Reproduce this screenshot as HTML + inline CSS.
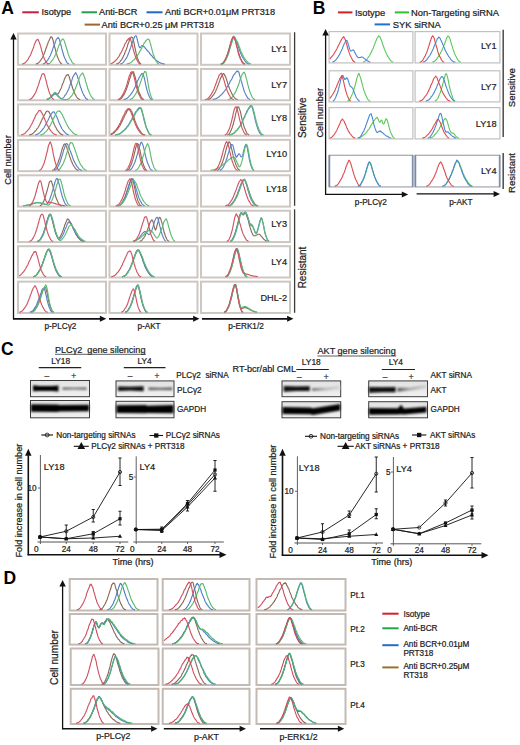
<!DOCTYPE html>
<html><head><meta charset="utf-8"><style>
html,body{margin:0;padding:0;background:#fff;}
body{width:520px;height:745px;overflow:hidden;position:relative;font-family:"Liberation Sans", sans-serif;}
</style></head><body>
<svg width="520" height="745" viewBox="0 0 520 745" style="position:absolute;left:0;top:0" font-family='"Liberation Sans", sans-serif'>
<defs><filter id="bl" x="-20%" y="-50%" width="140%" height="200%"><feGaussianBlur stdDeviation="0.9"/></filter><filter id="bl2" x="-20%" y="-50%" width="140%" height="200%"><feGaussianBlur stdDeviation="0.5"/></filter><linearGradient id="fg1" x1="0" y1="0" x2="1" y2="0"><stop offset="0" stop-color="#7a7a7a"/><stop offset="0.5" stop-color="#bdbdbd"/><stop offset="1" stop-color="#d6d6d6"/></linearGradient><linearGradient id="fg2" x1="0" y1="0" x2="1" y2="0"><stop offset="0" stop-color="#555"/><stop offset="0.4" stop-color="#a8a8a8"/><stop offset="1" stop-color="#cfcfcf"/></linearGradient><linearGradient id="bgg" x1="0" y1="0" x2="0" y2="1"><stop offset="0" stop-color="#e2e2e2"/><stop offset="1" stop-color="#f0f0f0"/></linearGradient></defs>
<rect width="520" height="745" fill="#fff"/>
<text x="1.2" y="13.9" font-size="17.5" text-anchor="start" font-weight="bold" fill="#000">A</text>
<line x1="22.3" y1="12.3" x2="38.8" y2="12.3" stroke="#c8203c" stroke-width="2"/>
<text x="41.5" y="15.4" font-size="9.2" text-anchor="start" font-weight="normal" fill="#222" stroke="#222" stroke-width="0.22">Isotype</text>
<line x1="81.5" y1="12.3" x2="97" y2="12.3" stroke="#20a050" stroke-width="2"/>
<text x="99" y="15.4" font-size="9.2" text-anchor="start" font-weight="normal" fill="#222" stroke="#222" stroke-width="0.22">Anti-BCR</text>
<line x1="146.5" y1="12.3" x2="162.5" y2="12.3" stroke="#2068c0" stroke-width="2"/>
<text x="165" y="15.4" font-size="9.2" text-anchor="start" font-weight="normal" fill="#222" stroke="#222" stroke-width="0.22">Anti BCR+0.01μM PRT318</text>
<line x1="84.6" y1="24.6" x2="100" y2="24.6" stroke="#9c6630" stroke-width="2"/>
<text x="101.5" y="27.7" font-size="9.2" text-anchor="start" font-weight="normal" fill="#222" stroke="#222" stroke-width="0.22">Anti BCR+0.25 μM PRT318</text>
<rect x="18" y="33.5" width="88" height="31.3" fill="#fff" stroke="#cdc7c2" stroke-width="2"/>
<rect x="109.5" y="33.5" width="88" height="31.3" fill="#fff" stroke="#cdc7c2" stroke-width="2"/>
<rect x="201" y="33.5" width="89" height="31.3" fill="#fff" stroke="#cdc7c2" stroke-width="2"/>
<rect x="18" y="68.95" width="88" height="31.3" fill="#fff" stroke="#cdc7c2" stroke-width="2"/>
<rect x="109.5" y="68.95" width="88" height="31.3" fill="#fff" stroke="#cdc7c2" stroke-width="2"/>
<rect x="201" y="68.95" width="89" height="31.3" fill="#fff" stroke="#cdc7c2" stroke-width="2"/>
<rect x="18" y="104.4" width="88" height="31.3" fill="#fff" stroke="#cdc7c2" stroke-width="2"/>
<rect x="109.5" y="104.4" width="88" height="31.3" fill="#fff" stroke="#cdc7c2" stroke-width="2"/>
<rect x="201" y="104.4" width="89" height="31.3" fill="#fff" stroke="#cdc7c2" stroke-width="2"/>
<rect x="18" y="139.85" width="88" height="31.3" fill="#fff" stroke="#cdc7c2" stroke-width="2"/>
<rect x="109.5" y="139.85" width="88" height="31.3" fill="#fff" stroke="#cdc7c2" stroke-width="2"/>
<rect x="201" y="139.85" width="89" height="31.3" fill="#fff" stroke="#cdc7c2" stroke-width="2"/>
<rect x="18" y="175.3" width="88" height="31.3" fill="#fff" stroke="#cdc7c2" stroke-width="2"/>
<rect x="109.5" y="175.3" width="88" height="31.3" fill="#fff" stroke="#cdc7c2" stroke-width="2"/>
<rect x="201" y="175.3" width="89" height="31.3" fill="#fff" stroke="#cdc7c2" stroke-width="2"/>
<rect x="18" y="210.75" width="88" height="31.3" fill="#fff" stroke="#cdc7c2" stroke-width="2"/>
<rect x="109.5" y="210.75" width="88" height="31.3" fill="#fff" stroke="#cdc7c2" stroke-width="2"/>
<rect x="201" y="210.75" width="89" height="31.3" fill="#fff" stroke="#cdc7c2" stroke-width="2"/>
<rect x="18" y="246.2" width="88" height="31.3" fill="#fff" stroke="#cdc7c2" stroke-width="2"/>
<rect x="109.5" y="246.2" width="88" height="31.3" fill="#fff" stroke="#cdc7c2" stroke-width="2"/>
<rect x="201" y="246.2" width="89" height="31.3" fill="#fff" stroke="#cdc7c2" stroke-width="2"/>
<rect x="18" y="281.65" width="88" height="31.3" fill="#fff" stroke="#cdc7c2" stroke-width="2"/>
<rect x="109.5" y="281.65" width="88" height="31.3" fill="#fff" stroke="#cdc7c2" stroke-width="2"/>
<rect x="201" y="281.65" width="89" height="31.3" fill="#fff" stroke="#cdc7c2" stroke-width="2"/>
<text x="287" y="51.7" font-size="9.2" text-anchor="end" font-weight="normal" fill="#222" stroke="#222" stroke-width="0.22">LY1</text>
<text x="287" y="88.2" font-size="9.2" text-anchor="end" font-weight="normal" fill="#222" stroke="#222" stroke-width="0.22">LY7</text>
<text x="287" y="120.6" font-size="9.2" text-anchor="end" font-weight="normal" fill="#222" stroke="#222" stroke-width="0.22">LY8</text>
<text x="287" y="156.8" font-size="9.2" text-anchor="end" font-weight="normal" fill="#222" stroke="#222" stroke-width="0.22">LY10</text>
<text x="287" y="192.2" font-size="9.2" text-anchor="end" font-weight="normal" fill="#222" stroke="#222" stroke-width="0.22">LY18</text>
<text x="287" y="226.6" font-size="9.2" text-anchor="end" font-weight="normal" fill="#222" stroke="#222" stroke-width="0.22">LY3</text>
<text x="287" y="264.7" font-size="9.2" text-anchor="end" font-weight="normal" fill="#222" stroke="#222" stroke-width="0.22">LY4</text>
<text x="287" y="300.7" font-size="9.2" text-anchor="end" font-weight="normal" fill="#222" stroke="#222" stroke-width="0.22">DHL-2</text>
<path d="M35.7 64.01 L36.2 63.91 L36.7 63.76 L37.2 63.61 L37.7 63.4 L38.2 62.99 L38.7 62.74 L39.2 62.13 L39.7 61.57 L40.2 60.95 L40.7 60.07 L41.2 59.6 L41.7 58.67 L42.2 58.01 L42.7 57.09 L43.2 55.89 L43.7 54.55 L44.2 53.81 L44.7 52.5 L45.2 50.88 L45.7 49.25 L46.2 48.1 L46.7 46.79 L47.2 44.83 L47.7 44.21 L48.2 42.07 L48.7 41.29 L49.2 40.22 L49.7 39.18 L50.2 38.1 L50.7 36.91 L51.2 37.18 L51.7 36.9 L52.2 37.67 L52.7 39.24 L53.2 40.72 L53.7 43.05 L54.2 45.05 L54.7 46.99 L55.2 48.68 L55.7 50.87 L56.2 52.84 L56.7 54.4 L57.2 56.06 L57.7 57.54 L58.2 58.52 L58.7 59.63 L59.2 60.78 L59.7 61.71 L60.2 62.51 L60.7 63 L61.2 63.45 L61.7 63.77 L62.2 63.96" fill="none" stroke="#8e6a58" stroke-width="1.15" stroke-linejoin="round" opacity="1"/>
<path d="M42.7 63.98 L43.2 63.86 L43.7 63.71 L44.2 63.54 L44.7 63.15 L45.2 63 L45.7 62.51 L46.2 61.89 L46.7 61.44 L47.2 60.54 L47.7 60.11 L48.2 59.16 L48.7 58.33 L49.2 57.57 L49.7 56.46 L50.2 55.75 L50.7 54.42 L51.2 53.29 L51.7 52.04 L52.2 50.81 L52.7 49.15 L53.2 47.65 L53.7 46.6 L54.2 45.02 L54.7 44.17 L55.2 42.25 L55.7 41.05 L56.2 39.57 L56.7 38.75 L57.2 38.51 L57.7 37.85 L58.2 37.33 L58.7 38.43 L59.2 38.99 L59.7 40.69 L60.2 42.43 L60.7 44.37 L61.2 45.74 L61.7 48.3 L62.2 50.19 L62.7 51.99 L63.2 53.46 L63.7 55.59 L64.2 56.83 L64.7 58.08 L65.2 59.06 L65.7 60.07 L66.2 61.09 L66.7 62.19 L67.2 62.82 L67.7 63.31 L68.2 63.57 L68.7 63.86 L69.2 64.02" fill="none" stroke="#5a80c8" stroke-width="1.15" stroke-linejoin="round" opacity="1"/>
<path d="M47.2 64.03 L47.7 63.93 L48.2 63.79 L48.7 63.55 L49.2 63.45 L49.7 63.17 L50.2 62.8 L50.7 62.35 L51.2 61.71 L51.7 60.98 L52.2 60.44 L52.7 59.92 L53.2 59.04 L53.7 58.28 L54.2 57.31 L54.7 56.15 L55.2 55.26 L55.7 54.25 L56.2 53.01 L56.7 51.72 L57.2 50.88 L57.7 48.91 L58.2 47.63 L58.7 46.18 L59.2 44.88 L59.7 43.94 L60.2 42.7 L60.7 41.85 L61.2 40.34 L61.7 40.07 L62.2 39.44 L62.7 38.94 L63.2 39.09 L63.7 39.58 L64.2 40.92 L64.7 42.31 L65.2 43.72 L65.7 45.45 L66.2 46.99 L66.7 49.05 L67.2 50.16 L67.7 52.06 L68.2 53.97 L68.7 55.37 L69.2 56.66 L69.7 57.86 L70.2 59.03 L70.7 59.65 L71.2 60.41 L71.7 61.56 L72.2 62.31 L72.7 62.98 L73.2 63.39 L73.7 63.65 L74.2 63.84 L74.7 63.99" fill="none" stroke="#5cbb72" stroke-width="1.15" stroke-linejoin="round" opacity="1"/>
<path d="M22.2 64.01 L22.7 63.91 L23.2 63.77 L23.7 63.63 L24.2 63.3 L24.7 63.14 L25.2 62.81 L25.7 62.1 L26.2 61.64 L26.7 61.07 L27.2 60.32 L27.7 59.9 L28.2 58.99 L28.7 57.98 L29.2 57.17 L29.7 56.31 L30.2 55.54 L30.7 54.4 L31.2 53.38 L31.7 51.74 L32.2 50.64 L32.7 49.15 L33.2 48.17 L33.7 46.94 L34.2 45.14 L34.7 43.71 L35.2 42.64 L35.7 41.59 L36.2 40.63 L36.7 39.93 L37.2 39.87 L37.7 39.3 L38.2 39.72 L38.7 40.89 L39.2 42.13 L39.7 43.43 L40.2 45.18 L40.7 46.66 L41.2 48.36 L41.7 50.63 L42.2 52.09 L42.7 53.78 L43.2 55.38 L43.7 57.12 L44.2 58.42 L44.7 59.49 L45.2 60.42 L45.7 61.32 L46.2 62.08 L46.7 62.69 L47.2 63.2 L47.7 63.61 L48.2 63.85 L48.7 64.01" fill="none" stroke="#cf5562" stroke-width="1.15" stroke-linejoin="round" opacity="1"/>
<path d="M116.2 64.01 L116.7 63.91 L117.2 63.76 L117.7 63.55 L118.2 63.28 L118.7 63.11 L119.2 62.58 L119.7 62.01 L120.2 61.43 L120.7 60.68 L121.2 60.07 L121.7 59.52 L122.2 58.48 L122.7 57.86 L123.2 56.68 L123.7 55.55 L124.2 54.78 L124.7 53.59 L125.2 51.95 L125.7 50.76 L126.2 49.79 L126.7 48.4 L127.2 46.93 L127.7 44.82 L128.2 43.45 L128.7 42.66 L129.2 40.69 L129.7 39.31 L130.2 38.55 L130.7 37.96 L131.2 37.09 L131.7 37.14 L132.2 37.45 L132.7 37.55 L133.2 39.56 L133.7 41.76 L134.2 43.72 L134.7 46.6 L135.2 48.68 L135.7 51.06 L136.2 53.63 L136.7 55.54 L137.2 57.21 L137.7 58.69 L138.2 59.76 L138.7 61.07 L139.2 62.12 L139.7 62.96 L140.2 63.33 L140.7 63.75 L141.2 63.97" fill="none" stroke="#8e6a58" stroke-width="1.15" stroke-linejoin="round" opacity="1"/>
<path d="M120.2 63.99 L120.7 63.87 L121.2 63.71 L121.7 63.53 L122.2 63.25 L122.7 62.89 L123.2 62.37 L123.7 61.97 L124.2 61.15 L124.7 60.49 L125.2 59.78 L125.7 59.06 L126.2 58.5 L126.7 57.41 L127.2 56.57 L127.7 55.62 L128.2 53.98 L128.7 53.14 L129.2 51.62 L129.7 50.04 L130.2 48.72 L130.7 47.42 L131.2 45.75 L131.7 44.2 L132.2 42.5 L132.7 41.71 L133.2 39.92 L133.7 39 L134.2 37.9 L134.7 36.5 L135.2 36.13 L135.7 35.74 L136.2 35.92 L136.7 37 L137.2 39.26 L137.7 41.18 L138.2 43.45 L138.7 45.43 L139.2 46.79 L139.7 47.75 L140.2 47.68 L140.7 47.2 L141.2 46.13 L141.7 45.82 L142.2 45.61 L142.7 45.74 L143.2 46.56 L143.7 46.61 L144.2 46.67 L144.7 47.18 L145.2 48.23 L145.7 48.76 L146.2 49.06 L146.7 49.93 L147.2 50.41 L147.7 51.15 L148.2 51.36 L148.7 51.93 L149.2 52.51 L149.7 53.65 L150.2 53.92 L150.7 54.58 L151.2 55.51 L151.7 55.67 L152.2 56.21 L152.7 57.18 L153.2 57.33 L153.7 58.12 L154.2 58.57 L154.7 58.8 L155.2 59.31 L155.7 60.01 L156.2 60.28 L156.7 60.6 L157.2 61 L157.7 61.36 L158.2 61.6 L158.7 61.79 L159.2 62.34 L159.7 62.5 L160.2 62.79 L160.7 63.12 L161.2 63.25 L161.7 63.36 L162.2 63.53 L162.7 63.72 L163.2 63.77 L163.7 63.86 L164.2 63.93 L164.7 63.99" fill="none" stroke="#5a80c8" stroke-width="1.15" stroke-linejoin="round" opacity="1"/>
<path d="M126.7 63.98 L127.2 63.9 L127.7 63.8 L128.2 63.61 L128.7 63.49 L129.2 63.28 L129.7 63.24 L130.2 62.97 L130.7 62.74 L131.2 62.22 L131.7 61.97 L132.2 61.57 L132.7 60.96 L133.2 60.3 L133.7 59.9 L134.2 59.66 L134.7 59.2 L135.2 58.29 L135.7 57.87 L136.2 57.17 L136.7 56.82 L137.2 56.14 L137.7 55.02 L138.2 54.38 L138.7 53.79 L139.2 52.34 L139.7 51.65 L140.2 50.61 L140.7 50.2 L141.2 48.65 L141.7 48.31 L142.2 46.69 L142.7 46.06 L143.2 45.21 L143.7 44.09 L144.2 42.85 L144.7 42.6 L145.2 41.94 L145.7 40.83 L146.2 40.46 L146.7 40.03 L147.2 39.53 L147.7 39.33 L148.2 39.01 L148.7 39.17 L149.2 40.05 L149.7 40.89 L150.2 42.92 L150.7 44.51 L151.2 46.68 L151.7 48.47 L152.2 50.62 L152.7 52.28 L153.2 54.15 L153.7 55.3 L154.2 56.84 L154.7 58.3 L155.2 59.26 L155.7 60.03 L156.2 61.29 L156.7 61.97 L157.2 62.77 L157.7 63.25 L158.2 63.55 L158.7 63.84 L159.2 64" fill="none" stroke="#5cbb72" stroke-width="1.15" stroke-linejoin="round" opacity="1"/>
<path d="M110.7 63.73 L111.2 63.6 L111.7 63.41 L112.2 63.15 L112.7 62.82 L113.2 62.66 L113.7 62.17 L114.2 61.76 L114.7 61.28 L115.2 60.77 L115.7 60.31 L116.2 59.94 L116.7 59.38 L117.2 58.83 L117.7 57.88 L118.2 57.44 L118.7 56.77 L119.2 56.05 L119.7 54.77 L120.2 53.87 L120.7 53.07 L121.2 52.38 L121.7 51.42 L122.2 50.36 L122.7 49.19 L123.2 48.37 L123.7 47.07 L124.2 46.15 L124.7 44.48 L125.2 43.42 L125.7 42.8 L126.2 42.13 L126.7 40.56 L127.2 40.38 L127.7 39.62 L128.2 39.38 L128.7 38.53 L129.2 38.13 L129.7 38.02 L130.2 38.89 L130.7 39.67 L131.2 41.6 L131.7 43.06 L132.2 45.1 L132.7 46.8 L133.2 49.07 L133.7 51 L134.2 52.64 L134.7 54.4 L135.2 55.76 L135.7 57.2 L136.2 58.33 L136.7 59.46 L137.2 60.36 L137.7 61.35 L138.2 62.34 L138.7 62.97 L139.2 63.29 L139.7 63.74 L140.2 63.91 L140.7 64.05" fill="none" stroke="#cf5562" stroke-width="1.15" stroke-linejoin="round" opacity="1"/>
<path d="M220.7 64.06 L221.2 63.95 L221.7 63.78 L222.2 63.5 L222.7 63.18 L223.2 62.87 L223.7 62.07 L224.2 61.26 L224.7 60.35 L225.2 59.49 L225.7 58.51 L226.2 57.78 L226.7 56.37 L227.2 55.04 L227.7 53.35 L228.2 51.76 L228.7 50.03 L229.2 48.43 L229.7 46.33 L230.2 44.66 L230.7 42.83 L231.2 41.55 L231.7 40.19 L232.2 38.74 L232.7 37.46 L233.2 37.06 L233.7 36.23 L234.2 37.18 L234.7 38.23 L235.2 39.71 L235.7 41.38 L236.2 43.44 L236.7 45.84 L237.2 47.16 L237.7 49.17 L238.2 51.24 L238.7 52.99 L239.2 54.55 L239.7 56.38 L240.2 57.34 L240.7 58.74 L241.2 59.82 L241.7 60.63 L242.2 61.5 L242.7 62.44 L243.2 62.89 L243.7 63.28 L244.2 63.68 L244.7 63.89 L245.2 64.03" fill="none" stroke="#8e6a58" stroke-width="1.15" stroke-linejoin="round" opacity="1"/>
<path d="M221.2 64 L221.7 63.86 L222.2 63.67 L222.7 63.37 L223.2 62.94 L223.7 62.39 L224.2 61.74 L224.7 60.84 L225.2 60.18 L225.7 59.3 L226.2 58.27 L226.7 56.89 L227.2 55.87 L227.7 54.32 L228.2 53.17 L228.7 51.52 L229.2 49.66 L229.7 47.56 L230.2 45.73 L230.7 43.94 L231.2 42.56 L231.7 40.74 L232.2 39.37 L232.7 38.21 L233.2 37.75 L233.7 36.59 L234.2 37.55 L234.7 37.31 L235.2 38.16 L235.7 40.08 L236.2 40.8 L236.7 41.73 L237.2 42.96 L237.7 44.85 L238.2 46.45 L238.7 47.94 L239.2 48.79 L239.7 50.74 L240.2 51.81 L240.7 53.39 L241.2 54.34 L241.7 55.22 L242.2 56.73 L242.7 57.32 L243.2 58.35 L243.7 58.97 L244.2 59.76 L244.7 60.57 L245.2 61.13 L245.7 61.93 L246.2 62.58 L246.7 63 L247.2 63.23 L247.7 63.5 L248.2 63.73 L248.7 63.86 L249.2 63.98" fill="none" stroke="#5a80c8" stroke-width="1.15" stroke-linejoin="round" opacity="1"/>
<path d="M221.7 64 L222.2 63.86 L222.7 63.72 L223.2 63.41 L223.7 63.04 L224.2 62.4 L224.7 61.97 L225.2 60.86 L225.7 59.95 L226.2 59.4 L226.7 58.05 L227.2 57.03 L227.7 55.68 L228.2 54.67 L228.7 53.13 L229.2 51.52 L229.7 49.38 L230.2 47.93 L230.7 46.35 L231.2 44.53 L231.7 42.97 L232.2 41.62 L232.7 40.19 L233.2 38.32 L233.7 38.07 L234.2 37.05 L234.7 37.96 L235.2 38.41 L235.7 38.83 L236.2 39.99 L236.7 40.78 L237.2 41.31 L237.7 42.56 L238.2 43.87 L238.7 45.31 L239.2 46.37 L239.7 47.65 L240.2 49.25 L240.7 50.37 L241.2 52.06 L241.7 52.75 L242.2 54.04 L242.7 54.9 L243.2 55.94 L243.7 57.05 L244.2 58 L244.7 58.33 L245.2 59.4 L245.7 59.88 L246.2 60.49 L246.7 61.19 L247.2 61.67 L247.7 62.13 L248.2 62.75 L248.7 63.01 L249.2 63.36 L249.7 63.54 L250.2 63.72 L250.7 63.86 L251.2 63.97" fill="none" stroke="#5cbb72" stroke-width="1.15" stroke-linejoin="round" opacity="1"/>
<path d="M220.7 64.06 L221.2 63.95 L221.7 63.78 L222.2 63.56 L222.7 63.28 L223.2 62.85 L223.7 62.27 L224.2 61.28 L224.7 60.43 L225.2 59.75 L225.7 58.51 L226.2 57.38 L226.7 56.47 L227.2 55.33 L227.7 53.85 L228.2 52.35 L228.7 50.5 L229.2 48.93 L229.7 47.01 L230.2 45.17 L230.7 43.1 L231.2 41.09 L231.7 39.65 L232.2 38.65 L232.7 37.6 L233.2 36.82 L233.7 36.92 L234.2 37.68 L234.7 39.18 L235.2 40.54 L235.7 41.73 L236.2 44.52 L236.7 46.26 L237.2 48.25 L237.7 50.11 L238.2 52.5 L238.7 54.23 L239.2 55.84 L239.7 57.2 L240.2 58.43 L240.7 59.3 L241.2 60.29 L241.7 61.42 L242.2 62.5 L242.7 63.08 L243.2 63.38 L243.7 63.72 L244.2 63.93 L244.7 64.06" fill="none" stroke="#cf5562" stroke-width="1.15" stroke-linejoin="round" opacity="1"/>
<path d="M46.7 99.47 L47.2 99.34 L47.7 99.16 L48.2 98.84 L48.7 98.64 L49.2 98.33 L49.7 98.14 L50.2 97.65 L50.7 97.03 L51.2 96.56 L51.7 96 L52.2 95.38 L52.7 95.12 L53.2 94.65 L53.7 94.15 L54.2 93.59 L54.7 93.24 L55.2 93.06 L55.7 93.32 L56.2 93.57 L56.7 93.7 L57.2 93.96 L57.7 93.81 L58.2 93.69 L58.7 92.7 L59.2 92.2 L59.7 90.86 L60.2 89.97 L60.7 89.05 L61.2 87.97 L61.7 86.63 L62.2 85.03 L62.7 83.64 L63.2 82.77 L63.7 81.49 L64.2 79.8 L64.7 78.51 L65.2 77.55 L65.7 76.69 L66.2 75.47 L66.7 75.39 L67.2 74.69 L67.7 74.51 L68.2 74.53 L68.7 75.75 L69.2 76.71 L69.7 78.49 L70.2 80.25 L70.7 81.86 L71.2 82.95 L71.7 84.85 L72.2 86.78 L72.7 88.53 L73.2 89.68 L73.7 90.94 L74.2 92.34 L74.7 93.54 L75.2 94.34 L75.7 95.11 L76.2 96.15 L76.7 97.08 L77.2 97.72 L77.7 98.26 L78.2 98.64 L78.7 99.04 L79.2 99.23 L79.7 99.39 L80.2 99.51" fill="none" stroke="#8e6a58" stroke-width="1.15" stroke-linejoin="round" opacity="1"/>
<path d="M46.7 99.49 L47.2 99.38 L47.7 99.22 L48.2 98.94 L48.7 98.7 L49.2 98.49 L49.7 98.26 L50.2 97.71 L50.7 97.5 L51.2 96.89 L51.7 96.62 L52.2 96.13 L52.7 95.42 L53.2 95.13 L53.7 94.41 L54.2 94.27 L54.7 94.2 L55.2 94.16 L55.7 94.26 L56.2 94.47 L56.7 94.76 L57.2 95.57 L57.7 95.96 L58.2 96.53 L58.7 96.75 L59.2 97.46 L59.7 97.89 L60.2 98.23 L60.7 98.45 L61.2 98.57 L61.7 98.66 L62.2 98.56 L62.7 98.17 L63.2 97.74 L63.7 97.36 L64.2 96.75 L64.7 95.72 L65.2 95.16 L65.7 94.77 L66.2 93.7 L66.7 92.98 L67.2 92.03 L67.7 91.03 L68.2 90.02 L68.7 88.95 L69.2 87.51 L69.7 86.15 L70.2 84.31 L70.7 83.57 L71.2 81.46 L71.7 80.7 L72.2 79.2 L72.7 77.45 L73.2 76.22 L73.7 75.5 L74.2 74.95 L74.7 73.78 L75.2 73.39 L75.7 72.69 L76.2 73.89 L76.7 74.59 L77.2 75.25 L77.7 77.51 L78.2 78.75 L78.7 80.1 L79.2 81.91 L79.7 84.26 L80.2 85.98 L80.7 87.6 L81.2 88.59 L81.7 90.47 L82.2 91.52 L82.7 92.66 L83.2 94.02 L83.7 94.99 L84.2 95.53 L84.7 96.57 L85.2 97.5 L85.7 98.01 L86.2 98.58 L86.7 98.94 L87.2 99.16 L87.7 99.35 L88.2 99.48" fill="none" stroke="#5a80c8" stroke-width="1.15" stroke-linejoin="round" opacity="1"/>
<path d="M46.7 99.44 L47.2 99.3 L47.7 99.18 L48.2 98.77 L48.7 98.42 L49.2 98.15 L49.7 97.68 L50.2 97.5 L50.7 96.94 L51.2 96.3 L51.7 95.51 L52.2 94.87 L52.7 94.48 L53.2 93.94 L53.7 93.32 L54.2 92.85 L54.7 92.34 L55.2 92.7 L55.7 92.62 L56.2 93.06 L56.7 93.55 L57.2 94.18 L57.7 94.89 L58.2 95.63 L58.7 96.24 L59.2 96.79 L59.7 97.18 L60.2 97.84 L60.7 98.19 L61.2 98.39 L61.7 98.79 L62.2 99.12 L62.7 99.27 L63.2 99.42 L63.7 99.52 L64.2 99.58 L64.7 99.62 L65.2 99.63 L65.7 99.59 L66.2 99.53 L66.7 99.45 L67.2 99.34 L67.7 99.2 L68.2 99.08 L68.7 98.75 L69.2 98.48 L69.7 97.92 L70.2 97.43 L70.7 96.77 L71.2 96.27 L71.7 95.7 L72.2 95.03 L72.7 94.1 L73.2 93.16 L73.7 92.38 L74.2 91.51 L74.7 90.32 L75.2 89.03 L75.7 87.75 L76.2 86.39 L76.7 84.96 L77.2 83.7 L77.7 82.73 L78.2 80.71 L78.7 79.8 L79.2 78.21 L79.7 77.13 L80.2 75.62 L80.7 75.15 L81.2 74.28 L81.7 73.68 L82.2 73.47 L82.7 72.94 L83.2 73.98 L83.7 75.3 L84.2 76.57 L84.7 77.55 L85.2 79.67 L85.7 81.65 L86.2 82.94 L86.7 84.83 L87.2 86.28 L87.7 88.52 L88.2 89.77 L88.7 90.96 L89.2 92.22 L89.7 93.32 L90.2 94.73 L90.7 95.48 L91.2 96.36 L91.7 97.22 L92.2 97.7 L92.7 98.35 L93.2 98.69 L93.7 99.09 L94.2 99.28 L94.7 99.43" fill="none" stroke="#5cbb72" stroke-width="1.15" stroke-linejoin="round" opacity="1"/>
<path d="M29.2 99.46 L29.7 99.34 L30.2 99.18 L30.7 98.9 L31.2 98.68 L31.7 98.34 L32.2 97.71 L32.7 97.02 L33.2 96.52 L33.7 95.57 L34.2 94.82 L34.7 94.17 L35.2 93.16 L35.7 92.25 L36.2 91.08 L36.7 89.81 L37.2 88.25 L37.7 86.79 L38.2 85.63 L38.7 84.25 L39.2 82.43 L39.7 80.57 L40.2 79.47 L40.7 77.9 L41.2 76.66 L41.7 74.89 L42.2 74.16 L42.7 73.93 L43.2 73.53 L43.7 73.5 L44.2 74.25 L44.7 75.5 L45.2 77.67 L45.7 79.45 L46.2 80.95 L46.7 83.22 L47.2 85.31 L47.7 87.2 L48.2 88.57 L48.7 90.64 L49.2 91.98 L49.7 93.42 L50.2 94.54 L50.7 95.34 L51.2 96.3 L51.7 97.47 L52.2 98.21 L52.7 98.61 L53.2 99.07 L53.7 99.28 L54.2 99.45" fill="none" stroke="#cf5562" stroke-width="1.15" stroke-linejoin="round" opacity="1"/>
<path d="M118.7 99.49 L119.2 99.39 L119.7 99.24 L120.2 99.11 L120.7 98.68 L121.2 98.41 L121.7 97.85 L122.2 97.37 L122.7 96.45 L123.2 95.74 L123.7 95.14 L124.2 94.39 L124.7 93.2 L125.2 92.11 L125.7 90.79 L126.2 90.03 L126.7 88.34 L127.2 87.06 L127.7 85.44 L128.2 84.13 L128.7 82.41 L129.2 80.57 L129.7 78.59 L130.2 77.78 L130.7 75.97 L131.2 74.34 L131.7 73.05 L132.2 72.98 L132.7 72.51 L133.2 71.63 L133.7 72.32 L134.2 74.06 L134.7 76.08 L135.2 77.1 L135.7 79.62 L136.2 81.27 L136.7 83.62 L137.2 85.51 L137.7 87.92 L138.2 89.29 L138.7 91.26 L139.2 92.6 L139.7 93.66 L140.2 94.78 L140.7 95.98 L141.2 97.06 L141.7 97.83 L142.2 98.42 L142.7 98.88 L143.2 99.17 L143.7 99.38 L144.2 99.51" fill="none" stroke="#8e6a58" stroke-width="1.15" stroke-linejoin="round" opacity="1"/>
<path d="M123.7 99.46 L124.2 99.38 L124.7 99.27 L125.2 99.19 L125.7 99.01 L126.2 98.71 L126.7 98.41 L127.2 98.29 L127.7 97.78 L128.2 97.27 L128.7 96.97 L129.2 96.05 L129.7 95.79 L130.2 95.06 L130.7 94.48 L131.2 93.79 L131.7 93.24 L132.2 92.42 L132.7 91.51 L133.2 90.72 L133.7 89.63 L134.2 88.78 L134.7 87.75 L135.2 86.97 L135.7 85.42 L136.2 84.37 L136.7 83.42 L137.2 81.81 L137.7 80.62 L138.2 79.75 L138.7 78.9 L139.2 77.57 L139.7 76.93 L140.2 76.01 L140.7 74.92 L141.2 74.6 L141.7 73.74 L142.2 73.36 L142.7 73.89 L143.2 74.17 L143.7 76.23 L144.2 77.53 L144.7 79.7 L145.2 82.25 L145.7 84.94 L146.2 86.84 L146.7 89.03 L147.2 90.58 L147.7 92.73 L148.2 93.82 L148.7 95 L149.2 96.23 L149.7 97.35 L150.2 98.32 L150.7 98.71 L151.2 99.17 L151.7 99.4 L152.2 99.54" fill="none" stroke="#5a80c8" stroke-width="1.15" stroke-linejoin="round" opacity="1"/>
<path d="M129.7 99.46 L130.2 99.35 L130.7 99.2 L131.2 99.01 L131.7 98.67 L132.2 98.34 L132.7 98.11 L133.2 97.43 L133.7 96.74 L134.2 96.28 L134.7 95.44 L135.2 94.57 L135.7 94.06 L136.2 92.82 L136.7 92.19 L137.2 90.83 L137.7 90.09 L138.2 88.65 L138.7 87.05 L139.2 86.18 L139.7 84.72 L140.2 83.05 L140.7 81.7 L141.2 80.45 L141.7 78.84 L142.2 77.42 L142.7 75.31 L143.2 74.3 L143.7 72.96 L144.2 72.79 L144.7 71.45 L145.2 71.76 L145.7 71.61 L146.2 73.03 L146.7 75.61 L147.2 77.91 L147.7 81.2 L148.2 84.18 L148.7 86.8 L149.2 89.88 L149.7 91.58 L150.2 93.66 L150.7 95.29 L151.2 96.64 L151.7 97.99 L152.2 98.6 L152.7 99.17 L153.2 99.44" fill="none" stroke="#5cbb72" stroke-width="1.15" stroke-linejoin="round" opacity="1"/>
<path d="M117.7 99.47 L118.2 99.35 L118.7 99.19 L119.2 98.95 L119.7 98.7 L120.2 98.22 L120.7 97.79 L121.2 97.24 L121.7 96.25 L122.2 95.67 L122.7 94.57 L123.2 93.96 L123.7 92.79 L124.2 91.5 L124.7 90.51 L125.2 89.15 L125.7 87.97 L126.2 86.7 L126.7 85.12 L127.2 83.41 L127.7 81.35 L128.2 79.83 L128.7 78.11 L129.2 76.16 L129.7 75.44 L130.2 74.04 L130.7 72.51 L131.2 72.34 L131.7 71.89 L132.2 71.65 L132.7 72.76 L133.2 73.84 L133.7 75.67 L134.2 77.27 L134.7 79.36 L135.2 81.84 L135.7 83.64 L136.2 85.83 L136.7 88.01 L137.2 89.29 L137.7 91.35 L138.2 92.83 L138.7 94.11 L139.2 94.95 L139.7 95.88 L140.2 97.01 L140.7 97.93 L141.2 98.54 L141.7 99 L142.2 99.2 L142.7 99.4" fill="none" stroke="#cf5562" stroke-width="1.15" stroke-linejoin="round" opacity="1"/>
<path d="M207.7 99.49 L208.2 99.4 L208.7 99.27 L209.2 99.08 L209.7 98.87 L210.2 98.63 L210.7 98.21 L211.2 97.82 L211.7 97.12 L212.2 96.5 L212.7 95.97 L213.2 95.08 L213.7 94.76 L214.2 93.76 L214.7 92.96 L215.2 92.12 L215.7 91.21 L216.2 89.67 L216.7 88.99 L217.2 87.39 L217.7 85.81 L218.2 85.07 L218.7 83.66 L219.2 81.95 L219.7 80.67 L220.2 79.22 L220.7 77.79 L221.2 77.23 L221.7 76.06 L222.2 75.19 L222.7 74.77 L223.2 73.5 L223.7 73.57 L224.2 74.08 L224.7 75.54 L225.2 75.71 L225.7 77.01 L226.2 78.61 L226.7 79.81 L227.2 81.56 L227.7 83.28 L228.2 84.89 L228.7 86.27 L229.2 87.84 L229.7 88.99 L230.2 90.02 L230.7 91.25 L231.2 92.28 L231.7 93.35 L232.2 94.46 L232.7 95.12 L233.2 95.88 L233.7 96.53 L234.2 97.35 L234.7 98 L235.2 98.37 L235.7 98.67 L236.2 99.07 L236.7 99.23 L237.2 99.38 L237.7 99.49" fill="none" stroke="#8e6a58" stroke-width="1.15" stroke-linejoin="round" opacity="1"/>
<path d="M212.7 99.44 L213.2 99.37 L213.7 99.29 L214.2 99.2 L214.7 99.02 L215.2 99.02 L215.7 98.83 L216.2 98.65 L216.7 98.32 L217.2 98.01 L217.7 97.77 L218.2 97.55 L218.7 97 L219.2 96.75 L219.7 96.3 L220.2 95.52 L220.7 95.23 L221.2 94.76 L221.7 94.3 L222.2 93.64 L222.7 93.35 L223.2 92.59 L223.7 92.05 L224.2 91.32 L224.7 90.88 L225.2 90 L225.7 89.35 L226.2 88.74 L226.7 88.01 L227.2 86.88 L227.7 86.42 L228.2 84.91 L228.7 84.59 L229.2 83.77 L229.7 82.78 L230.2 81.15 L230.7 80.7 L231.2 79.95 L231.7 79.13 L232.2 78.21 L232.7 76.71 L233.2 75.9 L233.7 75.02 L234.2 74.21 L234.7 74.18 L235.2 73 L235.7 72.67 L236.2 71.71 L236.7 71.33 L237.2 70.99 L237.7 71.76 L238.2 71.28 L238.7 72.09 L239.2 73.28 L239.7 75.6 L240.2 77.17 L240.7 79.05 L241.2 80.97 L241.7 82.17 L242.2 84.07 L242.7 86.01 L243.2 87.58 L243.7 89.31 L244.2 90.97 L244.7 92.38 L245.2 93.54 L245.7 94.26 L246.2 95.4 L246.7 96.27 L247.2 97.14 L247.7 97.96 L248.2 98.43 L248.7 98.82 L249.2 99.05 L249.7 99.29 L250.2 99.44" fill="none" stroke="#5a80c8" stroke-width="1.15" stroke-linejoin="round" opacity="1"/>
<path d="M228.2 99.48 L228.7 99.38 L229.2 99.25 L229.7 99.09 L230.2 98.87 L230.7 98.45 L231.2 98.17 L231.7 97.6 L232.2 97.08 L232.7 96.57 L233.2 95.69 L233.7 95.02 L234.2 94.13 L234.7 93.51 L235.2 92.41 L235.7 91.5 L236.2 90.62 L236.7 89.04 L237.2 88.31 L237.7 86.49 L238.2 85.6 L238.7 84.32 L239.2 82.73 L239.7 80.79 L240.2 79.15 L240.7 78.63 L241.2 76.84 L241.7 75.61 L242.2 74.2 L242.7 73.89 L243.2 72.85 L243.7 72.56 L244.2 72.04 L244.7 73.35 L245.2 73.88 L245.7 76.11 L246.2 78.01 L246.7 79.56 L247.2 81.81 L247.7 84.2 L248.2 85.8 L248.7 88.1 L249.2 89.4 L249.7 91.08 L250.2 92.48 L250.7 93.83 L251.2 95.04 L251.7 95.94 L252.2 97.04 L252.7 97.72 L253.2 98.53 L253.7 98.8 L254.2 99.17 L254.7 99.38 L255.2 99.51" fill="none" stroke="#5cbb72" stroke-width="1.15" stroke-linejoin="round" opacity="1"/>
<path d="M205.2 99.49 L205.7 99.39 L206.2 99.26 L206.7 99.16 L207.2 98.92 L207.7 98.63 L208.2 98.13 L208.7 97.77 L209.2 97.24 L209.7 96.38 L210.2 95.91 L210.7 95.18 L211.2 94.44 L211.7 93.53 L212.2 92.65 L212.7 91.74 L213.2 90.87 L213.7 89.77 L214.2 88.69 L214.7 86.95 L215.2 85.75 L215.7 84.31 L216.2 83.38 L216.7 81.75 L217.2 80.07 L217.7 78.88 L218.2 78.02 L218.7 76.51 L219.2 75.04 L219.7 74.78 L220.2 74.14 L220.7 73.6 L221.2 73.16 L221.7 73.57 L222.2 75.2 L222.7 76.42 L223.2 77.78 L223.7 79.31 L224.2 80.84 L224.7 82.9 L225.2 84.5 L225.7 86.3 L226.2 87.38 L226.7 89.1 L227.2 90.91 L227.7 91.72 L228.2 93.35 L228.7 94.24 L229.2 94.89 L229.7 95.78 L230.2 96.73 L230.7 97.6 L231.2 98.25 L231.7 98.6 L232.2 99.03 L232.7 99.21 L233.2 99.38 L233.7 99.5" fill="none" stroke="#cf5562" stroke-width="1.15" stroke-linejoin="round" opacity="1"/>
<path d="M29.2 134.89 L29.7 134.8 L30.2 134.68 L30.7 134.58 L31.2 134.38 L31.7 134.24 L32.2 133.9 L32.7 133.48 L33.2 133.12 L33.7 132.71 L34.2 132.12 L34.7 131.63 L35.2 131.28 L35.7 130.57 L36.2 130.08 L36.7 129.3 L37.2 128.53 L37.7 128.04 L38.2 127.17 L38.7 126.23 L39.2 125.54 L39.7 124.74 L40.2 123.44 L40.7 122.31 L41.2 121.34 L41.7 120.33 L42.2 119.13 L42.7 118.2 L43.2 117.17 L43.7 116.29 L44.2 115.43 L44.7 114.21 L45.2 113.84 L45.7 112.78 L46.2 111.77 L46.7 111.31 L47.2 111.03 L47.7 111.25 L48.2 111.29 L48.7 111.75 L49.2 112.31 L49.7 113.39 L50.2 114.17 L50.7 115.08 L51.2 116.94 L51.7 117.79 L52.2 118.98 L52.7 120.57 L53.2 121.76 L53.7 122.66 L54.2 124.48 L54.7 125.28 L55.2 126.58 L55.7 127.22 L56.2 128.07 L56.7 129.14 L57.2 130.1 L57.7 130.58 L58.2 131.22 L58.7 131.72 L59.2 132.5 L59.7 133.04 L60.2 133.47 L60.7 133.93 L61.2 134.25 L61.7 134.4 L62.2 134.66 L62.7 134.8 L63.2 134.9" fill="none" stroke="#8e6a58" stroke-width="1.15" stroke-linejoin="round" opacity="1"/>
<path d="M35.2 134.86 L35.7 134.77 L36.2 134.65 L36.7 134.54 L37.2 134.28 L37.7 134.11 L38.2 133.75 L38.7 133.58 L39.2 132.94 L39.7 132.66 L40.2 132.21 L40.7 131.67 L41.2 131.15 L41.7 130.79 L42.2 130.05 L42.7 129.43 L43.2 128.62 L43.7 128.08 L44.2 127.36 L44.7 126.57 L45.2 125.39 L45.7 124.35 L46.2 123.66 L46.7 122.9 L47.2 121.48 L47.7 120.76 L48.2 119.88 L48.7 118.93 L49.2 117.39 L49.7 116.38 L50.2 115.6 L50.7 114.88 L51.2 114 L51.7 113.62 L52.2 112.34 L52.7 112.48 L53.2 111.93 L53.7 111.74 L54.2 112.07 L54.7 112.96 L55.2 113.87 L55.7 114.54 L56.2 115.94 L56.7 116.44 L57.2 118.03 L57.7 118.84 L58.2 120.53 L58.7 121.67 L59.2 122.96 L59.7 124 L60.2 125.27 L60.7 126.43 L61.2 127.01 L61.7 128.18 L62.2 129.04 L62.7 129.79 L63.2 130.42 L63.7 131.08 L64.2 131.57 L64.7 132.17 L65.2 132.89 L65.7 133.25 L66.2 133.69 L66.7 134.2 L67.2 134.31 L67.7 134.52 L68.2 134.73 L68.7 134.85" fill="none" stroke="#5a80c8" stroke-width="1.15" stroke-linejoin="round" opacity="1"/>
<path d="M40.2 134.9 L40.7 134.81 L41.2 134.7 L41.7 134.52 L42.2 134.45 L42.7 134.11 L43.2 133.89 L43.7 133.72 L44.2 133.36 L44.7 132.63 L45.2 132.18 L45.7 131.74 L46.2 131.33 L46.7 130.8 L47.2 130.2 L47.7 129.32 L48.2 128.85 L48.7 128.22 L49.2 127.02 L49.7 126.24 L50.2 125.72 L50.7 124.33 L51.2 123.52 L51.7 122.38 L52.2 121.41 L52.7 120.15 L53.2 119.14 L53.7 118 L54.2 117.46 L54.7 115.98 L55.2 115.1 L55.7 113.95 L56.2 113.33 L56.7 112.11 L57.2 111.73 L57.7 111.45 L58.2 111.08 L58.7 110.97 L59.2 110.71 L59.7 111.47 L60.2 111.57 L60.7 112.52 L61.2 112.95 L61.7 113.8 L62.2 114.7 L62.7 115.42 L63.2 117.2 L63.7 117.57 L64.2 118.96 L64.7 119.97 L65.2 120.98 L65.7 121.92 L66.2 123.28 L66.7 124.25 L67.2 124.86 L67.7 126.31 L68.2 126.84 L68.7 127.65 L69.2 128.73 L69.7 129.13 L70.2 129.75 L70.7 130.24 L71.2 131.04 L71.7 131.28 L72.2 131.99 L72.7 132.57 L73.2 132.94 L73.7 133.58 L74.2 133.75 L74.7 134.05 L75.2 134.34 L75.7 134.44 L76.2 134.65 L76.7 134.77 L77.2 134.87" fill="none" stroke="#5cbb72" stroke-width="1.15" stroke-linejoin="round" opacity="1"/>
<path d="M21.2 134.87 L21.7 134.77 L22.2 134.65 L22.7 134.52 L23.2 134.31 L23.7 134.07 L24.2 133.73 L24.7 133.53 L25.2 133.07 L25.7 132.59 L26.2 131.98 L26.7 131.34 L27.2 131.06 L27.7 130.29 L28.2 129.88 L28.7 129.18 L29.2 128.6 L29.7 127.73 L30.2 126.65 L30.7 125.97 L31.2 124.96 L31.7 124.3 L32.2 123.32 L32.7 122.31 L33.2 121.04 L33.7 119.92 L34.2 118.71 L34.7 118.23 L35.2 116.59 L35.7 115.4 L36.2 114.7 L36.7 114.22 L37.2 113.13 L37.7 112.66 L38.2 111.84 L38.7 110.63 L39.2 110.6 L39.7 110.45 L40.2 110.57 L40.7 110.92 L41.2 111.86 L41.7 112.66 L42.2 113.57 L42.7 114.53 L43.2 115.71 L43.7 116.78 L44.2 118.34 L44.7 119.16 L45.2 120.51 L45.7 121.45 L46.2 123.07 L46.7 124.1 L47.2 125.24 L47.7 125.78 L48.2 126.65 L48.7 127.69 L49.2 128.66 L49.7 129.19 L50.2 129.91 L50.7 130.64 L51.2 131.33 L51.7 131.81 L52.2 132.43 L52.7 133 L53.2 133.43 L53.7 133.75 L54.2 134 L54.7 134.42 L55.2 134.53 L55.7 134.69 L56.2 134.81 L56.7 134.91" fill="none" stroke="#cf5562" stroke-width="1.15" stroke-linejoin="round" opacity="1"/>
<path d="M110.7 134.61 L111.2 134.53 L111.7 134.34 L112.2 133.98 L112.7 133.76 L113.2 133.36 L113.7 133.1 L114.2 132.79 L114.7 132.16 L115.2 131.49 L115.7 130.89 L116.2 130.36 L116.7 130.03 L117.2 129.47 L117.7 128.99 L118.2 128.02 L118.7 127.52 L119.2 126.78 L119.7 126.04 L120.2 125.18 L120.7 123.82 L121.2 123.24 L121.7 121.64 L122.2 121.27 L122.7 119.62 L123.2 119.14 L123.7 118.17 L124.2 116.52 L124.7 115.88 L125.2 114.41 L125.7 113.92 L126.2 113.12 L126.7 111.56 L127.2 110.83 L127.7 109.99 L128.2 109.54 L128.7 109.75 L129.2 108.93 L129.7 108.83 L130.2 109.45 L130.7 109.62 L131.2 111.14 L131.7 111.48 L132.2 112.88 L132.7 114.79 L133.2 116.1 L133.7 116.92 L134.2 118.18 L134.7 120.15 L135.2 121.32 L135.7 122.34 L136.2 123.99 L136.7 124.74 L137.2 126.11 L137.7 127.4 L138.2 128.18 L138.7 128.96 L139.2 129.83 L139.7 130.45 L140.2 131.31 L140.7 131.74 L141.2 132.6 L141.7 133.09 L142.2 133.57 L142.7 134 L143.2 134.3 L143.7 134.46 L144.2 134.69 L144.7 134.82 L145.2 134.92" fill="none" stroke="#8e6a58" stroke-width="1.15" stroke-linejoin="round" opacity="1"/>
<path d="M115.2 134.9 L115.7 134.83 L116.2 134.76 L116.7 134.66 L117.2 134.48 L117.7 134.37 L118.2 134.25 L118.7 134.12 L119.2 133.97 L119.7 133.51 L120.2 133.29 L120.7 132.93 L121.2 132.71 L121.7 132.2 L122.2 131.59 L122.7 131.14 L123.2 130.84 L123.7 130.54 L124.2 130.03 L124.7 129.33 L125.2 129.06 L125.7 128.35 L126.2 127.81 L126.7 127.02 L127.2 126.41 L127.7 126.04 L128.2 125.5 L128.7 124.59 L129.2 123.71 L129.7 122.79 L130.2 121.78 L130.7 120.87 L131.2 120.63 L131.7 119.12 L132.2 118.23 L132.7 117.26 L133.2 116.59 L133.7 115.95 L134.2 114.53 L134.7 113.68 L135.2 112.93 L135.7 111.88 L136.2 111.63 L136.7 111.15 L137.2 110 L137.7 109.13 L138.2 109.19 L138.7 108.16 L139.2 107.61 L139.7 108.08 L140.2 107.59 L140.7 107.97 L141.2 109.22 L141.7 110.93 L142.2 112.62 L142.7 114.11 L143.2 116.14 L143.7 118.51 L144.2 120.85 L144.7 122.27 L145.2 124.15 L145.7 126.17 L146.2 127.47 L146.7 128.65 L147.2 129.83 L147.7 130.98 L148.2 132.05 L148.7 132.95 L149.2 133.74 L149.7 134.22 L150.2 134.56 L150.7 134.76 L151.2 134.92" fill="none" stroke="#5a80c8" stroke-width="1.15" stroke-linejoin="round" opacity="1"/>
<path d="M115.7 134.89 L116.2 134.82 L116.7 134.74 L117.2 134.64 L117.7 134.5 L118.2 134.42 L118.7 134.22 L119.2 134.07 L119.7 133.83 L120.2 133.67 L120.7 133.43 L121.2 132.83 L121.7 132.64 L122.2 132.31 L122.7 131.65 L123.2 131.12 L123.7 130.98 L124.2 130.38 L124.7 130.04 L125.2 129.47 L125.7 129.2 L126.2 128.65 L126.7 127.56 L127.2 127 L127.7 126.56 L128.2 125.82 L128.7 125.3 L129.2 124.22 L129.7 123.67 L130.2 122.5 L130.7 121.79 L131.2 120.9 L131.7 119.91 L132.2 119.57 L132.7 118.86 L133.2 117.83 L133.7 116.95 L134.2 116.15 L134.7 115.3 L135.2 113.97 L135.7 112.83 L136.2 112.4 L136.7 111.16 L137.2 110.46 L137.7 110.64 L138.2 109.5 L138.7 109.18 L139.2 109.03 L139.7 107.82 L140.2 108.32 L140.7 107.96 L141.2 108.47 L141.7 109.27 L142.2 111.07 L142.7 113.11 L143.2 115.01 L143.7 117.3 L144.2 118.7 L144.7 120.72 L145.2 123.2 L145.7 125.08 L146.2 126.56 L146.7 127.95 L147.2 128.96 L147.7 130.09 L148.2 131.08 L148.7 132.43 L149.2 133.07 L149.7 133.74 L150.2 134.22 L150.7 134.5 L151.2 134.8 L151.7 134.94" fill="none" stroke="#5cbb72" stroke-width="1.15" stroke-linejoin="round" opacity="1"/>
<path d="M110.7 134.34 L111.2 134.11 L111.7 133.71 L112.2 133.33 L112.7 133.01 L113.2 132.68 L113.7 132.06 L114.2 131.38 L114.7 131.18 L115.2 130.59 L115.7 130.07 L116.2 129.54 L116.7 128.73 L117.2 128.2 L117.7 127.42 L118.2 126.69 L118.7 125.53 L119.2 125.06 L119.7 123.67 L120.2 123.05 L120.7 122.17 L121.2 120.47 L121.7 119.95 L122.2 118.3 L122.7 117.27 L123.2 116.16 L123.7 115.75 L124.2 114.44 L124.7 113.76 L125.2 112.03 L125.7 111.22 L126.2 110.63 L126.7 110.11 L127.2 109.64 L127.7 108.71 L128.2 108.78 L128.7 108.62 L129.2 109.48 L129.7 110.04 L130.2 111.06 L130.7 111.45 L131.2 112.78 L131.7 114.43 L132.2 115.12 L132.7 117.04 L133.2 118.32 L133.7 119.92 L134.2 121.2 L134.7 122.12 L135.2 123.75 L135.7 125.07 L136.2 126 L136.7 127.16 L137.2 127.82 L137.7 129.12 L138.2 129.52 L138.7 130.66 L139.2 130.97 L139.7 131.75 L140.2 132.62 L140.7 133.12 L141.2 133.64 L141.7 134.02 L142.2 134.32 L142.7 134.52 L143.2 134.68 L143.7 134.82 L144.2 134.92" fill="none" stroke="#cf5562" stroke-width="1.15" stroke-linejoin="round" opacity="1"/>
<path d="M227.2 134.93 L227.7 134.78 L228.2 134.48 L228.7 134.12 L229.2 133.63 L229.7 133.17 L230.2 132.22 L230.7 130.87 L231.2 130.23 L231.7 128.76 L232.2 127.64 L232.7 125.71 L233.2 124.61 L233.7 122.2 L234.2 120.54 L234.7 118.6 L235.2 116.58 L235.7 113.7 L236.2 111.93 L236.7 110.4 L237.2 108.58 L237.7 106.91 L238.2 107.03 L238.7 106.94 L239.2 108.37 L239.7 109.74 L240.2 110.92 L240.7 112.97 L241.2 115.55 L241.7 117.8 L242.2 119.9 L242.7 121.55 L243.2 123.57 L243.7 125.48 L244.2 127.11 L244.7 128.3 L245.2 129.49 L245.7 130.52 L246.2 131.67 L246.7 132.82 L247.2 133.59 L247.7 133.99 L248.2 134.44 L248.7 134.7 L249.2 134.88" fill="none" stroke="#8e6a58" stroke-width="1.15" stroke-linejoin="round" opacity="1"/>
<path d="M229.2 134.9 L229.7 134.83 L230.2 134.73 L230.7 134.61 L231.2 134.44 L231.7 134.38 L232.2 134.03 L232.7 133.89 L233.2 133.48 L233.7 133.12 L234.2 132.83 L234.7 132.52 L235.2 131.68 L235.7 131.23 L236.2 130.55 L236.7 130.3 L237.2 129.8 L237.7 128.89 L238.2 128.48 L238.7 127.91 L239.2 127.06 L239.7 126.15 L240.2 125.68 L240.7 124.49 L241.2 123.62 L241.7 122.61 L242.2 121.9 L242.7 120.42 L243.2 119.27 L243.7 118.13 L244.2 117.48 L244.7 116.03 L245.2 115.2 L245.7 113.76 L246.2 113.31 L246.7 111.48 L247.2 110.37 L247.7 109.85 L248.2 108.93 L248.7 108.09 L249.2 107.35 L249.7 107.28 L250.2 105.78 L250.7 106.24 L251.2 106.14 L251.7 106.71 L252.2 107.65 L252.7 108.62 L253.2 111.28 L253.7 113.28 L254.2 114.92 L254.7 117.59 L255.2 119.9 L255.7 121.54 L256.2 123.53 L256.7 125.36 L257.2 126.87 L257.7 128.62 L258.2 129.48 L258.7 130.62 L259.2 131.99 L259.7 132.94 L260.2 133.56 L260.7 134.1 L261.2 134.51 L261.7 134.73 L262.2 134.9" fill="none" stroke="#5a80c8" stroke-width="1.15" stroke-linejoin="round" opacity="1"/>
<path d="M229.7 134.88 L230.2 134.79 L230.7 134.69 L231.2 134.62 L231.7 134.43 L232.2 134.3 L232.7 133.99 L233.2 133.67 L233.7 133.53 L234.2 133.06 L234.7 132.59 L235.2 132.29 L235.7 131.5 L236.2 130.84 L236.7 130.59 L237.2 130.06 L237.7 129.29 L238.2 128.83 L238.7 128.24 L239.2 127.24 L239.7 126.58 L240.2 126.04 L240.7 125.26 L241.2 124.32 L241.7 123.32 L242.2 121.97 L242.7 121.08 L243.2 119.95 L243.7 118.95 L244.2 117.82 L244.7 117.39 L245.2 115.88 L245.7 114.38 L246.2 113.3 L246.7 112.86 L247.2 111.66 L247.7 110.46 L248.2 109.79 L248.7 108.75 L249.2 108.45 L249.7 107.39 L250.2 106.75 L250.7 106.84 L251.2 106.45 L251.7 105.58 L252.2 106.45 L252.7 107.42 L253.2 109.22 L253.7 110.78 L254.2 112.63 L254.7 114.66 L255.2 117.44 L255.7 118.95 L256.2 121.19 L256.7 122.73 L257.2 124.72 L257.7 126.11 L258.2 127.31 L258.7 128.74 L259.2 130.01 L259.7 130.83 L260.2 131.91 L260.7 132.66 L261.2 133.54 L261.7 134.05 L262.2 134.36 L262.7 134.65 L263.2 134.84 L263.7 134.96" fill="none" stroke="#5cbb72" stroke-width="1.15" stroke-linejoin="round" opacity="1"/>
<path d="M224.7 134.93 L225.2 134.78 L225.7 134.61 L226.2 134.19 L226.7 133.62 L227.2 133.05 L227.7 132.23 L228.2 131.04 L228.7 130.02 L229.2 129.05 L229.7 127.73 L230.2 126.22 L230.7 124.43 L231.2 122.49 L231.7 120.58 L232.2 118.51 L232.7 116.5 L233.2 113.96 L233.7 111.63 L234.2 109.98 L234.7 108.44 L235.2 107.18 L235.7 107.05 L236.2 106.79 L236.7 108.03 L237.2 109.37 L237.7 111.07 L238.2 113.2 L238.7 115.45 L239.2 117.66 L239.7 119.8 L240.2 121.63 L240.7 123.64 L241.2 125.28 L241.7 127.22 L242.2 128.43 L242.7 129.42 L243.2 130.76 L243.7 131.68 L244.2 132.73 L244.7 133.54 L245.2 133.94 L245.7 134.46 L246.2 134.7 L246.7 134.88" fill="none" stroke="#cf5562" stroke-width="1.15" stroke-linejoin="round" opacity="1"/>
<path d="M52.2 170.33 L52.7 170.18 L53.2 169.93 L53.7 169.74 L54.2 169.37 L54.7 168.64 L55.2 168.06 L55.7 167.31 L56.2 166.38 L56.7 165.49 L57.2 164.36 L57.7 163.57 L58.2 162.27 L58.7 160.44 L59.2 159.07 L59.7 157.88 L60.2 156.08 L60.7 154.34 L61.2 152.31 L61.7 150.63 L62.2 148.75 L62.7 147.24 L63.2 146.2 L63.7 144.91 L64.2 144.18 L64.7 143.95 L65.2 144.61 L65.7 145.01 L66.2 146.07 L66.7 147.05 L67.2 149.14 L67.7 149.91 L68.2 152.19 L68.7 153.1 L69.2 154.81 L69.7 156.41 L70.2 157.56 L70.7 159.26 L71.2 160.69 L71.7 161.7 L72.2 162.8 L72.7 163.99 L73.2 165.03 L73.7 165.83 L74.2 166.56 L74.7 167.22 L75.2 168.14 L75.7 168.73 L76.2 169.18 L76.7 169.6 L77.2 169.89 L77.7 170.08 L78.2 170.25 L78.7 170.36" fill="none" stroke="#8e6a58" stroke-width="1.15" stroke-linejoin="round" opacity="1"/>
<path d="M54.2 170.3 L54.7 170.14 L55.2 169.86 L55.7 169.52 L56.2 169.16 L56.7 168.6 L57.2 167.94 L57.7 166.96 L58.2 166.25 L58.7 165.16 L59.2 164.13 L59.7 163.23 L60.2 161.46 L60.7 160.4 L61.2 158.51 L61.7 156.86 L62.2 155.03 L62.7 153.86 L63.2 151.9 L63.7 149.71 L64.2 148.89 L64.7 147.35 L65.2 145.54 L65.7 144.59 L66.2 143.51 L66.7 143.57 L67.2 144.19 L67.7 144.37 L68.2 145.73 L68.7 146.78 L69.2 147.81 L69.7 149.38 L70.2 150.76 L70.7 151.96 L71.2 153.59 L71.7 154.54 L72.2 156.15 L72.7 157.62 L73.2 159.21 L73.7 160.25 L74.2 161.38 L74.7 162.36 L75.2 163.35 L75.7 164.11 L76.2 164.9 L76.7 165.87 L77.2 166.55 L77.7 167.17 L78.2 167.78 L78.7 168.58 L79.2 169.01 L79.7 169.33 L80.2 169.77 L80.7 169.97 L81.2 170.13 L81.7 170.26 L82.2 170.37" fill="none" stroke="#5a80c8" stroke-width="1.15" stroke-linejoin="round" opacity="1"/>
<path d="M57.2 170.33 L57.7 170.19 L58.2 169.94 L58.7 169.7 L59.2 169.43 L59.7 169.1 L60.2 168.33 L60.7 167.68 L61.2 166.75 L61.7 165.9 L62.2 165.12 L62.7 164.42 L63.2 163.55 L63.7 162.35 L64.2 160.98 L64.7 159.64 L65.2 158.42 L65.7 156.9 L66.2 154.96 L66.7 153.33 L67.2 151.87 L67.7 149.63 L68.2 148.33 L68.7 147.37 L69.2 145.61 L69.7 144 L70.2 143.5 L70.7 142.4 L71.2 142.83 L71.7 142.76 L72.2 142.77 L72.7 143.88 L73.2 144.83 L73.7 146.5 L74.2 147.53 L74.7 148.89 L75.2 150.62 L75.7 151.78 L76.2 153.39 L76.7 154.51 L77.2 156.29 L77.7 157.81 L78.2 159.33 L78.7 160.55 L79.2 161.34 L79.7 162.8 L80.2 163.79 L80.7 164.64 L81.2 165.28 L81.7 165.89 L82.2 166.63 L82.7 167.4 L83.2 168.32 L83.7 168.87 L84.2 169.12 L84.7 169.57 L85.2 169.78 L85.7 170.05 L86.2 170.19 L86.7 170.32" fill="none" stroke="#5cbb72" stroke-width="1.15" stroke-linejoin="round" opacity="1"/>
<path d="M39.2 170.36 L39.7 170.19 L40.2 170 L40.7 169.63 L41.2 169.16 L41.7 168.24 L42.2 167.37 L42.7 166.38 L43.2 165.32 L43.7 164.16 L44.2 162.98 L44.7 160.93 L45.2 159.39 L45.7 157.22 L46.2 155.58 L46.7 153.32 L47.2 151.49 L47.7 149.57 L48.2 146.72 L48.7 144.97 L49.2 144.03 L49.7 142.34 L50.2 141.96 L50.7 143.11 L51.2 144.19 L51.7 145.75 L52.2 148.46 L52.7 150.51 L53.2 153.63 L53.7 155.96 L54.2 158.04 L54.7 160.51 L55.2 162.34 L55.7 163.69 L56.2 165.3 L56.7 166.35 L57.2 167.83 L57.7 168.83 L58.2 169.46 L58.7 169.94 L59.2 170.19 L59.7 170.38" fill="none" stroke="#cf5562" stroke-width="1.15" stroke-linejoin="round" opacity="1"/>
<path d="M126.7 170.37 L127.2 170.21 L127.7 169.89 L128.2 169.66 L128.7 169.11 L129.2 168.55 L129.7 167.5 L130.2 166.51 L130.7 165.52 L131.2 164.55 L131.7 163.21 L132.2 161.31 L132.7 159.93 L133.2 158.19 L133.7 156.3 L134.2 154.2 L134.7 152.17 L135.2 150.33 L135.7 147.81 L136.2 146.38 L136.7 145.13 L137.2 143.54 L137.7 143.73 L138.2 144.12 L138.7 144.88 L139.2 147.42 L139.7 149.29 L140.2 151.31 L140.7 153.77 L141.2 156.65 L141.7 158.74 L142.2 160.55 L142.7 162.59 L143.2 163.89 L143.7 165.61 L144.2 166.43 L144.7 167.85 L145.2 168.88 L145.7 169.48 L146.2 169.98 L146.7 170.21 L147.2 170.39" fill="none" stroke="#8e6a58" stroke-width="1.15" stroke-linejoin="round" opacity="1"/>
<path d="M128.7 170.41 L129.2 170.29 L129.7 170.12 L130.2 169.84 L130.7 169.59 L131.2 168.99 L131.7 168.45 L132.2 167.73 L132.7 166.78 L133.2 165.8 L133.7 165.03 L134.2 163.61 L134.7 162.79 L135.2 161.21 L135.7 159.68 L136.2 158.25 L136.7 156.15 L137.2 154.63 L137.7 152.53 L138.2 150.72 L138.7 149.11 L139.2 147.29 L139.7 146 L140.2 144.54 L140.7 142.76 L141.2 142.64 L141.7 142.22 L142.2 143.54 L142.7 144.33 L143.2 146.16 L143.7 147.92 L144.2 150.17 L144.7 152.5 L145.2 154.42 L145.7 156.56 L146.2 158.59 L146.7 160.01 L147.2 161.94 L147.7 163.35 L148.2 164.4 L148.7 165.6 L149.2 166.53 L149.7 167.69 L150.2 168.77 L150.7 169.34 L151.2 169.83 L151.7 170.06 L152.2 170.27 L152.7 170.41" fill="none" stroke="#5a80c8" stroke-width="1.15" stroke-linejoin="round" opacity="1"/>
<path d="M135.2 170.35 L135.7 170.21 L136.2 169.99 L136.7 169.7 L137.2 169.38 L137.7 168.86 L138.2 168.11 L138.7 167.22 L139.2 166.53 L139.7 165.42 L140.2 164.67 L140.7 163.42 L141.2 162.43 L141.7 161.11 L142.2 159.1 L142.7 157.61 L143.2 155.92 L143.7 154.7 L144.2 152.93 L144.7 151.08 L145.2 149.36 L145.7 147.68 L146.2 146.22 L146.7 145.42 L147.2 144.34 L147.7 143.66 L148.2 144.78 L148.7 145.58 L149.2 147.86 L149.7 150.09 L150.2 153 L150.7 155.38 L151.2 157.64 L151.7 160.13 L152.2 162.35 L152.7 163.64 L153.2 165.18 L153.7 166.63 L154.2 167.97 L154.7 168.74 L155.2 169.5 L155.7 170.05 L156.2 170.26 L156.7 170.43" fill="none" stroke="#5cbb72" stroke-width="1.15" stroke-linejoin="round" opacity="1"/>
<path d="M125.2 170.37 L125.7 170.21 L126.2 170.01 L126.7 169.69 L127.2 169.05 L127.7 168.52 L128.2 167.36 L128.7 166.36 L129.2 165.67 L129.7 164.23 L130.2 163.06 L130.7 161.36 L131.2 159.62 L131.7 158.17 L132.2 156.37 L132.7 153.66 L133.2 152.01 L133.7 149.51 L134.2 147.78 L134.7 145.99 L135.2 144.44 L135.7 143.62 L136.2 143.35 L136.7 144.35 L137.2 145.02 L137.7 147.13 L138.2 149.23 L138.7 151.23 L139.2 154.32 L139.7 156.2 L140.2 158.95 L140.7 160.56 L141.2 162.35 L141.7 164.24 L142.2 165.46 L142.7 166.43 L143.2 167.8 L143.7 168.79 L144.2 169.52 L144.7 169.99 L145.2 170.21 L145.7 170.39" fill="none" stroke="#cf5562" stroke-width="1.15" stroke-linejoin="round" opacity="1"/>
<path d="M216.7 170.34 L217.2 170.19 L217.7 170 L218.2 169.69 L218.7 169.33 L219.2 168.77 L219.7 168.11 L220.2 166.99 L220.7 166.06 L221.2 165.34 L221.7 164.3 L222.2 162.97 L222.7 161.69 L223.2 159.9 L223.7 158.69 L224.2 157.01 L224.7 154.75 L225.2 153.47 L225.7 151.21 L226.2 149.53 L226.7 147.25 L227.2 145.81 L227.7 144.1 L228.2 143.48 L228.7 142.1 L229.2 141.79 L229.7 142.41 L230.2 143.18 L230.7 144.64 L231.2 147.18 L231.7 149.04 L232.2 151.12 L232.7 153.42 L233.2 155.66 L233.7 157.53 L234.2 159.49 L234.7 160.92 L235.2 162.65 L235.7 164.21 L236.2 165.3 L236.7 166.27 L237.2 167.4 L237.7 168.42 L238.2 169.15 L238.7 169.67 L239.2 169.86 L239.7 170.19 L240.2 170.36" fill="none" stroke="#8e6a58" stroke-width="1.15" stroke-linejoin="round" opacity="1"/>
<path d="M219.7 170.31 L220.2 170.15 L220.7 169.88 L221.2 169.69 L221.7 169.13 L222.2 168.48 L222.7 167.86 L223.2 167.09 L223.7 166.17 L224.2 165.31 L224.7 164.42 L225.2 163.09 L225.7 162.13 L226.2 160.17 L226.7 158.82 L227.2 157.21 L227.7 155.27 L228.2 153.74 L228.7 152.33 L229.2 150.62 L229.7 149.09 L230.2 147.72 L230.7 145.71 L231.2 144.63 L231.7 144.55 L232.2 144.63 L232.7 145.06 L233.2 146.36 L233.7 148.2 L234.2 151.01 L234.7 152.62 L235.2 154.55 L235.7 156.11 L236.2 157.16 L236.7 157.19 L237.2 156.04 L237.7 155.5 L238.2 154.6 L238.7 153.85 L239.2 153.93 L239.7 154.08 L240.2 155.38 L240.7 156.46 L241.2 156.81 L241.7 156.99 L242.2 156.27 L242.7 154.99 L243.2 152.94 L243.7 150.75 L244.2 149.01 L244.7 147.05 L245.2 145.8 L245.7 144.63 L246.2 144.27 L246.7 146 L247.2 147.43 L247.7 150.43 L248.2 152.93 L248.7 155.32 L249.2 158.64 L249.7 161.08 L250.2 162.95 L250.7 164.87 L251.2 166.11 L251.7 167.74 L252.2 168.68 L252.7 169.47 L253.2 169.99 L253.7 170.31" fill="none" stroke="#5a80c8" stroke-width="1.15" stroke-linejoin="round" opacity="1"/>
<path d="M210.7 170.31 L211.2 170.25 L211.7 170.18 L212.2 170.1 L212.7 170.02 L213.2 169.93 L213.7 169.74 L214.2 169.62 L214.7 169.47 L215.2 169.3 L215.7 169.06 L216.2 168.75 L216.7 168.49 L217.2 168.26 L217.7 168.27 L218.2 168 L218.7 167.71 L219.2 167.4 L219.7 167.2 L220.2 166.97 L220.7 166.7 L221.2 166.28 L221.7 165.88 L222.2 165.29 L222.7 164.93 L223.2 164.56 L223.7 164.09 L224.2 163.67 L224.7 163.42 L225.2 162.87 L225.7 162.85 L226.2 162.05 L226.7 161.64 L227.2 161.37 L227.7 160.76 L228.2 160.07 L228.7 159.94 L229.2 159.41 L229.7 159.24 L230.2 158.83 L230.7 158.1 L231.2 158.37 L231.7 157.97 L232.2 157.36 L232.7 157.32 L233.2 157.42 L233.7 156.9 L234.2 157.15 L234.7 157.46 L235.2 158.36 L235.7 159.27 L236.2 160.38 L236.7 161.67 L237.2 163.02 L237.7 164.13 L238.2 164.86 L238.7 165.97 L239.2 166.84 L239.7 166.61 L240.2 166.19 L240.7 165.24 L241.2 163.67 L241.7 162.19 L242.2 160.17 L242.7 158.05 L243.2 156.05 L243.7 153.44 L244.2 151.5 L244.7 148.9 L245.2 146.82 L245.7 145.7 L246.2 144.33 L246.7 144.6 L247.2 145.45 L247.7 147.08 L248.2 149.92 L248.7 152.57 L249.2 155.37 L249.7 158.53 L250.2 160.41 L250.7 162.74 L251.2 164.87 L251.7 166.03 L252.2 167.58 L252.7 168.84 L253.2 169.45 L253.7 170.02 L254.2 170.31" fill="none" stroke="#5cbb72" stroke-width="1.15" stroke-linejoin="round" opacity="1"/>
<path d="M214.2 170.34 L214.7 170.19 L215.2 169.93 L215.7 169.74 L216.2 169.2 L216.7 168.83 L217.2 168.08 L217.7 167.11 L218.2 166.34 L218.7 165.18 L219.2 164.32 L219.7 163.09 L220.2 161.53 L220.7 160.23 L221.2 158.31 L221.7 156.78 L222.2 154.76 L222.7 153.12 L223.2 150.9 L223.7 149.03 L224.2 147.87 L224.7 145.61 L225.2 144.52 L225.7 142.86 L226.2 142.08 L226.7 141.55 L227.2 142.77 L227.7 143.59 L228.2 144.73 L228.7 146.37 L229.2 148.64 L229.7 151.4 L230.2 153.09 L230.7 155.63 L231.2 157.33 L231.7 159.08 L232.2 161.28 L232.7 162.38 L233.2 163.92 L233.7 165.33 L234.2 166.38 L234.7 167.37 L235.2 168.22 L235.7 169.03 L236.2 169.64 L236.7 170.01 L237.2 170.19 L237.7 170.36" fill="none" stroke="#cf5562" stroke-width="1.15" stroke-linejoin="round" opacity="1"/>
<path d="M39.7 205.8 L40.2 205.64 L40.7 205.46 L41.2 204.99 L41.7 204.63 L42.2 203.86 L42.7 203.03 L43.2 201.95 L43.7 201.13 L44.2 200.14 L44.7 198.5 L45.2 197.25 L45.7 195.56 L46.2 193.74 L46.7 191.78 L47.2 190.59 L47.7 188.41 L48.2 186.69 L48.7 184.6 L49.2 182.67 L49.7 181.46 L50.2 181.35 L50.7 180.95 L51.2 180.86 L51.7 182.05 L52.2 183.73 L52.7 185.32 L53.2 187.43 L53.7 188.76 L54.2 191.06 L54.7 192.6 L55.2 194.59 L55.7 196.6 L56.2 197.96 L56.7 199.37 L57.2 200.24 L57.7 201.43 L58.2 202.53 L58.7 203.47 L59.2 204.21 L59.7 204.78 L60.2 205.19 L60.7 205.51 L61.2 205.72 L61.7 205.85" fill="none" stroke="#8e6a58" stroke-width="1.15" stroke-linejoin="round" opacity="1"/>
<path d="M23.2 205.77 L23.7 205.71 L24.2 205.64 L24.7 205.57 L25.2 205.51 L25.7 205.45 L26.2 205.43 L26.7 205.26 L27.2 205.22 L27.7 205.18 L28.2 204.99 L28.7 204.77 L29.2 204.86 L29.7 204.72 L30.2 204.46 L30.7 204.43 L31.2 204.29 L31.7 204.09 L32.2 204.01 L32.7 203.77 L33.2 203.64 L33.7 203.36 L34.2 203.2 L34.7 203.39 L35.2 203.09 L35.7 202.9 L36.2 202.76 L36.7 202.71 L37.2 202.7 L37.7 202.66 L38.2 202.75 L38.7 202.82 L39.2 202.69 L39.7 202.74 L40.2 202.82 L40.7 203.02 L41.2 203.27 L41.7 203.25 L42.2 203.4 L42.7 203.62 L43.2 203.72 L43.7 203.95 L44.2 204.04 L44.7 204.22 L45.2 204.44 L45.7 204.47 L46.2 204.47 L46.7 204.1 L47.2 203.76 L47.7 203.06 L48.2 202.19 L48.7 201.39 L49.2 200.4 L49.7 199.45 L50.2 198.32 L50.7 196.47 L51.2 195.25 L51.7 193.67 L52.2 191.88 L52.7 190.32 L53.2 188.63 L53.7 186.92 L54.2 184.95 L54.7 183.28 L55.2 181.37 L55.7 180.26 L56.2 178.89 L56.7 178.94 L57.2 178.45 L57.7 179.63 L58.2 181.43 L58.7 182.96 L59.2 184.45 L59.7 186.11 L60.2 188.73 L60.7 190.46 L61.2 192.72 L61.7 194.3 L62.2 196.56 L62.7 197.87 L63.2 199.05 L63.7 200.59 L64.2 201.63 L64.7 202.68 L65.2 203.65 L65.7 204.38 L66.2 204.84 L66.7 205.34 L67.2 205.57 L67.7 205.76" fill="none" stroke="#5a80c8" stroke-width="1.15" stroke-linejoin="round" opacity="1"/>
<path d="M23.2 205.75 L23.7 205.69 L24.2 205.62 L24.7 205.54 L25.2 205.48 L25.7 205.44 L26.2 205.3 L26.7 205.17 L27.2 205.11 L27.7 205.09 L28.2 204.88 L28.7 204.71 L29.2 204.66 L29.7 204.65 L30.2 204.34 L30.7 204.17 L31.2 204.17 L31.7 204.07 L32.2 203.91 L32.7 203.65 L33.2 203.39 L33.7 203.31 L34.2 203.06 L34.7 203.16 L35.2 202.99 L35.7 202.72 L36.2 202.65 L36.7 202.65 L37.2 202.48 L37.7 202.57 L38.2 202.67 L38.7 202.57 L39.2 202.77 L39.7 202.64 L40.2 202.85 L40.7 202.91 L41.2 203 L41.7 203.26 L42.2 203.33 L42.7 203.63 L43.2 203.5 L43.7 203.76 L44.2 203.8 L44.7 204.21 L45.2 204.21 L45.7 204.33 L46.2 204.57 L46.7 204.75 L47.2 204.86 L47.7 204.96 L48.2 204.89 L48.7 204.96 L49.2 204.52 L49.7 204.12 L50.2 203.38 L50.7 202.43 L51.2 201.6 L51.7 200.66 L52.2 199.65 L52.7 198.64 L53.2 197.11 L53.7 195.98 L54.2 194.13 L54.7 192.43 L55.2 190.66 L55.7 189.24 L56.2 187.02 L56.7 185.03 L57.2 183.79 L57.7 182.39 L58.2 180.77 L58.7 179.23 L59.2 179.32 L59.7 179.24 L60.2 179.34 L60.7 180.29 L61.2 181.69 L61.7 183.88 L62.2 185.28 L62.7 188.01 L63.2 189.65 L63.7 192.19 L64.2 194.14 L64.7 195.85 L65.2 197.51 L65.7 198.72 L66.2 199.99 L66.7 201.27 L67.2 201.91 L67.7 203.21 L68.2 204.13 L68.7 204.75 L69.2 205.1 L69.7 205.41 L70.2 205.69 L70.7 205.84" fill="none" stroke="#5cbb72" stroke-width="1.15" stroke-linejoin="round" opacity="1"/>
<path d="M29.2 205.78 L29.7 205.6 L30.2 205.39 L30.7 205.06 L31.2 204.37 L31.7 203.79 L32.2 202.57 L32.7 201.84 L33.2 200.8 L33.7 199.81 L34.2 198.26 L34.7 196.99 L35.2 195.46 L35.7 193.31 L36.2 192.04 L36.7 189.63 L37.2 188.26 L37.7 185.89 L38.2 184.36 L38.7 182.4 L39.2 181.98 L39.7 180.71 L40.2 180.8 L40.7 181.16 L41.2 182.6 L41.7 184.77 L42.2 187.24 L42.7 189.44 L43.2 191.66 L43.7 193.69 L44.2 195.82 L44.7 197.63 L45.2 198.9 L45.7 200.27 L46.2 201.44 L46.7 201.92 L47.2 202.73 L47.7 202.71 L48.2 202.81 L48.7 202.48 L49.2 202.41 L49.7 202.6 L50.2 202.41 L50.7 202.42 L51.2 202.68 L51.7 202.75 L52.2 202.79 L52.7 202.77 L53.2 203.15 L53.7 203.11 L54.2 203.29 L54.7 203.49 L55.2 203.6 L55.7 203.67 L56.2 204.02 L56.7 203.99 L57.2 204.28 L57.7 204.31 L58.2 204.44 L58.7 204.73 L59.2 204.7 L59.7 204.8 L60.2 205.05 L60.7 205.21 L61.2 205.28 L61.7 205.22 L62.2 205.46 L62.7 205.39 L63.2 205.52 L63.7 205.61 L64.2 205.68 L64.7 205.74 L65.2 205.8" fill="none" stroke="#cf5562" stroke-width="1.15" stroke-linejoin="round" opacity="1"/>
<path d="M117.7 205.85 L118.2 205.74 L118.7 205.59 L119.2 205.44 L119.7 205.07 L120.2 204.85 L120.7 204.39 L121.2 203.66 L121.7 203.12 L122.2 202.19 L122.7 201.22 L123.2 200.48 L123.7 199.47 L124.2 198.37 L124.7 197.76 L125.2 196.42 L125.7 194.72 L126.2 193.35 L126.7 192.32 L127.2 190.4 L127.7 189.02 L128.2 187.24 L128.7 185.94 L129.2 184.5 L129.7 182.13 L130.2 181.49 L130.7 179.83 L131.2 179.75 L131.7 178.83 L132.2 179.2 L132.7 179.82 L133.2 181.63 L133.7 183.14 L134.2 185.9 L134.7 187.79 L135.2 190.4 L135.7 193.02 L136.2 195.01 L136.7 196.89 L137.2 198.4 L137.7 200.21 L138.2 201.52 L138.7 202.37 L139.2 203.6 L139.7 204.49 L140.2 205.16 L140.7 205.54 L141.2 205.74 L141.7 205.89" fill="none" stroke="#8e6a58" stroke-width="1.15" stroke-linejoin="round" opacity="1"/>
<path d="M118.2 205.81 L118.7 205.69 L119.2 205.52 L119.7 205.33 L120.2 205.07 L120.7 204.7 L121.2 204.08 L121.7 203.47 L122.2 202.61 L122.7 201.9 L123.2 201.3 L123.7 200.13 L124.2 199.18 L124.7 198.16 L125.2 196.98 L125.7 195.6 L126.2 194.02 L126.7 192.61 L127.2 191.18 L127.7 189.84 L128.2 188.3 L128.7 186.61 L129.2 184.53 L129.7 183.56 L130.2 182.18 L130.7 180.94 L131.2 180.2 L131.7 178.58 L132.2 179.23 L132.7 178.83 L133.2 179.25 L133.7 181.04 L134.2 182.06 L134.7 183.87 L135.2 185.7 L135.7 187.52 L136.2 189.39 L136.7 190.61 L137.2 192.41 L137.7 194 L138.2 196.11 L138.7 197.14 L139.2 198.64 L139.7 199.63 L140.2 200.71 L140.7 201.71 L141.2 202.29 L141.7 203.56 L142.2 204.06 L142.7 204.6 L143.2 205.09 L143.7 205.39 L144.2 205.62 L144.7 205.78" fill="none" stroke="#5a80c8" stroke-width="1.15" stroke-linejoin="round" opacity="1"/>
<path d="M118.2 205.81 L118.7 205.71 L119.2 205.57 L119.7 205.3 L120.2 205.19 L120.7 204.81 L121.2 204.4 L121.7 204.02 L122.2 203.33 L122.7 202.72 L123.2 202.04 L123.7 201.36 L124.2 200.61 L124.7 199.98 L125.2 198.95 L125.7 198.04 L126.2 197.19 L126.7 195.84 L127.2 194.89 L127.7 193.2 L128.2 192.21 L128.7 190.69 L129.2 189.49 L129.7 188.18 L130.2 187.07 L130.7 185.87 L131.2 183.94 L131.7 183.21 L132.2 182.25 L132.7 181.45 L133.2 180.59 L133.7 180.88 L134.2 181.08 L134.7 180.9 L135.2 181.97 L135.7 182.7 L136.2 183.57 L136.7 184.69 L137.2 185.98 L137.7 188.02 L138.2 189.07 L138.7 190.06 L139.2 191.42 L139.7 193.25 L140.2 194.48 L140.7 195.61 L141.2 196.83 L141.7 197.74 L142.2 198.48 L142.7 199.54 L143.2 200.41 L143.7 201.32 L144.2 201.85 L144.7 202.22 L145.2 203.06 L145.7 203.78 L146.2 204.29 L146.7 204.63 L147.2 204.98 L147.7 205.35 L148.2 205.47 L148.7 205.65 L149.2 205.77" fill="none" stroke="#5cbb72" stroke-width="1.15" stroke-linejoin="round" opacity="1"/>
<path d="M115.7 205.85 L116.2 205.74 L116.7 205.59 L117.2 205.41 L117.7 205.11 L118.2 204.82 L118.7 204.34 L119.2 203.76 L119.7 203.02 L120.2 202.31 L120.7 201.53 L121.2 200.55 L121.7 199.88 L122.2 198.8 L122.7 197.36 L123.2 196.39 L123.7 195.03 L124.2 193.66 L124.7 191.72 L125.2 190.73 L125.7 188.68 L126.2 186.87 L126.7 185.85 L127.2 184.12 L127.7 182.32 L128.2 181.2 L128.7 180.34 L129.2 179.83 L129.7 178.88 L130.2 178.96 L130.7 179.53 L131.2 181.52 L131.7 183.4 L132.2 185.45 L132.7 187.72 L133.2 190.52 L133.7 192.82 L134.2 194.86 L134.7 196.63 L135.2 198.8 L135.7 199.9 L136.2 201.31 L136.7 202.59 L137.2 203.67 L137.7 204.59 L138.2 205.2 L138.7 205.46 L139.2 205.74 L139.7 205.89" fill="none" stroke="#cf5562" stroke-width="1.15" stroke-linejoin="round" opacity="1"/>
<path d="M228.2 205.84 L228.7 205.74 L229.2 205.61 L229.7 205.46 L230.2 205.21 L230.7 204.93 L231.2 204.47 L231.7 204.04 L232.2 203.7 L232.7 202.83 L233.2 202.16 L233.7 201.52 L234.2 200.64 L234.7 200.04 L235.2 199.13 L235.7 197.94 L236.2 197.15 L236.7 195.99 L237.2 194.78 L237.7 193.29 L238.2 192.07 L238.7 190.64 L239.2 189.51 L239.7 188.41 L240.2 186.47 L240.7 185.22 L241.2 183.72 L241.7 182.52 L242.2 182.1 L242.7 181.1 L243.2 180.56 L243.7 179.37 L244.2 180.07 L244.7 180.52 L245.2 180.62 L245.7 181.83 L246.2 183.54 L246.7 184.32 L247.2 185.77 L247.7 187.5 L248.2 189.42 L248.7 190.46 L249.2 192.2 L249.7 193.55 L250.2 194.68 L250.7 196.12 L251.2 197.32 L251.7 198.85 L252.2 199.76 L252.7 200.58 L253.2 201.61 L253.7 201.93 L254.2 202.99 L254.7 203.73 L255.2 204.31 L255.7 204.78 L256.2 205.02 L256.7 205.35 L257.2 205.57 L257.7 205.72 L258.2 205.83" fill="none" stroke="#8e6a58" stroke-width="1.15" stroke-linejoin="round" opacity="1"/>
<path d="M228.2 205.84 L228.7 205.74 L229.2 205.61 L229.7 205.44 L230.2 205.23 L230.7 205.02 L231.2 204.62 L231.7 204.01 L232.2 203.46 L232.7 202.74 L233.2 202.24 L233.7 201.63 L234.2 201 L234.7 199.98 L235.2 199.19 L235.7 198.18 L236.2 197.12 L236.7 195.94 L237.2 194.88 L237.7 193.31 L238.2 192.42 L238.7 190.5 L239.2 189.38 L239.7 188.4 L240.2 186.79 L240.7 185.24 L241.2 184.06 L241.7 182.72 L242.2 181.89 L242.7 181.05 L243.2 179.83 L243.7 179.91 L244.2 179.45 L244.7 179.91 L245.2 181.07 L245.7 182.44 L246.2 183.44 L246.7 185.52 L247.2 186.85 L247.7 189.3 L248.2 190.74 L248.7 192.29 L249.2 194.35 L249.7 195.34 L250.2 197.26 L250.7 198.25 L251.2 199.64 L251.7 200.33 L252.2 201.41 L252.7 202.12 L253.2 203.16 L253.7 203.88 L254.2 204.49 L254.7 205.02 L255.2 205.36 L255.7 205.56 L256.2 205.73 L256.7 205.85" fill="none" stroke="#5a80c8" stroke-width="1.15" stroke-linejoin="round" opacity="1"/>
<path d="M228.7 205.84 L229.2 205.74 L229.7 205.61 L230.2 205.39 L230.7 205.28 L231.2 204.84 L231.7 204.64 L232.2 204.22 L232.7 203.68 L233.2 202.76 L233.7 201.97 L234.2 201.54 L234.7 200.72 L235.2 200.12 L235.7 198.91 L236.2 198.05 L236.7 197.32 L237.2 196.27 L237.7 194.66 L238.2 193.84 L238.7 191.94 L239.2 190.99 L239.7 189.64 L240.2 187.95 L240.7 186.78 L241.2 185.21 L241.7 184.3 L242.2 182.39 L242.7 181.89 L243.2 180.48 L243.7 180.48 L244.2 179.39 L244.7 179.18 L245.2 180.33 L245.7 181.62 L246.2 182.51 L246.7 183.72 L247.2 185.72 L247.7 187.14 L248.2 189.27 L248.7 190.71 L249.2 192.23 L249.7 194.08 L250.2 195.46 L250.7 197.24 L251.2 198.13 L251.7 199.67 L252.2 200.33 L252.7 201.23 L253.2 202.06 L253.7 203.15 L254.2 203.99 L254.7 204.56 L255.2 204.93 L255.7 205.31 L256.2 205.56 L256.7 205.73 L257.2 205.85" fill="none" stroke="#5cbb72" stroke-width="1.15" stroke-linejoin="round" opacity="1"/>
<path d="M225.2 205.84 L225.7 205.74 L226.2 205.61 L226.7 205.38 L227.2 205.29 L227.7 204.93 L228.2 204.48 L228.7 204.09 L229.2 203.54 L229.7 203.01 L230.2 202.29 L230.7 201.61 L231.2 200.61 L231.7 199.83 L232.2 199.26 L232.7 197.92 L233.2 197.39 L233.7 195.93 L234.2 194.47 L234.7 193.63 L235.2 191.86 L235.7 190.7 L236.2 189.79 L236.7 188.16 L237.2 186.67 L237.7 185.5 L238.2 183.75 L238.7 183.09 L239.2 181.44 L239.7 181.02 L240.2 180.57 L240.7 179.64 L241.2 180.08 L241.7 180.17 L242.2 180.87 L242.7 182.3 L243.2 183.89 L243.7 185.89 L244.2 187.17 L244.7 189.27 L245.2 190.57 L245.7 192.67 L246.2 193.98 L246.7 195.67 L247.2 197.08 L247.7 198.22 L248.2 199.65 L248.7 200.68 L249.2 201.25 L249.7 202.3 L250.2 203.04 L250.7 203.82 L251.2 204.53 L251.7 205.05 L252.2 205.38 L252.7 205.56 L253.2 205.73 L253.7 205.85" fill="none" stroke="#cf5562" stroke-width="1.15" stroke-linejoin="round" opacity="1"/>
<path d="M37.2 241.31 L37.7 241.2 L38.2 241.03 L38.7 240.74 L39.2 240.55 L39.7 240.04 L40.2 239.44 L40.7 238.82 L41.2 237.73 L41.7 237.06 L42.2 235.98 L42.7 234.94 L43.2 233.84 L43.7 232.63 L44.2 231.06 L44.7 229.63 L45.2 228.03 L45.7 226.2 L46.2 223.89 L46.7 222.38 L47.2 220.25 L47.7 219.37 L48.2 216.93 L48.7 216.05 L49.2 214.7 L49.7 214.27 L50.2 214.09 L50.7 215.28 L51.2 215.96 L51.7 218.13 L52.2 219.84 L52.7 222.03 L53.2 223.77 L53.7 225.73 L54.2 227.91 L54.7 229.39 L55.2 231.69 L55.7 232.98 L56.2 234.6 L56.7 235.66 L57.2 236.66 L57.7 237.59 L58.2 238.72 L58.7 238.81 L59.2 238.16 L59.7 237.37 L60.2 236.99 L60.7 235.85 L61.2 234.81 L61.7 233.63 L62.2 232.68 L62.7 231.08 L63.2 229.91 L63.7 228.12 L64.2 227.31 L64.7 225.09 L65.2 224.06 L65.7 222.7 L66.2 221.74 L66.7 220.56 L67.2 219.31 L67.7 218.89 L68.2 219.41 L68.7 219.6 L69.2 220.37 L69.7 221.08 L70.2 221.96 L70.7 222.87 L71.2 223.42 L71.7 224.57 L72.2 225.93 L72.7 227.37 L73.2 228.55 L73.7 229.52 L74.2 230.57 L74.7 231.76 L75.2 232.86 L75.7 234.06 L76.2 234.72 L76.7 235.43 L77.2 236.22 L77.7 237.19 L78.2 237.55 L78.7 238.23 L79.2 238.89 L79.7 239.23 L80.2 239.8 L80.7 240.18 L81.2 240.61 L81.7 240.73 L82.2 240.97 L82.7 241.12 L83.2 241.23" fill="none" stroke="#8e6a58" stroke-width="1.15" stroke-linejoin="round" opacity="1"/>
<path d="M37.2 241.31 L37.7 241.2 L38.2 241.03 L38.7 240.73 L39.2 240.39 L39.7 239.98 L40.2 239.36 L40.7 238.59 L41.2 237.68 L41.7 236.94 L42.2 235.85 L42.7 234.8 L43.2 233.56 L43.7 232.56 L44.2 230.7 L44.7 229.4 L45.2 227.42 L45.7 226.3 L46.2 223.81 L46.7 222.13 L47.2 220.83 L47.7 218.59 L48.2 217.63 L48.7 216.35 L49.2 215.05 L49.7 214.62 L50.2 214.3 L50.7 214.58 L51.2 216.03 L51.7 217.59 L52.2 219.72 L52.7 221.36 L53.2 223.43 L53.7 225.6 L54.2 227.43 L54.7 229.43 L55.2 231.48 L55.7 233.27 L56.2 234.38 L56.7 235.55 L57.2 236.86 L57.7 237.67 L58.2 238.69 L58.7 239.45 L59.2 239.91 L59.7 239.44 L60.2 238.94 L60.7 238.35 L61.2 237.43 L61.7 236.84 L62.2 235.91 L62.7 235.04 L63.2 234.08 L63.7 233.04 L64.2 231.77 L64.7 230.19 L65.2 229.05 L65.7 227.99 L66.2 226.89 L66.7 225.55 L67.2 224.09 L67.7 223.36 L68.2 222.43 L68.7 221.83 L69.2 222.37 L69.7 222.15 L70.2 223.18 L70.7 223.14 L71.2 224.44 L71.7 225.23 L72.2 225.62 L72.7 227.08 L73.2 228.2 L73.7 228.76 L74.2 229.99 L74.7 230.83 L75.2 232.13 L75.7 233.01 L76.2 233.65 L76.7 234.74 L77.2 235.29 L77.7 236.39 L78.2 236.76 L78.7 237.64 L79.2 238.03 L79.7 238.69 L80.2 239.13 L80.7 239.43 L81.2 240 L81.7 240.27 L82.2 240.66 L82.7 240.86 L83.2 241.01 L83.7 241.14 L84.2 241.24" fill="none" stroke="#5a80c8" stroke-width="1.15" stroke-linejoin="round" opacity="1"/>
<path d="M38.2 241.2 L38.7 241.04 L39.2 240.87 L39.7 240.47 L40.2 239.96 L40.7 239.47 L41.2 238.76 L41.7 237.59 L42.2 236.8 L42.7 235.98 L43.2 235.23 L43.7 233.78 L44.2 232.58 L44.7 230.82 L45.2 229.65 L45.7 227.79 L46.2 226.07 L46.7 224.49 L47.2 222.57 L47.7 220.67 L48.2 218.78 L48.7 217.64 L49.2 216.46 L49.7 214.81 L50.2 215.1 L50.7 214.24 L51.2 215.11 L51.7 216.44 L52.2 218.1 L52.7 219.63 L53.2 221.48 L53.7 223.68 L54.2 225.72 L54.7 228.25 L55.2 229.91 L55.7 231.76 L56.2 232.86 L56.7 234.33 L57.2 235.94 L57.7 236.81 L58.2 237.73 L58.7 238.99 L59.2 239.68 L59.7 240.17 L60.2 240.5 L60.7 240.46 L61.2 239.99 L61.7 239.6 L62.2 238.97 L62.7 238.49 L63.2 237.69 L63.7 237.14 L64.2 236.3 L64.7 235.52 L65.2 234.75 L65.7 233.44 L66.2 232.53 L66.7 231.45 L67.2 230.61 L67.7 229.6 L68.2 228.24 L68.7 227.04 L69.2 226.17 L69.7 225.77 L70.2 225.39 L70.7 224.8 L71.2 224.59 L71.7 225.48 L72.2 225.48 L72.7 226.52 L73.2 227.1 L73.7 228.05 L74.2 228.69 L74.7 229.49 L75.2 229.97 L75.7 230.88 L76.2 232.25 L76.7 233.02 L77.2 233.5 L77.7 234.69 L78.2 235.37 L78.7 236.01 L79.2 236.8 L79.7 237.32 L80.2 237.81 L80.7 238.3 L81.2 238.55 L81.7 239.17 L82.2 239.65 L82.7 239.88 L83.2 240.33 L83.7 240.54 L84.2 240.79 L84.7 240.99 L85.2 241.12 L85.7 241.22" fill="none" stroke="#5cbb72" stroke-width="1.15" stroke-linejoin="round" opacity="1"/>
<path d="M29.2 241.31 L29.7 241.2 L30.2 241.03 L30.7 240.74 L31.2 240.5 L31.7 240.1 L32.2 239.35 L32.7 238.66 L33.2 237.64 L33.7 236.78 L34.2 235.8 L34.7 234.97 L35.2 233.73 L35.7 232.06 L36.2 230.82 L36.7 229.4 L37.2 227.46 L37.7 225.96 L38.2 223.72 L38.7 222.51 L39.2 220 L39.7 218.52 L40.2 217.16 L40.7 215.22 L41.2 214.86 L41.7 214.22 L42.2 214.34 L42.7 214.56 L43.2 215.59 L43.7 217.27 L44.2 219.38 L44.7 221.05 L45.2 223.75 L45.7 225.67 L46.2 227.44 L46.7 229.16 L47.2 231.19 L47.7 232.79 L48.2 234.21 L48.7 235.68 L49.2 236.53 L49.7 237.56 L50.2 238.82 L50.7 239.64 L51.2 240.15 L51.7 240.69 L52.2 240.97 L52.7 241.18 L53.2 241.31" fill="none" stroke="#cf5562" stroke-width="1.15" stroke-linejoin="round" opacity="1"/>
<path d="M139.7 241.25 L140.2 241.12 L140.7 240.98 L141.2 240.62 L141.7 240.33 L142.2 239.87 L142.7 239.23 L143.2 238.37 L143.7 238.02 L144.2 237.22 L144.7 236.53 L145.2 235.44 L145.7 234.36 L146.2 233.02 L146.7 231.88 L147.2 230.62 L147.7 229.36 L148.2 227.81 L148.7 226.62 L149.2 224.76 L149.7 223.47 L150.2 222.2 L150.7 221.76 L151.2 220.48 L151.7 219.88 L152.2 220.13 L152.7 220.76 L153.2 222.39 L153.7 224.53 L154.2 226.56 L154.7 228.54 L155.2 229.53 L155.7 230.05 L156.2 228.55 L156.7 226.78 L157.2 224.81 L157.7 223 L158.2 221.22 L158.7 219.02 L159.2 217.5 L159.7 217.36 L160.2 217.74 L160.7 218.8 L161.2 220.48 L161.7 221.85 L162.2 223.69 L162.7 226.01 L163.2 228.48 L163.7 230.28 L164.2 232.55 L164.7 233.78 L165.2 235.52 L165.7 236.91 L166.2 237.7 L166.7 238.94 L167.2 239.8 L167.7 240.47 L168.2 240.83 L168.7 241.1 L169.2 241.28" fill="none" stroke="#8e6a58" stroke-width="1.15" stroke-linejoin="round" opacity="1"/>
<path d="M133.7 241.21 L134.2 241.09 L134.7 240.93 L135.2 240.67 L135.7 240.53 L136.2 240.01 L136.7 239.9 L137.2 239.54 L137.7 239.04 L138.2 238.7 L138.7 238.22 L139.2 237.61 L139.7 237.18 L140.2 236.32 L140.7 235.95 L141.2 234.98 L141.7 234.32 L142.2 233.82 L142.7 233.49 L143.2 232.49 L143.7 232.46 L144.2 231.79 L144.7 231.6 L145.2 231.8 L145.7 231.65 L146.2 231.95 L146.7 232.49 L147.2 233.13 L147.7 233.62 L148.2 234.07 L148.7 234.66 L149.2 234.5 L149.7 234.25 L150.2 233.8 L150.7 232.8 L151.2 232.03 L151.7 230.27 L152.2 229.43 L152.7 227.59 L153.2 226.25 L153.7 224.38 L154.2 222.59 L154.7 221.04 L155.2 219.89 L155.7 218.8 L156.2 218.02 L156.7 217.23 L157.2 217.32 L157.7 218.24 L158.2 219.12 L158.7 221.12 L159.2 223.22 L159.7 225.56 L160.2 227.33 L160.7 229.78 L161.2 231.67 L161.7 233.25 L162.2 234.74 L162.7 235.98 L163.2 237.23 L163.7 238.19 L164.2 239.28 L164.7 240.1 L165.2 240.62 L165.7 241 L166.2 241.22" fill="none" stroke="#5a80c8" stroke-width="1.15" stroke-linejoin="round" opacity="1"/>
<path d="M132.7 241.23 L133.2 241.15 L133.7 241.06 L134.2 241.01 L134.7 240.86 L135.2 240.73 L135.7 240.38 L136.2 240.17 L136.7 239.91 L137.2 239.77 L137.7 239.51 L138.2 239.31 L138.7 238.89 L139.2 238.46 L139.7 238.36 L140.2 238.1 L140.7 237.68 L141.2 237.2 L141.7 236.54 L142.2 236.12 L142.7 235.81 L143.2 235.5 L143.7 235.01 L144.2 234.49 L144.7 233.64 L145.2 233.3 L145.7 232.5 L146.2 232.06 L146.7 231.66 L147.2 231.43 L147.7 230.81 L148.2 230.92 L148.7 230.65 L149.2 230.12 L149.7 230.02 L150.2 230.23 L150.7 230.43 L151.2 230.99 L151.7 230.95 L152.2 231.71 L152.7 232.28 L153.2 233.01 L153.7 234.08 L154.2 234.69 L154.7 235.6 L155.2 236.11 L155.7 236.76 L156.2 237.6 L156.7 237.98 L157.2 237.83 L157.7 237.39 L158.2 236.89 L158.7 236.27 L159.2 234.93 L159.7 233.87 L160.2 232.86 L160.7 231.83 L161.2 229.9 L161.7 228.7 L162.2 227.56 L162.7 225.88 L163.2 224.17 L163.7 222.55 L164.2 221.62 L164.7 220.39 L165.2 219.94 L165.7 219.36 L166.2 218.71 L166.7 219.97 L167.2 221.51 L167.7 222.71 L168.2 224.97 L168.7 226.87 L169.2 228.65 L169.7 230.48 L170.2 232.25 L170.7 233.84 L171.2 235.42 L171.7 236.81 L172.2 237.58 L172.7 238.76 L173.2 239.58 L173.7 240.28 L174.2 240.7 L174.7 241.04 L175.2 241.24" fill="none" stroke="#5cbb72" stroke-width="1.15" stroke-linejoin="round" opacity="1"/>
<path d="M133.2 241.29 L133.7 241.16 L134.2 240.99 L134.7 240.7 L135.2 240.45 L135.7 239.9 L136.2 239.28 L136.7 238.57 L137.2 237.84 L137.7 236.75 L138.2 235.98 L138.7 235.22 L139.2 234 L139.7 232.29 L140.2 231.37 L140.7 229.77 L141.2 227.91 L141.7 226.22 L142.2 224.68 L142.7 222.91 L143.2 221.91 L143.7 220.35 L144.2 218.16 L144.7 217.19 L145.2 217.11 L145.7 216.67 L146.2 216.83 L146.7 217.27 L147.2 219.58 L147.7 221.13 L148.2 223.08 L148.7 225.58 L149.2 227.59 L149.7 230.17 L150.2 232.16 L150.7 233.96 L151.2 235.09 L151.7 236.69 L152.2 237.42 L152.7 238.66 L153.2 239.76 L153.7 240.28 L154.2 240.85 L154.7 241.09 L155.2 241.27" fill="none" stroke="#cf5562" stroke-width="1.15" stroke-linejoin="round" opacity="1"/>
<path d="M230.2 241.21 L230.7 241.02 L231.2 240.73 L231.7 240.41 L232.2 239.68 L232.7 238.86 L233.2 237.78 L233.7 237.17 L234.2 235.73 L234.7 234.64 L235.2 233.08 L235.7 231.68 L236.2 229.86 L236.7 227.98 L237.2 225.8 L237.7 224.32 L238.2 222.26 L238.7 219.78 L239.2 218.11 L239.7 216.32 L240.2 215.33 L240.7 213.59 L241.2 213.99 L241.7 213.39 L242.2 213.85 L242.7 214.59 L243.2 215.03 L243.7 214.22 L244.2 214.15 L244.7 213.36 L245.2 213.41 L245.7 212.91 L246.2 214.28 L246.7 215.7 L247.2 217.4 L247.7 218.4 L248.2 220.05 L248.7 221.88 L249.2 224.37 L249.7 225.96 L250.2 227.76 L250.7 229.1 L251.2 231.05 L251.7 232.14 L252.2 233.14 L252.7 234.26 L253.2 235.39 L253.7 235.81 L254.2 235.98 L254.7 235.79 L255.2 235.69 L255.7 235.5 L256.2 235.28 L256.7 235.07 L257.2 234.76 L257.7 234.56 L258.2 234.28 L258.7 234.3 L259.2 234.27 L259.7 234.46 L260.2 234.9 L260.7 235.49 L261.2 236.39 L261.7 236.72 L262.2 237.28 L262.7 238.05 L263.2 238.46 L263.7 239.19 L264.2 239.42 L264.7 239.95 L265.2 240.22 L265.7 240.6 L266.2 240.89 L266.7 241.07 L267.2 241.22" fill="none" stroke="#8e6a58" stroke-width="1.15" stroke-linejoin="round" opacity="1"/>
<path d="M230.2 241.2 L230.7 241.01 L231.2 240.74 L231.7 240.34 L232.2 239.82 L232.7 238.93 L233.2 237.66 L233.7 236.78 L234.2 235.55 L234.7 234.36 L235.2 232.86 L235.7 231.12 L236.2 229.47 L236.7 227.87 L237.2 225.85 L237.7 223.59 L238.2 221.8 L238.7 219.52 L239.2 216.93 L239.7 215.14 L240.2 214.32 L240.7 212.84 L241.2 212.46 L241.7 212.58 L242.2 213.11 L242.7 213.73 L243.2 214.23 L243.7 213.16 L244.2 213.12 L244.7 212.17 L245.2 212.14 L245.7 212.37 L246.2 212.85 L246.7 214.94 L247.2 216.02 L247.7 217.53 L248.2 219.33 L248.7 220.63 L249.2 222.63 L249.7 223.44 L250.2 224.5 L250.7 224.76 L251.2 225.67 L251.7 225.69 L252.2 225.99 L252.7 226.27 L253.2 227.96 L253.7 228.97 L254.2 229.94 L254.7 231.08 L255.2 232.75 L255.7 233.37 L256.2 233.33 L256.7 232.6 L257.2 231.19 L257.7 229.41 L258.2 227.8 L258.7 225.75 L259.2 223.91 L259.7 221.42 L260.2 220.21 L260.7 218.92 L261.2 217.58 L261.7 218.33 L262.2 219.8 L262.7 221.75 L263.2 224.16 L263.7 226.58 L264.2 229.32 L264.7 231.77 L265.2 233.8 L265.7 235.58 L266.2 236.88 L266.7 238.16 L267.2 239.39 L267.7 240.18 L268.2 240.68 L268.7 241.1 L269.2 241.31" fill="none" stroke="#5a80c8" stroke-width="1.15" stroke-linejoin="round" opacity="1"/>
<path d="M230.7 241.2 L231.2 241.01 L231.7 240.69 L232.2 240.36 L232.7 239.66 L233.2 239.04 L233.7 238.02 L234.2 236.96 L234.7 235.84 L235.2 234.45 L235.7 233.15 L236.2 231.36 L236.7 230.01 L237.2 227.48 L237.7 225.88 L238.2 223.36 L238.7 221.93 L239.2 219.11 L239.7 217.74 L240.2 215.37 L240.7 213.99 L241.2 213.11 L241.7 213.13 L242.2 213.62 L242.7 213.8 L243.2 213.33 L243.7 214.13 L244.2 213.28 L244.7 212.81 L245.2 212.2 L245.7 212.55 L246.2 213.18 L246.7 214.23 L247.2 214.59 L247.7 216.67 L248.2 217.99 L248.7 219.68 L249.2 221.49 L249.7 222.91 L250.2 223.9 L250.7 223.79 L251.2 224.72 L251.7 224.27 L252.2 225.21 L252.7 225.76 L253.2 227.3 L253.7 228.08 L254.2 229.83 L254.7 231.13 L255.2 232.32 L255.7 233.56 L256.2 233.88 L256.7 233.16 L257.2 232.31 L257.7 230.65 L258.2 228.51 L258.7 226.92 L259.2 224.93 L259.7 222.99 L260.2 221.11 L260.7 219.73 L261.2 218.57 L261.7 218.66 L262.2 219.36 L262.7 221.87 L263.2 223.52 L263.7 225.8 L264.2 228.69 L264.7 231.13 L265.2 232.98 L265.7 235 L266.2 236.39 L266.7 237.58 L267.2 238.98 L267.7 239.99 L268.2 240.58 L268.7 241 L269.2 241.24" fill="none" stroke="#5cbb72" stroke-width="1.15" stroke-linejoin="round" opacity="1"/>
<path d="M226.7 241.31 L227.2 241.15 L227.7 240.93 L228.2 240.53 L228.7 239.87 L229.2 239.09 L229.7 237.88 L230.2 236.69 L230.7 235.33 L231.2 233.52 L231.7 231.94 L232.2 230.25 L232.7 227.96 L233.2 225.21 L233.7 222.93 L234.2 220.27 L234.7 217.93 L235.2 216.1 L235.7 215.4 L236.2 213.77 L236.7 214.42 L237.2 215.45 L237.7 216.62 L238.2 217.31 L238.7 219.51 L239.2 221.33 L239.7 222.95 L240.2 224.21 L240.7 226.39 L241.2 227.93 L241.7 230.04 L242.2 231.32 L242.7 232.83 L243.2 234.17 L243.7 235.09 L244.2 236.25 L244.7 237.25 L245.2 237.75 L245.7 238.86 L246.2 239.67 L246.7 240.25 L247.2 240.52 L247.7 240.85 L248.2 241.07 L248.7 241.23" fill="none" stroke="#cf5562" stroke-width="1.15" stroke-linejoin="round" opacity="1"/>
<path d="M33.2 276.67 L33.7 276.56 L34.2 276.46 L34.7 276.19 L35.2 275.87 L35.7 275.57 L36.2 275.21 L36.7 274.61 L37.2 273.91 L37.7 273.08 L38.2 272.66 L38.7 271.67 L39.2 270.79 L39.7 270.01 L40.2 268.97 L40.7 268.2 L41.2 266.73 L41.7 265.98 L42.2 264.67 L42.7 263.06 L43.2 261.41 L43.7 260.62 L44.2 259.06 L44.7 257.78 L45.2 255.99 L45.7 254.91 L46.2 253.58 L46.7 251.87 L47.2 251.03 L47.7 249.85 L48.2 249.84 L48.7 249.31 L49.2 250.36 L49.7 250.23 L50.2 252.12 L50.7 253.31 L51.2 254.89 L51.7 256.24 L52.2 258.46 L52.7 259.88 L53.2 261.98 L53.7 264.02 L54.2 265.23 L54.7 267.17 L55.2 268.1 L55.7 269.69 L56.2 270.93 L56.7 271.59 L57.2 272.75 L57.7 273.6 L58.2 274.5 L58.7 275.1 L59.2 275.77 L59.7 276.08 L60.2 276.4 L60.7 276.56 L61.2 276.7" fill="none" stroke="#8e6a58" stroke-width="1.15" stroke-linejoin="round" opacity="1"/>
<path d="M33.2 276.67 L33.7 276.55 L34.2 276.34 L34.7 276.26 L35.2 275.89 L35.7 275.62 L36.2 275.14 L36.7 274.56 L37.2 273.84 L37.7 273.24 L38.2 272.57 L38.7 271.92 L39.2 270.72 L39.7 270.24 L40.2 269.29 L40.7 268.01 L41.2 266.83 L41.7 265.39 L42.2 264.66 L42.7 263.18 L43.2 261.82 L43.7 260.03 L44.2 258.66 L44.7 257.23 L45.2 255.35 L45.7 254.17 L46.2 252.67 L46.7 251.39 L47.2 251.07 L47.7 249.56 L48.2 249.54 L48.7 249.67 L49.2 249.13 L49.7 250.81 L50.2 252.07 L50.7 253.23 L51.2 254.86 L51.7 256 L52.2 257.93 L52.7 260.16 L53.2 261.89 L53.7 263.42 L54.2 265.12 L54.7 266.78 L55.2 268.29 L55.7 269.79 L56.2 270.86 L56.7 271.67 L57.2 272.6 L57.7 273.42 L58.2 274.3 L58.7 275 L59.2 275.72 L59.7 276.13 L60.2 276.28 L60.7 276.55 L61.2 276.7" fill="none" stroke="#5a80c8" stroke-width="1.15" stroke-linejoin="round" opacity="1"/>
<path d="M33.2 276.73 L33.7 276.63 L34.2 276.49 L34.7 276.3 L35.2 276.14 L35.7 275.74 L36.2 275.46 L36.7 275 L37.2 274.37 L37.7 273.6 L38.2 272.78 L38.7 272.37 L39.2 271.32 L39.7 270.54 L40.2 269.7 L40.7 268.57 L41.2 267.39 L41.7 266.71 L42.2 265.15 L42.7 263.68 L43.2 262.26 L43.7 260.86 L44.2 259.78 L44.7 257.63 L45.2 256.31 L45.7 255.4 L46.2 253.86 L46.7 252.09 L47.2 251.72 L47.7 250.57 L48.2 249.27 L48.7 248.88 L49.2 249.55 L49.7 249.55 L50.2 250.85 L50.7 251.74 L51.2 253.07 L51.7 255.26 L52.2 256.85 L52.7 258.59 L53.2 260.29 L53.7 262.19 L54.2 263.77 L54.7 265.16 L55.2 266.64 L55.7 268.22 L56.2 269.18 L56.7 270.14 L57.2 271.34 L57.7 272.33 L58.2 272.96 L58.7 274.01 L59.2 274.84 L59.7 275.35 L60.2 275.9 L60.7 276.11 L61.2 276.45 L61.7 276.58 L62.2 276.71" fill="none" stroke="#5cbb72" stroke-width="1.15" stroke-linejoin="round" opacity="1"/>
<path d="M19.2 275.92 L19.7 275.51 L20.2 275.2 L20.7 274.77 L21.2 274.34 L21.7 273.76 L22.2 273.15 L22.7 272.54 L23.2 272.31 L23.7 271.45 L24.2 271.01 L24.7 270.32 L25.2 269.24 L25.7 268.53 L26.2 267.5 L26.7 266.54 L27.2 265.73 L27.7 264.98 L28.2 264.06 L28.7 262.58 L29.2 261.32 L29.7 260.55 L30.2 259.6 L30.7 258.55 L31.2 257.33 L31.7 255.81 L32.2 255.47 L32.7 254.36 L33.2 253.52 L33.7 252.39 L34.2 251.56 L34.7 252.15 L35.2 251.89 L35.7 251.48 L36.2 252.42 L36.7 254.56 L37.2 256 L37.7 257.64 L38.2 259.71 L38.7 261.56 L39.2 263.41 L39.7 265.38 L40.2 267.19 L40.7 268.71 L41.2 270.05 L41.7 271.3 L42.2 272.12 L42.7 273.02 L43.2 274.14 L43.7 274.85 L44.2 275.51 L44.7 276.06 L45.2 276.36 L45.7 276.58 L46.2 276.73" fill="none" stroke="#cf5562" stroke-width="1.15" stroke-linejoin="round" opacity="1"/>
<path d="M122.2 276.73 L122.7 276.64 L123.2 276.51 L123.7 276.38 L124.2 276.03 L124.7 275.81 L125.2 275.56 L125.7 275.09 L126.2 274.36 L126.7 273.77 L127.2 272.92 L127.7 272.47 L128.2 271.5 L128.7 270.68 L129.2 270.16 L129.7 268.92 L130.2 268.1 L130.7 266.64 L131.2 265.36 L131.7 264.07 L132.2 263.14 L132.7 261.87 L133.2 260 L133.7 258.66 L134.2 257.62 L134.7 256.21 L135.2 254.55 L135.7 253.8 L136.2 252.21 L136.7 251.7 L137.2 250.98 L137.7 250.38 L138.2 250.21 L138.7 250.39 L139.2 251.75 L139.7 251.92 L140.2 253.46 L140.7 254.57 L141.2 255.54 L141.7 256.85 L142.2 258.33 L142.7 259.52 L143.2 261.5 L143.7 262.81 L144.2 263.9 L144.7 265.47 L145.2 266.76 L145.7 267.86 L146.2 268.61 L146.7 269.58 L147.2 270.55 L147.7 271.27 L148.2 272.09 L148.7 272.96 L149.2 273.64 L149.7 274.22 L150.2 275.01 L150.7 275.34 L151.2 275.84 L151.7 276.14 L152.2 276.29 L152.7 276.48 L153.2 276.61 L153.7 276.72" fill="none" stroke="#8e6a58" stroke-width="1.15" stroke-linejoin="round" opacity="1"/>
<path d="M122.2 276.73 L122.7 276.64 L123.2 276.5 L123.7 276.38 L124.2 276.03 L124.7 275.73 L125.2 275.45 L125.7 275.06 L126.2 274.53 L126.7 273.7 L127.2 272.96 L127.7 272.38 L128.2 271.49 L128.7 270.77 L129.2 269.74 L129.7 269.13 L130.2 268.1 L130.7 266.77 L131.2 265.49 L131.7 264.36 L132.2 262.71 L132.7 261.66 L133.2 260.16 L133.7 258.6 L134.2 256.97 L134.7 255.53 L135.2 254.58 L135.7 253.29 L136.2 251.73 L136.7 250.8 L137.2 250.42 L137.7 250.51 L138.2 250.09 L138.7 250.29 L139.2 251.31 L139.7 252.42 L140.2 252.54 L140.7 253.82 L141.2 255.85 L141.7 256.91 L142.2 258.19 L142.7 259.89 L143.2 261.5 L143.7 262.37 L144.2 263.72 L144.7 265.27 L145.2 266.73 L145.7 267.69 L146.2 268.94 L146.7 269.45 L147.2 270.84 L147.7 271.54 L148.2 272.07 L148.7 273 L149.2 273.69 L149.7 274.42 L150.2 274.97 L150.7 275.35 L151.2 275.67 L151.7 276.11 L152.2 276.34 L152.7 276.47 L153.2 276.61 L153.7 276.72" fill="none" stroke="#5a80c8" stroke-width="1.15" stroke-linejoin="round" opacity="1"/>
<path d="M122.7 276.7 L123.2 276.59 L123.7 276.44 L124.2 276.2 L124.7 276.01 L125.2 275.71 L125.7 275.36 L126.2 274.84 L126.7 273.98 L127.2 273.53 L127.7 272.82 L128.2 271.94 L128.7 271.09 L129.2 270.23 L129.7 269.52 L130.2 268.23 L130.7 267.33 L131.2 266.36 L131.7 264.99 L132.2 263.49 L132.7 262.1 L133.2 261.17 L133.7 259.69 L134.2 257.61 L134.7 256.95 L135.2 254.95 L135.7 254.11 L136.2 253.04 L136.7 252.02 L137.2 250.97 L137.7 249.82 L138.2 250.38 L138.7 249.78 L139.2 250.78 L139.7 251.61 L140.2 251.9 L140.7 253.31 L141.2 254.59 L141.7 255.6 L142.2 256.53 L142.7 257.84 L143.2 259.44 L143.7 261.25 L144.2 261.98 L144.7 263.4 L145.2 264.45 L145.7 265.63 L146.2 267.17 L146.7 267.91 L147.2 268.93 L147.7 270.14 L148.2 270.92 L148.7 271.67 L149.2 272.36 L149.7 272.97 L150.2 273.73 L150.7 274.36 L151.2 274.72 L151.7 275.33 L152.2 275.65 L152.7 275.91 L153.2 276.18 L153.7 276.42 L154.2 276.56 L154.7 276.67" fill="none" stroke="#5cbb72" stroke-width="1.15" stroke-linejoin="round" opacity="1"/>
<path d="M111.2 276.71 L111.7 276.63 L112.2 276.52 L112.7 276.42 L113.2 276.15 L113.7 275.95 L114.2 275.64 L114.7 275.38 L115.2 274.99 L115.7 274.51 L116.2 274.15 L116.7 273.38 L117.2 272.95 L117.7 272.21 L118.2 271.93 L118.7 271.09 L119.2 270.49 L119.7 269.47 L120.2 268.91 L120.7 267.73 L121.2 266.78 L121.7 265.77 L122.2 265.23 L122.7 263.59 L123.2 262.6 L123.7 261.51 L124.2 260.36 L124.7 259.69 L125.2 257.83 L125.7 256.96 L126.2 255.94 L126.7 254.99 L127.2 253.57 L127.7 252.67 L128.2 251.78 L128.7 251.78 L129.2 251.15 L129.7 250.93 L130.2 251.1 L130.7 251.55 L131.2 253.01 L131.7 253.78 L132.2 256.08 L132.7 258.13 L133.2 260.11 L133.7 261.55 L134.2 263.9 L134.7 265.54 L135.2 267.28 L135.7 268.6 L136.2 269.91 L136.7 271.45 L137.2 272.35 L137.7 273.14 L138.2 274.36 L138.7 275.04 L139.2 275.68 L139.7 276.18 L140.2 276.44 L140.7 276.64 L141.2 276.77" fill="none" stroke="#cf5562" stroke-width="1.15" stroke-linejoin="round" opacity="1"/>
<path d="M225.7 276.68 L226.2 276.5 L226.7 276.17 L227.2 275.83 L227.7 275.4 L228.2 274.51 L228.7 273.4 L229.2 272.47 L229.7 271.44 L230.2 270.25 L230.7 268.58 L231.2 267.1 L231.7 265.64 L232.2 263.63 L232.7 261.6 L233.2 258.98 L233.7 257.05 L234.2 255.47 L234.7 252.74 L235.2 251.87 L235.7 249.89 L236.2 249.09 L236.7 248.5 L237.2 249.48 L237.7 251.11 L238.2 252.38 L238.7 254.12 L239.2 256.35 L239.7 259.01 L240.2 261.37 L240.7 263.14 L241.2 265.16 L241.7 267.41 L242.2 268.7 L242.7 270.13 L243.2 271.68 L243.7 272.78 L244.2 273.81 L244.7 274.73 L245.2 275.63 L245.7 276.09 L246.2 276.42 L246.7 276.62 L247.2 276.77" fill="none" stroke="#8e6a58" stroke-width="1.15" stroke-linejoin="round" opacity="1"/>
<path d="M226.2 276.66 L226.7 276.46 L227.2 276.13 L227.7 275.83 L228.2 275.17 L228.7 274.39 L229.2 273.26 L229.7 272.49 L230.2 271.04 L230.7 269.75 L231.2 268.55 L231.7 266.79 L232.2 265.42 L232.7 262.97 L233.2 261.2 L233.7 258.91 L234.2 256.68 L234.7 255.08 L235.2 252.62 L235.7 251.66 L236.2 250.53 L236.7 249.19 L237.2 248.68 L237.7 249.49 L238.2 250.82 L238.7 253.03 L239.2 254.68 L239.7 257.22 L240.2 259.83 L240.7 261.65 L241.2 263.67 L241.7 265.93 L242.2 267.63 L242.7 269.44 L243.2 270.83 L243.7 271.97 L244.2 272.96 L244.7 274.14 L245.2 275.15 L245.7 275.8 L246.2 276.17 L246.7 276.46 L247.2 276.66" fill="none" stroke="#5a80c8" stroke-width="1.15" stroke-linejoin="round" opacity="1"/>
<path d="M226.2 276.66 L226.7 276.46 L227.2 276.14 L227.7 275.71 L228.2 275.25 L228.7 274.46 L229.2 273.32 L229.7 272.47 L230.2 271.21 L230.7 269.8 L231.2 268.75 L231.7 266.92 L232.2 265.05 L232.7 263.09 L233.2 261.07 L233.7 258.95 L234.2 257.21 L234.7 254.63 L235.2 252.62 L235.7 251.81 L236.2 249.57 L236.7 249.25 L237.2 249.54 L237.7 250.36 L238.2 250.98 L238.7 252.87 L239.2 255.42 L239.7 257.31 L240.2 259.41 L240.7 261.37 L241.2 264 L241.7 265.7 L242.2 267.84 L242.7 269.47 L243.2 270.89 L243.7 271.98 L244.2 272.92 L244.7 274.2 L245.2 275.13 L245.7 275.75 L246.2 276.22 L246.7 276.46 L247.2 276.66" fill="none" stroke="#5cbb72" stroke-width="1.15" stroke-linejoin="round" opacity="1"/>
<path d="M225.2 276.74 L225.7 276.58 L226.2 276.4 L226.7 276.05 L227.2 275.54 L227.7 274.96 L228.2 273.97 L228.7 272.88 L229.2 271.66 L229.7 270.72 L230.2 269.14 L230.7 267.88 L231.2 266.37 L231.7 264.25 L232.2 262.59 L232.7 260.49 L233.2 258.45 L233.7 255.77 L234.2 253.47 L234.7 252.16 L235.2 250.65 L235.7 249.41 L236.2 248.88 L236.7 248.91 L237.2 250.47 L237.7 252.52 L238.2 254.03 L238.7 256.72 L239.2 259.69 L239.7 261.47 L240.2 263.91 L240.7 266.3 L241.2 268.02 L241.7 269.48 L242.2 271.06 L242.7 272.03 L243.2 272.92 L243.7 273.3 L244.2 273.48 L244.7 273.58 L245.2 273.62 L245.7 274.02 L246.2 274.07 L246.7 274.04 L247.2 274.21 L247.7 274.42 L248.2 274.54 L248.7 274.79 L249.2 274.77 L249.7 275.03 L250.2 275.22 L250.7 275.41 L251.2 275.56 L251.7 275.5 L252.2 275.65 L252.7 275.93 L253.2 275.98 L253.7 276.05 L254.2 276.13 L254.7 276.24 L255.2 276.24 L255.7 276.39 L256.2 276.43 L256.7 276.52 L257.2 276.59 L257.7 276.65" fill="none" stroke="#cf5562" stroke-width="1.15" stroke-linejoin="round" opacity="1"/>
<path d="M31.2 312.11 L31.7 311.97 L32.2 311.78 L32.7 311.45 L33.2 311.17 L33.7 310.78 L34.2 310.28 L34.7 309.58 L35.2 308.71 L35.7 307.96 L36.2 307.43 L36.7 306.52 L37.2 305.56 L37.7 304.53 L38.2 303.05 L38.7 302.03 L39.2 300.88 L39.7 299.44 L40.2 297.62 L40.7 296.65 L41.2 294.71 L41.7 293.81 L42.2 292.24 L42.7 291.04 L43.2 289.13 L43.7 288.75 L44.2 287.88 L44.7 287.56 L45.2 287.36 L45.7 287.87 L46.2 289.51 L46.7 291.4 L47.2 293.7 L47.7 296.45 L48.2 298.56 L48.7 301.4 L49.2 302.92 L49.7 305.03 L50.2 306.71 L50.7 307.77 L51.2 308.86 L51.7 310.22 L52.2 311.11 L52.7 311.51 L53.2 311.93 L53.7 312.15" fill="none" stroke="#8e6a58" stroke-width="1.15" stroke-linejoin="round" opacity="1"/>
<path d="M29.7 312.18 L30.2 312.07 L30.7 311.92 L31.2 311.68 L31.7 311.43 L32.2 310.99 L32.7 310.76 L33.2 310.2 L33.7 309.48 L34.2 308.83 L34.7 307.88 L35.2 307.14 L35.7 306.53 L36.2 305.56 L36.7 304.51 L37.2 303.12 L37.7 301.85 L38.2 300.33 L38.7 299.38 L39.2 297.5 L39.7 296.48 L40.2 295.08 L40.7 293.8 L41.2 292.48 L41.7 290.57 L42.2 289.44 L42.7 288.81 L43.2 288.67 L43.7 288.33 L44.2 288.74 L44.7 289.76 L45.2 291.15 L45.7 293.84 L46.2 295.7 L46.7 297.9 L47.2 300.61 L47.7 302.42 L48.2 304.1 L48.7 305.88 L49.2 307.35 L49.7 308.34 L50.2 309.6 L50.7 310.67 L51.2 311.33 L51.7 311.69 L52.2 312.04 L52.7 312.21" fill="none" stroke="#5a80c8" stroke-width="1.15" stroke-linejoin="round" opacity="1"/>
<path d="M31.7 312.16 L32.2 312.04 L32.7 311.87 L33.2 311.58 L33.7 311.26 L34.2 310.94 L34.7 310.54 L35.2 309.91 L35.7 309.04 L36.2 308.14 L36.7 307.68 L37.2 306.46 L37.7 305.5 L38.2 304.57 L38.7 303.7 L39.2 301.94 L39.7 300.82 L40.2 299.18 L40.7 297.73 L41.2 296.02 L41.7 294.67 L42.2 292.59 L42.7 291.01 L43.2 289.52 L43.7 288.44 L44.2 287.52 L44.7 286.46 L45.2 285.84 L45.7 284.8 L46.2 285.44 L46.7 287.09 L47.2 289.4 L47.7 291.99 L48.2 295.15 L48.7 298.29 L49.2 300.64 L49.7 303.35 L50.2 305.22 L50.7 307.15 L51.2 308.24 L51.7 309.84 L52.2 310.93 L52.7 311.47 L53.2 311.95 L53.7 312.18" fill="none" stroke="#5cbb72" stroke-width="1.15" stroke-linejoin="round" opacity="1"/>
<path d="M19.2 312.19 L19.7 312.09 L20.2 311.97 L20.7 311.86 L21.2 311.5 L21.7 311.24 L22.2 311.02 L22.7 310.41 L23.2 309.9 L23.7 309.1 L24.2 308.5 L24.7 307.93 L25.2 307 L25.7 306.61 L26.2 305.39 L26.7 304.8 L27.2 303.68 L27.7 302.68 L28.2 301 L28.7 300.03 L29.2 298.51 L29.7 297.51 L30.2 295.75 L30.7 294.41 L31.2 293.51 L31.7 291.82 L32.2 290.33 L32.7 289.63 L33.2 288.15 L33.7 287.63 L34.2 286.86 L34.7 285.87 L35.2 285.82 L35.7 286.31 L36.2 287.82 L36.7 288.9 L37.2 290.12 L37.7 291.78 L38.2 293.74 L38.7 295.15 L39.2 297.26 L39.7 298.54 L40.2 300.52 L40.7 302.27 L41.2 303.29 L41.7 304.93 L42.2 305.8 L42.7 307.13 L43.2 307.63 L43.7 308.61 L44.2 309.45 L44.7 310.41 L45.2 310.86 L45.7 311.36 L46.2 311.71 L46.7 311.91 L47.2 312.08 L47.7 312.2" fill="none" stroke="#cf5562" stroke-width="1.15" stroke-linejoin="round" opacity="1"/>
<path d="M125.2 312.15 L125.7 312.01 L126.2 311.76 L126.7 311.61 L127.2 311.15 L127.7 310.74 L128.2 309.85 L128.7 308.94 L129.2 308.4 L129.7 307.37 L130.2 306.39 L130.7 305.14 L131.2 303.88 L131.7 302.73 L132.2 300.84 L132.7 299.75 L133.2 298.1 L133.7 295.81 L134.2 294.6 L134.7 292.78 L135.2 290.8 L135.7 289.37 L136.2 288.14 L136.7 286.22 L137.2 285.88 L137.7 285.2 L138.2 286.33 L138.7 286.98 L139.2 289.48 L139.7 290.98 L140.2 293.58 L140.7 295.68 L141.2 298.2 L141.7 300.52 L142.2 302.61 L142.7 304.24 L143.2 306.04 L143.7 307.53 L144.2 308.31 L144.7 309.59 L145.2 310.58 L145.7 311.23 L146.2 311.77 L146.7 312.01 L147.2 312.19" fill="none" stroke="#8e6a58" stroke-width="1.15" stroke-linejoin="round" opacity="1"/>
<path d="M125.2 312.15 L125.7 312.01 L126.2 311.81 L126.7 311.46 L127.2 311.03 L127.7 310.5 L128.2 310.03 L128.7 308.98 L129.2 308.14 L129.7 307.34 L130.2 306.47 L130.7 305.37 L131.2 303.94 L131.7 302.53 L132.2 301.17 L132.7 299.48 L133.2 297.62 L133.7 295.67 L134.2 294 L134.7 292.58 L135.2 290.19 L135.7 289.08 L136.2 287.07 L136.7 285.88 L137.2 285.93 L137.7 285.11 L138.2 285.3 L138.7 287.23 L139.2 288.9 L139.7 291.29 L140.2 293.88 L140.7 296.12 L141.2 298.53 L141.7 300.63 L142.2 302.44 L142.7 304.32 L143.2 305.72 L143.7 307.22 L144.2 308.48 L144.7 309.51 L145.2 310.57 L145.7 311.26 L146.2 311.66 L146.7 312.01 L147.2 312.19" fill="none" stroke="#5a80c8" stroke-width="1.15" stroke-linejoin="round" opacity="1"/>
<path d="M125.7 312.1 L126.2 311.93 L126.7 311.67 L127.2 311.4 L127.7 310.91 L128.2 310.41 L128.7 309.44 L129.2 308.73 L129.7 307.63 L130.2 307.12 L130.7 306.12 L131.2 304.66 L131.7 303.55 L132.2 301.93 L132.7 300.63 L133.2 298.45 L133.7 296.82 L134.2 295.01 L134.7 292.98 L135.2 291.13 L135.7 289.73 L136.2 288.15 L136.7 287.54 L137.2 286.46 L137.7 285.42 L138.2 284.83 L138.7 286.43 L139.2 287.73 L139.7 290.25 L140.2 292.12 L140.7 294.1 L141.2 296.77 L141.7 298.92 L142.2 301.65 L142.7 303.46 L143.2 305.19 L143.7 306.35 L144.2 307.95 L144.7 308.75 L145.2 310.15 L145.7 310.81 L146.2 311.47 L146.7 311.85 L147.2 312.09 L147.7 312.24" fill="none" stroke="#5cbb72" stroke-width="1.15" stroke-linejoin="round" opacity="1"/>
<path d="M121.2 312.14 L121.7 311.99 L122.2 311.82 L122.7 311.43 L123.2 311.16 L123.7 310.59 L124.2 310.12 L124.7 309.03 L125.2 308.28 L125.7 307.85 L126.2 306.66 L126.7 305.88 L127.2 304.83 L127.7 303.47 L128.2 301.94 L128.7 300.3 L129.2 298.75 L129.7 297.19 L130.2 295.91 L130.7 294.36 L131.2 293.34 L131.7 291.51 L132.2 290.53 L132.7 289.82 L133.2 288.74 L133.7 289.38 L134.2 290.56 L134.7 292.33 L135.2 294.55 L135.7 296.62 L136.2 298.95 L136.7 301.76 L137.2 303.7 L137.7 305.55 L138.2 307.16 L138.7 308.53 L139.2 309.69 L139.7 310.89 L140.2 311.54 L140.7 311.89 L141.2 312.14" fill="none" stroke="#cf5562" stroke-width="1.15" stroke-linejoin="round" opacity="1"/>
<path d="M224.2 312.19 L224.7 312.04 L225.2 311.82 L225.7 311.53 L226.2 310.94 L226.7 310.42 L227.2 309.34 L227.7 308.46 L228.2 307.56 L228.7 306.25 L229.2 304.99 L229.7 303.52 L230.2 301.58 L230.7 300.11 L231.2 297.82 L231.7 295.61 L232.2 293.8 L232.7 291.66 L233.2 289.25 L233.7 287.72 L234.2 286.6 L234.7 285.58 L235.2 284.97 L235.7 285.23 L236.2 287.15 L236.7 288.97 L237.2 291.98 L237.7 295.02 L238.2 297.76 L238.7 300.19 L239.2 303.07 L239.7 305.14 L240.2 306.66 L240.7 307.73 L241.2 308.22 L241.7 308.38 L242.2 308.32 L242.7 308.22 L243.2 308.08 L243.7 307.89 L244.2 307.45 L244.7 307.45 L245.2 307.66 L245.7 307.54 L246.2 307.92 L246.7 307.92 L247.2 308.21 L247.7 308.56 L248.2 308.57 L248.7 308.87 L249.2 309.23 L249.7 309.63 L250.2 309.75 L250.7 310.09 L251.2 310.28 L251.7 310.68 L252.2 310.7 L252.7 311.12 L253.2 311.25 L253.7 311.38 L254.2 311.56 L254.7 311.71 L255.2 311.75 L255.7 311.92 L256.2 312.03 L256.7 312.12" fill="none" stroke="#8e6a58" stroke-width="1.15" stroke-linejoin="round" opacity="1"/>
<path d="M224.2 312.19 L224.7 312.04 L225.2 311.74 L225.7 311.51 L226.2 311.06 L226.7 310.3 L227.2 309.55 L227.7 308.4 L228.2 307.3 L228.7 306.28 L229.2 305.11 L229.7 303.68 L230.2 301.73 L230.7 299.57 L231.2 297.63 L231.7 296.2 L232.2 293.76 L232.7 291.67 L233.2 289.94 L233.7 287.66 L234.2 286.28 L234.7 284.81 L235.2 284.75 L235.7 284.6 L236.2 286.42 L236.7 289.14 L237.2 292.23 L237.7 294.88 L238.2 298.07 L238.7 300.39 L239.2 302.85 L239.7 305.05 L240.2 306.63 L240.7 308.47 L241.2 309.7 L241.7 310.77 L242.2 311.59 L242.7 311.94 L243.2 312.18" fill="none" stroke="#5a80c8" stroke-width="1.15" stroke-linejoin="round" opacity="1"/>
<path d="M224.7 312.11 L225.2 311.91 L225.7 311.66 L226.2 311.31 L226.7 310.61 L227.2 309.77 L227.7 308.84 L228.2 307.71 L228.7 306.78 L229.2 305.36 L229.7 304.18 L230.2 302.14 L230.7 300.71 L231.2 299.12 L231.7 297.04 L232.2 294.42 L232.7 292.17 L233.2 290.31 L233.7 288.86 L234.2 286.48 L234.7 285.31 L235.2 285.09 L235.7 284.79 L236.2 285.78 L236.7 288.59 L237.2 291.18 L237.7 293.79 L238.2 296.32 L238.7 299.06 L239.2 302.06 L239.7 303.86 L240.2 305.64 L240.7 306.75 L241.2 307.51 L241.7 307.45 L242.2 307.39 L242.7 307 L243.2 306.94 L243.7 306.91 L244.2 306.61 L244.7 306.53 L245.2 306.59 L245.7 306.67 L246.2 306.78 L246.7 306.97 L247.2 307.4 L247.7 307.68 L248.2 307.91 L248.7 308.25 L249.2 308.63 L249.7 308.88 L250.2 309.39 L250.7 309.59 L251.2 309.98 L251.7 310.13 L252.2 310.42 L252.7 310.65 L253.2 310.94 L253.7 311.21 L254.2 311.25 L254.7 311.49 L255.2 311.69 L255.7 311.86 L256.2 311.96 L256.7 312.07 L257.2 312.15" fill="none" stroke="#5cbb72" stroke-width="1.15" stroke-linejoin="round" opacity="1"/>
<path d="M224.2 312.1 L224.7 311.91 L225.2 311.63 L225.7 311.16 L226.2 310.53 L226.7 309.82 L227.2 308.66 L227.7 307.87 L228.2 306.68 L228.7 305.47 L229.2 304.07 L229.7 302.42 L230.2 300.37 L230.7 298.43 L231.2 296.78 L231.7 294.65 L232.2 292.03 L232.7 290.06 L233.2 288.1 L233.7 286.44 L234.2 285.04 L234.7 284.63 L235.2 284.83 L235.7 285.82 L236.2 288.3 L236.7 290.1 L237.2 293.45 L237.7 296.33 L238.2 298.98 L238.7 301.72 L239.2 304.35 L239.7 306.21 L240.2 307.87 L240.7 309.06 L241.2 310.38 L241.7 311.28 L242.2 311.81 L242.7 312.1 L243.2 312.26" fill="none" stroke="#cf5562" stroke-width="1.15" stroke-linejoin="round" opacity="1"/>
<line x1="13.5" y1="38.9" x2="13.5" y2="319.2" stroke="#111" stroke-width="1.3"/>
<polygon points="13.5,33 10.3,39.4 16.7,39.4" fill="#111"/>
<line x1="13" y1="318.8" x2="100.4" y2="318.8" stroke="#111" stroke-width="1.7"/>
<polygon points="106.3,318.8 99.9,315.8 99.9,321.8" fill="#111"/>
<line x1="109" y1="318.8" x2="193.6" y2="318.8" stroke="#111" stroke-width="1.7"/>
<polygon points="199.5,318.8 193.1,315.8 193.1,321.8" fill="#111"/>
<line x1="202" y1="318.8" x2="287.6" y2="318.8" stroke="#111" stroke-width="1.7"/>
<polygon points="293.5,318.8 287.1,315.8 287.1,321.8" fill="#111"/>
<text x="60.5" y="329.2" font-size="8.2" text-anchor="middle" font-weight="normal" fill="#222" stroke="#222" stroke-width="0.22">p-PLCγ2</text>
<text x="149" y="329.2" font-size="8.2" text-anchor="middle" font-weight="normal" fill="#222" stroke="#222" stroke-width="0.22">p-AKT</text>
<text x="246" y="329.2" font-size="8.2" text-anchor="middle" font-weight="normal" fill="#222" stroke="#222" stroke-width="0.22">p-ERK1/2</text>
<text x="10.6" y="160" font-size="9.2" text-anchor="middle" font-weight="normal" fill="#222" stroke="#222" stroke-width="0.22" transform="rotate(-90 10.6 160)">Cell number</text>
<line x1="294.6" y1="32.2" x2="294.6" y2="205.8" stroke="#3a3a3a" stroke-width="1.3"/>
<line x1="294.6" y1="209.3" x2="294.6" y2="312.8" stroke="#3a3a3a" stroke-width="1.3"/>
<text x="305.6" y="117.8" font-size="10" text-anchor="middle" font-weight="normal" fill="#222" stroke="#222" stroke-width="0.22" transform="rotate(-90 305.6 117.8)">Sensitive</text>
<text x="305.6" y="267.5" font-size="10" text-anchor="middle" font-weight="normal" fill="#222" stroke="#222" stroke-width="0.22" transform="rotate(-90 305.6 267.5)">Resistant</text>
<text x="312.8" y="13.9" font-size="17.5" text-anchor="start" font-weight="bold" fill="#000">B</text>
<line x1="338" y1="12.4" x2="352.4" y2="12.4" stroke="#d42020" stroke-width="2"/>
<text x="355" y="15.6" font-size="9.4" text-anchor="start" font-weight="normal" fill="#222" stroke="#222" stroke-width="0.22">Isotype</text>
<line x1="394.8" y1="12.4" x2="409" y2="12.4" stroke="#30c030" stroke-width="2"/>
<text x="411" y="15.6" font-size="9.4" text-anchor="start" font-weight="normal" fill="#222" stroke="#222" stroke-width="0.22">Non-Targeting siRNA</text>
<line x1="374.6" y1="24.4" x2="390" y2="24.4" stroke="#2070d0" stroke-width="2"/>
<text x="392.8" y="27.6" font-size="9.4" text-anchor="start" font-weight="normal" fill="#222" stroke="#222" stroke-width="0.22">SYK siRNA</text>
<rect x="329.1" y="31.6" width="83.8" height="31.3" fill="#fff" stroke="#c0c0c0" stroke-width="1.2"/>
<rect x="415.1" y="31.6" width="84.8" height="31.3" fill="#fff" stroke="#c0c0c0" stroke-width="1.2"/>
<text x="496.6" y="48.8" font-size="9.2" text-anchor="end" font-weight="normal" fill="#222" stroke="#222" stroke-width="0.22">LY1</text>
<rect x="329.1" y="70.8" width="83.8" height="31.1" fill="#fff" stroke="#c0c0c0" stroke-width="1.2"/>
<rect x="415.1" y="70.8" width="84.8" height="31.1" fill="#fff" stroke="#c0c0c0" stroke-width="1.2"/>
<text x="496.6" y="89.7" font-size="9.2" text-anchor="end" font-weight="normal" fill="#222" stroke="#222" stroke-width="0.22">LY7</text>
<rect x="329.1" y="107.6" width="83.8" height="31.3" fill="#fff" stroke="#c0c0c0" stroke-width="1.2"/>
<rect x="415.1" y="107.6" width="84.8" height="31.3" fill="#fff" stroke="#c0c0c0" stroke-width="1.2"/>
<text x="496.6" y="127" font-size="9.2" text-anchor="end" font-weight="normal" fill="#222" stroke="#222" stroke-width="0.22">LY18</text>
<rect x="329.2" y="155.3" width="83.6" height="31.6" fill="#fff" stroke="#a9acb4" stroke-width="1.3"/>
<line x1="329.4" y1="155.1" x2="329.4" y2="187.1" stroke="#7888a8" stroke-width="1.7"/>
<line x1="412.6" y1="155.1" x2="412.6" y2="187.1" stroke="#8090ac" stroke-width="1.6"/>
<rect x="415.2" y="155.3" width="84.6" height="31.6" fill="#fff" stroke="#a9acb4" stroke-width="1.3"/>
<line x1="415.4" y1="155.1" x2="415.4" y2="187.1" stroke="#7888a8" stroke-width="1.7"/>
<line x1="499.6" y1="155.1" x2="499.6" y2="187.1" stroke="#8090ac" stroke-width="1.6"/>
<text x="496.6" y="173.8" font-size="9.2" text-anchor="end" font-weight="normal" fill="#222" stroke="#222" stroke-width="0.22">LY4</text>
<path d="M362.8 62.08 L363.3 61.95 L363.8 61.81 L364.3 61.56 L364.8 61.25 L365.3 60.87 L365.8 60.46 L366.3 59.95 L366.8 59.49 L367.3 58.8 L367.8 58.01 L368.3 57.05 L368.8 56.75 L369.3 56.04 L369.8 55.19 L370.3 53.97 L370.8 53.07 L371.3 52.39 L371.8 50.99 L372.3 49.83 L372.8 48.98 L373.3 47.93 L373.8 46.21 L374.3 45.23 L374.8 44.14 L375.3 42.15 L375.8 41.28 L376.3 40.08 L376.8 38.73 L377.3 38.01 L377.8 37.34 L378.3 36.26 L378.8 35.85 L379.3 36.48 L379.8 36.82 L380.3 37.42 L380.8 39.01 L381.3 39.98 L381.8 41.42 L382.3 43.24 L382.8 44.83 L383.3 45.74 L383.8 47.22 L384.3 48.83 L384.8 50.21 L385.3 51.01 L385.8 52.17 L386.3 53.68 L386.8 54.48 L387.3 55.42 L387.8 56.39 L388.3 57.27 L388.8 57.82 L389.3 58.64 L389.8 59.45 L390.3 60.13 L390.8 60.76 L391.3 61.15 L391.8 61.46 L392.3 61.7 L392.8 61.9 L393.3 62.05" fill="none" stroke="#5ac85a" stroke-width="1.1" stroke-linejoin="round" opacity="1"/>
<path d="M332.3 62.07 L332.8 61.94 L333.3 61.78 L333.8 61.46 L334.3 61.32 L334.8 60.76 L335.3 60.49 L335.8 59.75 L336.3 59.28 L336.8 58.41 L337.3 57.92 L337.8 57.43 L338.3 56.37 L338.8 55.58 L339.3 55.02 L339.8 53.82 L340.3 53.01 L340.8 51.65 L341.3 51.16 L341.8 49.81 L342.3 48.74 L342.8 47.25 L343.3 45.92 L343.8 44.68 L344.3 43.8 L344.8 42.89 L345.3 41.58 L345.8 41.44 L346.3 40.76 L346.8 40.3 L347.3 41.47 L347.8 42.31 L348.3 44.66 L348.8 46 L349.3 47.81 L349.8 49.38 L350.3 50.39 L350.8 51 L351.3 50.94 L351.8 50.65 L352.3 50.2 L352.8 50.03 L353.3 49.91 L353.8 50.66 L354.3 51.16 L354.8 52.61 L355.3 53.36 L355.8 54.35 L356.3 55.34 L356.8 55.92 L357.3 56.93 L357.8 57.13 L358.3 57.66 L358.8 57.78 L359.3 57.63 L359.8 57.55 L360.3 57.52 L360.8 57.44 L361.3 56.9 L361.8 57.07 L362.3 57.24 L362.8 57.24 L363.3 57.64 L363.8 58.12 L364.3 58.54 L364.8 58.79 L365.3 59.4 L365.8 59.77 L366.3 59.99 L366.8 60.5 L367.3 60.79 L367.8 61.11 L368.3 61.24 L368.8 61.48 L369.3 61.76 L369.8 61.93 L370.3 62.07" fill="none" stroke="#4a86d4" stroke-width="1.1" stroke-linejoin="round" opacity="1"/>
<path d="M329.8 59.04 L330.3 58.47 L330.8 57.62 L331.3 57.26 L331.8 56.54 L332.3 56.17 L332.8 55.36 L333.3 55.06 L333.8 54.24 L334.3 53.04 L334.8 52.39 L335.3 51.53 L335.8 50.76 L336.3 49.84 L336.8 49.07 L337.3 48.1 L337.8 46.72 L338.3 45.64 L338.8 44.95 L339.3 43.58 L339.8 42.99 L340.3 41.55 L340.8 40.98 L341.3 39.75 L341.8 39.09 L342.3 38.1 L342.8 37.88 L343.3 37.05 L343.8 36.68 L344.3 37.73 L344.8 38.65 L345.3 39.71 L345.8 41.47 L346.3 43.15 L346.8 44.81 L347.3 46.78 L347.8 48.78 L348.3 50.26 L348.8 51.56 L349.3 53.16 L349.8 54.36 L350.3 55.73 L350.8 56.72 L351.3 57.4 L351.8 58.53 L352.3 59.59 L352.8 60.52 L353.3 60.97 L353.8 61.52 L354.3 61.7 L354.8 61.99 L355.3 62.15" fill="none" stroke="#de4a4c" stroke-width="1.1" stroke-linejoin="round" opacity="1"/>
<path d="M432.3 62.08 L432.8 61.95 L433.3 61.72 L433.8 61.54 L434.3 61.36 L434.8 60.91 L435.3 60.67 L435.8 60.01 L436.3 59.52 L436.8 59.01 L437.3 57.85 L437.8 57.38 L438.3 56.55 L438.8 55.9 L439.3 55.19 L439.8 54.16 L440.3 53.63 L440.8 52.23 L441.3 51.54 L441.8 50.66 L442.3 49.29 L442.8 48.3 L443.3 47.06 L443.8 45.35 L444.3 44.49 L444.8 43.18 L445.3 41.81 L445.8 40.61 L446.3 38.86 L446.8 37.83 L447.3 36.96 L447.8 36.14 L448.3 36.29 L448.8 36.25 L449.3 37.69 L449.8 38.3 L450.3 39.88 L450.8 41.55 L451.3 43.67 L451.8 45.46 L452.3 46.47 L452.8 48.39 L453.3 49.9 L453.8 51.21 L454.3 53.02 L454.8 53.93 L455.3 55.2 L455.8 56.05 L456.3 57.12 L456.8 58.06 L457.3 58.83 L457.8 59.92 L458.3 60.46 L458.8 60.97 L459.3 61.49 L459.8 61.72 L460.3 61.97 L460.8 62.13" fill="none" stroke="#5ac85a" stroke-width="1.1" stroke-linejoin="round" opacity="1"/>
<path d="M422.8 62.09 L423.3 61.96 L423.8 61.8 L424.3 61.62 L424.8 61.4 L425.3 61.1 L425.8 60.53 L426.3 60.22 L426.8 59.62 L427.3 58.95 L427.8 58.35 L428.3 57.42 L428.8 56.78 L429.3 56.02 L429.8 55.53 L430.3 54.8 L430.8 53.85 L431.3 52.67 L431.8 51.71 L432.3 50.81 L432.8 49.61 L433.3 48.72 L433.8 46.93 L434.3 46.05 L434.8 44.78 L435.3 43.3 L435.8 42.6 L436.3 40.95 L436.8 40.19 L437.3 38.75 L437.8 38.59 L438.3 37.74 L438.8 36.99 L439.3 37.34 L439.8 38.02 L440.3 38.61 L440.8 39.91 L441.3 40.77 L441.8 42.31 L442.3 42.8 L442.8 44.5 L443.3 45.26 L443.8 46.73 L444.3 47.91 L444.8 49.07 L445.3 50.56 L445.8 51.21 L446.3 52.55 L446.8 53.17 L447.3 54.13 L447.8 55.04 L448.3 55.76 L448.8 56.66 L449.3 57.2 L449.8 57.69 L450.3 58.77 L450.8 59.5 L451.3 60 L451.8 60.47 L452.3 60.97 L452.8 61.29 L453.3 61.44 L453.8 61.74 L454.3 61.9 L454.8 62.04 L455.3 62.15" fill="none" stroke="#4a86d4" stroke-width="1.1" stroke-linejoin="round" opacity="1"/>
<path d="M419.8 62.11 L420.3 61.95 L420.8 61.79 L421.3 61.51 L421.8 61.05 L422.3 60.66 L422.8 59.96 L423.3 59.16 L423.8 58.22 L424.3 57.29 L424.8 56.29 L425.3 55.77 L425.8 54.24 L426.3 53.51 L426.8 52.38 L427.3 50.55 L427.8 49.23 L428.3 47.73 L428.8 46.39 L429.3 44.3 L429.8 43.07 L430.3 41.08 L430.8 40 L431.3 38.26 L431.8 36.96 L432.3 36.3 L432.8 35.72 L433.3 36.73 L433.8 37.29 L434.3 38.73 L434.8 40.94 L435.3 42.39 L435.8 44.11 L436.3 46.49 L436.8 47.72 L437.3 49.44 L437.8 51.62 L438.3 52.96 L438.8 54.4 L439.3 55.51 L439.8 56.66 L440.3 57.41 L440.8 58.59 L441.3 59.59 L441.8 60.34 L442.3 60.97 L442.8 61.35 L443.3 61.7 L443.8 61.98 L444.3 62.15" fill="none" stroke="#de4a4c" stroke-width="1.1" stroke-linejoin="round" opacity="1"/>
<path d="M347.3 101.14 L347.8 100.97 L348.3 100.77 L348.8 100.42 L349.3 100.01 L349.8 99.3 L350.3 98.56 L350.8 97.28 L351.3 96.09 L351.8 94.99 L352.3 94.27 L352.8 93.13 L353.3 91.29 L353.8 89.97 L354.3 87.92 L354.8 86.52 L355.3 84.71 L355.8 83 L356.3 80.28 L356.8 78.79 L357.3 77.1 L357.8 75.56 L358.3 74.03 L358.8 73.35 L359.3 74.33 L359.8 75.83 L360.3 77.13 L360.8 78.43 L361.3 80.77 L361.8 82.49 L362.3 84.51 L362.8 86.47 L363.3 88.18 L363.8 90.08 L364.3 91.42 L364.8 92.64 L365.3 94.34 L365.8 95.3 L366.3 96.05 L366.8 97.16 L367.3 98.59 L367.8 99.22 L368.3 99.86 L368.8 100.3 L369.3 100.72 L369.8 100.97 L370.3 101.14" fill="none" stroke="#5ac85a" stroke-width="1.1" stroke-linejoin="round" opacity="1"/>
<path d="M332.8 101.06 L333.3 100.82 L333.8 100.52 L334.3 99.98 L334.8 99.14 L335.3 98.13 L335.8 97.01 L336.3 95.79 L336.8 94.58 L337.3 93.19 L337.8 92.02 L338.3 90.02 L338.8 88.21 L339.3 85.98 L339.8 84.08 L340.3 82.14 L340.8 79.58 L341.3 78.06 L341.8 76 L342.3 75.47 L342.8 75.48 L343.3 76.16 L343.8 77.94 L344.3 78.31 L344.8 79.49 L345.3 78.72 L345.8 79.19 L346.3 77.91 L346.8 77.78 L347.3 78.33 L347.8 79.27 L348.3 80.65 L348.8 82.33 L349.3 84.15 L349.8 85.18 L350.3 86.36 L350.8 86.45 L351.3 87.15 L351.8 87.22 L352.3 87.87 L352.8 88.34 L353.3 90.03 L353.8 91.17 L354.3 92.46 L354.8 94.03 L355.3 95.07 L355.8 96.39 L356.3 97.41 L356.8 98.25 L357.3 98.8 L357.8 99.43 L358.3 100.25 L358.8 100.64 L359.3 100.93 L359.8 101.12" fill="none" stroke="#4a86d4" stroke-width="1.1" stroke-linejoin="round" opacity="1"/>
<path d="M329.8 98.39 L330.3 97.86 L330.8 97.1 L331.3 96.36 L331.8 95.76 L332.3 94.79 L332.8 94.03 L333.3 93.55 L333.8 92.47 L334.3 91.59 L334.8 90.82 L335.3 89.47 L335.8 87.99 L336.3 87.26 L336.8 85.83 L337.3 84.48 L337.8 83.77 L338.3 81.78 L338.8 81.29 L339.3 79.95 L339.8 78.46 L340.3 78.15 L340.8 76.97 L341.3 76.59 L341.8 75.93 L342.3 77.17 L342.8 78.57 L343.3 80.43 L343.8 82.69 L344.3 84.9 L344.8 87 L345.3 88.86 L345.8 91.05 L346.3 92.38 L346.8 94.17 L347.3 95.6 L347.8 96.74 L348.3 97.81 L348.8 99.2 L349.3 99.81 L349.8 100.52 L350.3 100.83 L350.8 101.08" fill="none" stroke="#de4a4c" stroke-width="1.1" stroke-linejoin="round" opacity="1"/>
<path d="M434.8 101.11 L435.3 100.92 L435.8 100.57 L436.3 100.29 L436.8 99.73 L437.3 98.97 L437.8 98.33 L438.3 97.23 L438.8 95.87 L439.3 94.89 L439.8 93.65 L440.3 92.59 L440.8 91.01 L441.3 89.63 L441.8 87.73 L442.3 86.02 L442.8 83.86 L443.3 82.14 L443.8 80.21 L444.3 77.96 L444.8 76.77 L445.3 74.54 L445.8 73.74 L446.3 73.65 L446.8 74.86 L447.3 76.26 L447.8 78.47 L448.3 80.68 L448.8 83.45 L449.3 85.82 L449.8 87.75 L450.3 90.3 L450.8 91.75 L451.3 93.49 L451.8 94.91 L452.3 96.18 L452.8 97.96 L453.3 98.94 L453.8 99.84 L454.3 100.51 L454.8 100.85 L455.3 101.1" fill="none" stroke="#5ac85a" stroke-width="1.1" stroke-linejoin="round" opacity="1"/>
<path d="M425.8 101.11 L426.3 101 L426.8 100.84 L427.3 100.57 L427.8 100.38 L428.3 100.05 L428.8 99.74 L429.3 99.43 L429.8 98.66 L430.3 98.25 L430.8 97.47 L431.3 96.65 L431.8 96.23 L432.3 95.44 L432.8 94.58 L433.3 94.12 L433.8 92.95 L434.3 92.36 L434.8 91.15 L435.3 90 L435.8 88.87 L436.3 88.19 L436.8 86.91 L437.3 85.1 L437.8 84.33 L438.3 83.08 L438.8 81.92 L439.3 80.46 L439.8 79.31 L440.3 78.38 L440.8 77.73 L441.3 76.86 L441.8 76.46 L442.3 76.91 L442.8 76.89 L443.3 77.93 L443.8 79.38 L444.3 80.6 L444.8 82.56 L445.3 83.78 L445.8 85.8 L446.3 86.91 L446.8 88.4 L447.3 89.64 L447.8 91.03 L448.3 92.22 L448.8 93.69 L449.3 94.43 L449.8 95.5 L450.3 96.39 L450.8 97.09 L451.3 97.92 L451.8 98.72 L452.3 99.38 L452.8 99.94 L453.3 100.44 L453.8 100.73 L454.3 100.9 L454.8 101.07" fill="none" stroke="#4a86d4" stroke-width="1.1" stroke-linejoin="round" opacity="1"/>
<path d="M419.3 101.13 L419.8 101.02 L420.3 100.88 L420.8 100.68 L421.3 100.52 L421.8 100.21 L422.3 99.93 L422.8 99.5 L423.3 98.82 L423.8 98.37 L424.3 97.4 L424.8 96.89 L425.3 96.06 L425.8 95.66 L426.3 94.96 L426.8 94.12 L427.3 93.49 L427.8 92.35 L428.3 91.41 L428.8 90.63 L429.3 88.97 L429.8 88.18 L430.3 87.3 L430.8 85.35 L431.3 84.71 L431.8 83.47 L432.3 82.46 L432.8 81.23 L433.3 79.55 L433.8 78.64 L434.3 77.8 L434.8 77.3 L435.3 76.75 L435.8 76.02 L436.3 77.15 L436.8 77.38 L437.3 78.52 L437.8 80.41 L438.3 81.02 L438.8 83.08 L439.3 83.85 L439.8 85.14 L440.3 86.58 L440.8 88 L441.3 89.08 L441.8 90.72 L442.3 91.6 L442.8 92.82 L443.3 93.71 L443.8 94.71 L444.3 95.27 L444.8 96.09 L445.3 96.67 L445.8 97.54 L446.3 98.35 L446.8 98.92 L447.3 99.5 L447.8 100 L448.3 100.4 L448.8 100.57 L449.3 100.85 L449.8 101.02 L450.3 101.14" fill="none" stroke="#de4a4c" stroke-width="1.1" stroke-linejoin="round" opacity="1"/>
<path d="M357.8 138.11 L358.3 138.02 L358.8 137.91 L359.3 137.79 L359.8 137.68 L360.3 137.45 L360.8 137.15 L361.3 136.82 L361.8 136.56 L362.3 136.18 L362.8 135.66 L363.3 135.2 L363.8 134.74 L364.3 134.34 L364.8 133.78 L365.3 133.51 L365.8 133.1 L366.3 132.32 L366.8 131.65 L367.3 131.33 L367.8 130.44 L368.3 129.63 L368.8 129.36 L369.3 128.61 L369.8 127.6 L370.3 126.9 L370.8 125.64 L371.3 124.75 L371.8 124.3 L372.3 123.17 L372.8 122.44 L373.3 121.97 L373.8 120.5 L374.3 120.4 L374.8 119.77 L375.3 118.79 L375.8 118.61 L376.3 117.75 L376.8 117.52 L377.3 117.22 L377.8 118.61 L378.3 119.44 L378.8 120.74 L379.3 121.83 L379.8 122.43 L380.3 121.93 L380.8 120.84 L381.3 120.06 L381.8 120.19 L382.3 121.68 L382.8 123.3 L383.3 124.04 L383.8 123.74 L384.3 123.37 L384.8 121.78 L385.3 120.49 L385.8 119.15 L386.3 118.74 L386.8 119.3 L387.3 120.39 L387.8 122.25 L388.3 123.93 L388.8 125.93 L389.3 127.93 L389.8 129.63 L390.3 131.46 L390.8 132.6 L391.3 133.8 L391.8 134.62 L392.3 135.93 L392.8 136.68 L393.3 137.35 L393.8 137.75 L394.3 138.03 L394.8 138.2" fill="none" stroke="#5ac85a" stroke-width="1.1" stroke-linejoin="round" opacity="1"/>
<path d="M357.8 138.1 L358.3 137.94 L358.8 137.75 L359.3 137.52 L359.8 137.03 L360.3 136.53 L360.8 135.97 L361.3 135.37 L361.8 134.26 L362.3 133.36 L362.8 132.5 L363.3 131.71 L363.8 131.11 L364.3 129.56 L364.8 128.5 L365.3 127.48 L365.8 125.69 L366.3 124.32 L366.8 122.77 L367.3 121.78 L367.8 119.99 L368.3 118.68 L368.8 117.36 L369.3 115.64 L369.8 114.69 L370.3 114.17 L370.8 113.71 L371.3 114.2 L371.8 115.99 L372.3 117.44 L372.8 119.7 L373.3 121.37 L373.8 124.13 L374.3 125.72 L374.8 127.44 L375.3 128.94 L375.8 130.19 L376.3 131.46 L376.8 132.22 L377.3 132.37 L377.8 132.4 L378.3 131.94 L378.8 131.35 L379.3 131.46 L379.8 131.1 L380.3 130.93 L380.8 131.62 L381.3 131.57 L381.8 132.34 L382.3 132.46 L382.8 132.84 L383.3 133.54 L383.8 133.92 L384.3 134.42 L384.8 134.65 L385.3 135.11 L385.8 135.46 L386.3 135.89 L386.8 136.13 L387.3 136.32 L387.8 136.63 L388.3 136.82 L388.8 137.23 L389.3 137.44 L389.8 137.67 L390.3 137.83 L390.8 137.96 L391.3 138.07" fill="none" stroke="#4a86d4" stroke-width="1.1" stroke-linejoin="round" opacity="1"/>
<path d="M329.8 138.08 L330.3 137.93 L330.8 137.76 L331.3 137.42 L331.8 137.21 L332.3 136.7 L332.8 136.1 L333.3 135.36 L333.8 135 L334.3 134.32 L334.8 133.58 L335.3 132.64 L335.8 132.2 L336.3 130.97 L336.8 130.25 L337.3 129.14 L337.8 127.81 L338.3 127.24 L338.8 125.9 L339.3 124.86 L339.8 123.72 L340.3 122.48 L340.8 121.12 L341.3 120.3 L341.8 119.98 L342.3 118.96 L342.8 119.43 L343.3 120.36 L343.8 120.63 L344.3 121.63 L344.8 123.21 L345.3 123.8 L345.8 125.09 L346.3 126.67 L346.8 127.96 L347.3 128.51 L347.8 129.6 L348.3 130.99 L348.8 131.55 L349.3 132.39 L349.8 133.23 L350.3 133.84 L350.8 134.4 L351.3 135.26 L351.8 135.82 L352.3 136.4 L352.8 137.03 L353.3 137.32 L353.8 137.61 L354.3 137.86 L354.8 138.02 L355.3 138.14" fill="none" stroke="#de4a4c" stroke-width="1.1" stroke-linejoin="round" opacity="1"/>
<path d="M429.8 138.08 L430.3 137.96 L430.8 137.81 L431.3 137.57 L431.8 137.39 L432.3 137.17 L432.8 136.84 L433.3 136.35 L433.8 135.98 L434.3 135.15 L434.8 134.55 L435.3 134.32 L435.8 133.61 L436.3 133.03 L436.8 132.67 L437.3 131.66 L437.8 130.93 L438.3 130.41 L438.8 129.71 L439.3 128.74 L439.8 127.51 L440.3 126.77 L440.8 125.56 L441.3 125.05 L441.8 124.11 L442.3 122.95 L442.8 121.58 L443.3 121.27 L443.8 120.52 L444.3 119.21 L444.8 119.19 L445.3 118.26 L445.8 118.8 L446.3 119.47 L446.8 120.34 L447.3 121.65 L447.8 123.62 L448.3 125.23 L448.8 127.13 L449.3 128.45 L449.8 129.93 L450.3 130.89 L450.8 131.97 L451.3 132.65 L451.8 133.05 L452.3 132.95 L452.8 133.11 L453.3 133.14 L453.8 133.65 L454.3 134.26 L454.8 134.74 L455.3 135.56 L455.8 136.1 L456.3 136.62 L456.8 136.9 L457.3 137.31 L457.8 137.71 L458.3 137.98 L458.8 138.14" fill="none" stroke="#5ac85a" stroke-width="1.1" stroke-linejoin="round" opacity="1"/>
<path d="M427.8 138.1 L428.3 137.94 L428.8 137.74 L429.3 137.35 L429.8 136.96 L430.3 136.58 L430.8 135.93 L431.3 135.05 L431.8 134.32 L432.3 133.53 L432.8 132.81 L433.3 131.71 L433.8 130.56 L434.3 129.81 L434.8 128.45 L435.3 126.79 L435.8 125.75 L436.3 124.37 L436.8 122.5 L437.3 120.91 L437.8 119.79 L438.3 118.51 L438.8 116.61 L439.3 115.2 L439.8 113.91 L440.3 113.35 L440.8 113.46 L441.3 114.43 L441.8 116.55 L442.3 118.69 L442.8 121.12 L443.3 123.22 L443.8 125.55 L444.3 127.63 L444.8 129.66 L445.3 130.7 L445.8 131.93 L446.3 131.89 L446.8 132.08 L447.3 131.82 L447.8 132.12 L448.3 132.13 L448.8 133 L449.3 133.09 L449.8 133.62 L450.3 134.32 L450.8 134.66 L451.3 135.36 L451.8 135.63 L452.3 136.13 L452.8 136.51 L453.3 136.88 L453.8 137.01 L454.3 137.32 L454.8 137.72 L455.3 137.87 L455.8 138.02 L456.3 138.13" fill="none" stroke="#4a86d4" stroke-width="1.1" stroke-linejoin="round" opacity="1"/>
<path d="M422.3 138.12 L422.8 138.02 L423.3 137.9 L423.8 137.66 L424.3 137.58 L424.8 137.31 L425.3 137 L425.8 136.6 L426.3 136.06 L426.8 135.51 L427.3 134.98 L427.8 134.64 L428.3 134.27 L428.8 133.76 L429.3 132.98 L429.8 132.32 L430.3 131.71 L430.8 130.7 L431.3 130.24 L431.8 129.46 L432.3 128.57 L432.8 127.85 L433.3 126.42 L433.8 125.72 L434.3 124.81 L434.8 123.96 L435.3 123.18 L435.8 122.25 L436.3 121.29 L436.8 120.59 L437.3 119.5 L437.8 119.38 L438.3 119.46 L438.8 120.01 L439.3 120.73 L439.8 121.64 L440.3 122.51 L440.8 123.74 L441.3 125.57 L441.8 126.52 L442.3 128.05 L442.8 129.23 L443.3 130.4 L443.8 131.72 L444.3 132.67 L444.8 133.26 L445.3 134.03 L445.8 134.83 L446.3 135.43 L446.8 136.22 L447.3 136.93 L447.8 137.41 L448.3 137.65 L448.8 137.9 L449.3 138.07" fill="none" stroke="#de4a4c" stroke-width="1.1" stroke-linejoin="round" opacity="1"/>
<path d="M358.3 186.2 L358.8 186.03 L359.3 185.75 L359.8 185.48 L360.3 185.06 L360.8 184.32 L361.3 183.66 L361.8 182.37 L362.3 181.52 L362.8 180.77 L363.3 179.65 L363.8 178.6 L364.3 177.35 L364.8 175.96 L365.3 174 L365.8 172.64 L366.3 170.75 L366.8 169.33 L367.3 167.23 L367.8 165.78 L368.3 164.23 L368.8 163.23 L369.3 162.18 L369.8 162.43 L370.3 162.45 L370.8 163.94 L371.3 165.53 L371.8 167.04 L372.3 169.19 L372.8 170.71 L373.3 172.48 L373.8 173.66 L374.3 175.77 L374.8 176.92 L375.3 177.99 L375.8 179.25 L376.3 180.35 L376.8 181.49 L377.3 182.33 L377.8 183.25 L378.3 184.23 L378.8 184.78 L379.3 185.37 L379.8 185.67 L380.3 185.98 L380.8 186.17" fill="none" stroke="#5ac85a" stroke-width="1.1" stroke-linejoin="round" opacity="1"/>
<path d="M357.8 186.28 L358.3 186.14 L358.8 185.93 L359.3 185.62 L359.8 185.17 L360.3 184.57 L360.8 184.03 L361.3 182.9 L361.8 182.22 L362.3 180.99 L362.8 180.42 L363.3 179.06 L363.8 177.91 L364.3 176.32 L364.8 175.14 L365.3 173.64 L365.8 171.54 L366.3 170 L366.8 168.08 L367.3 166.6 L367.8 165.42 L368.3 163.3 L368.8 162.7 L369.3 161.77 L369.8 162.57 L370.3 163.3 L370.8 164.24 L371.3 165.7 L371.8 167.49 L372.3 169.39 L372.8 170.89 L373.3 172.65 L373.8 174.59 L374.3 175.89 L374.8 177.26 L375.3 178.47 L375.8 179.91 L376.3 180.87 L376.8 181.76 L377.3 182.8 L377.8 183.7 L378.3 184.37 L378.8 185.02 L379.3 185.55 L379.8 185.79 L380.3 186.06 L380.8 186.23" fill="none" stroke="#4a86d4" stroke-width="1.1" stroke-linejoin="round" opacity="1"/>
<path d="M334.8 186.18 L335.3 186.04 L335.8 185.9 L336.3 185.55 L336.8 185.36 L337.3 184.98 L337.8 184.46 L338.3 183.77 L338.8 183.12 L339.3 181.98 L339.8 181.2 L340.3 180.77 L340.8 179.73 L341.3 178.86 L341.8 177.95 L342.3 177.08 L342.8 175.5 L343.3 174.27 L343.8 173.65 L344.3 172.09 L344.8 170.71 L345.3 169.4 L345.8 167.78 L346.3 165.95 L346.8 165.37 L347.3 163.31 L347.8 162.64 L348.3 161.94 L348.8 160.28 L349.3 160.53 L349.8 161.16 L350.3 162.38 L350.8 163.58 L351.3 165.47 L351.8 167.19 L352.3 168.95 L352.8 170.51 L353.3 172.39 L353.8 174.18 L354.3 175.61 L354.8 176.92 L355.3 178.29 L355.8 179.69 L356.3 180.47 L356.8 181.47 L357.3 182.64 L357.8 183.69 L358.3 184.51 L358.8 185.15 L359.3 185.44 L359.8 185.83 L360.3 186.08 L360.8 186.25" fill="none" stroke="#de4a4c" stroke-width="1.1" stroke-linejoin="round" opacity="1"/>
<path d="M442.8 186.19 L443.3 186.04 L443.8 185.91 L444.3 185.53 L444.8 185.21 L445.3 185.01 L445.8 184.35 L446.3 183.88 L446.8 183.05 L447.3 182.03 L447.8 181.51 L448.3 180.71 L448.8 179.82 L449.3 179.19 L449.8 177.98 L450.3 177.05 L450.8 175.56 L451.3 174.89 L451.8 173.25 L452.3 172.42 L452.8 170.87 L453.3 169.6 L453.8 168.16 L454.3 166.43 L454.8 165.39 L455.3 163.53 L455.8 163.03 L456.3 161.52 L456.8 160.52 L457.3 160.88 L457.8 161.13 L458.3 161.27 L458.8 162.47 L459.3 163.09 L459.8 164.83 L460.3 166.03 L460.8 166.84 L461.3 168.7 L461.8 169.52 L462.3 170.91 L462.8 172.71 L463.3 173.69 L463.8 174.6 L464.3 176.27 L464.8 176.86 L465.3 177.89 L465.8 178.83 L466.3 179.75 L466.8 180.76 L467.3 181.06 L467.8 182.07 L468.3 182.63 L468.8 183.42 L469.3 184.17 L469.8 184.58 L470.3 185.08 L470.8 185.35 L471.3 185.75 L471.8 185.83 L472.3 186.06 L472.8 186.19" fill="none" stroke="#5ac85a" stroke-width="1.1" stroke-linejoin="round" opacity="1"/>
<path d="M442.3 186.25 L442.8 186.13 L443.3 185.97 L443.8 185.77 L444.3 185.42 L444.8 185.14 L445.3 184.62 L445.8 184.22 L446.3 183.48 L446.8 182.88 L447.3 181.81 L447.8 181.31 L448.3 180.18 L448.8 179.41 L449.3 178.62 L449.8 177.29 L450.3 176.2 L450.8 175.01 L451.3 174.37 L451.8 172.62 L452.3 171.23 L452.8 169.92 L453.3 168.99 L453.8 166.78 L454.3 165.8 L454.8 164.31 L455.3 162.84 L455.8 162.25 L456.3 161.58 L456.8 160.04 L457.3 160.62 L457.8 161.42 L458.3 162.19 L458.8 162.43 L459.3 163.91 L459.8 165.74 L460.3 167.18 L460.8 167.95 L461.3 169.59 L461.8 171.06 L462.3 172.78 L462.8 173.88 L463.3 174.77 L463.8 176.57 L464.3 177.41 L464.8 178.64 L465.3 179.06 L465.8 180.39 L466.3 180.76 L466.8 181.52 L467.3 182.42 L467.8 183.51 L468.3 183.98 L468.8 184.6 L469.3 185.06 L469.8 185.49 L470.3 185.7 L470.8 185.93 L471.3 186.1 L471.8 186.23" fill="none" stroke="#4a86d4" stroke-width="1.1" stroke-linejoin="round" opacity="1"/>
<path d="M426.3 186.17 L426.8 186.03 L427.3 185.8 L427.8 185.67 L428.3 185.21 L428.8 184.92 L429.3 184.49 L429.8 183.91 L430.3 183.12 L430.8 182.18 L431.3 181.58 L431.8 180.73 L432.3 180.14 L432.8 179.29 L433.3 178.1 L433.8 177.55 L434.3 176.61 L434.8 175.28 L435.3 174.09 L435.8 172.98 L436.3 171.46 L436.8 170.45 L437.3 168.39 L437.8 167.44 L438.3 165.82 L438.8 164.79 L439.3 163.69 L439.8 162.76 L440.3 162.55 L440.8 161.91 L441.3 162.96 L441.8 163.54 L442.3 164.66 L442.8 165.82 L443.3 167.78 L443.8 169.1 L444.3 170.21 L444.8 171.72 L445.3 173.05 L445.8 175.04 L446.3 176.27 L446.8 177.54 L447.3 178.3 L447.8 179.32 L448.3 180.31 L448.8 181.1 L449.3 181.96 L449.8 182.82 L450.3 183.56 L450.8 184.34 L451.3 184.89 L451.8 185.33 L452.3 185.68 L452.8 185.93 L453.3 186.12 L453.8 186.25" fill="none" stroke="#de4a4c" stroke-width="1.1" stroke-linejoin="round" opacity="1"/>
<line x1="325.6" y1="34.9" x2="325.6" y2="194.8" stroke="#111" stroke-width="1.3"/>
<polygon points="325.6,29 322.4,35.4 328.8,35.4" fill="#111"/>
<line x1="325" y1="194.4" x2="402.3" y2="194.4" stroke="#111" stroke-width="1.3"/>
<polygon points="408.2,194.4 401.8,191.4 401.8,197.4" fill="#111"/>
<line x1="416.6" y1="193.9" x2="494.1" y2="193.9" stroke="#111" stroke-width="1.3"/>
<polygon points="500,193.9 493.6,190.9 493.6,196.9" fill="#111"/>
<text x="370.8" y="204.6" font-size="8.2" text-anchor="middle" font-weight="normal" fill="#222" stroke="#222" stroke-width="0.22">p-PLCγ2</text>
<text x="460.9" y="205.4" font-size="8.2" text-anchor="middle" font-weight="normal" fill="#222" stroke="#222" stroke-width="0.22">p-AKT</text>
<text x="322.8" y="112.8" font-size="9.2" text-anchor="middle" font-weight="normal" fill="#222" stroke="#222" stroke-width="0.22" transform="rotate(-90 322.8 112.8)">Cell number</text>
<line x1="503.2" y1="29.7" x2="503.2" y2="137" stroke="#555" stroke-width="1.6"/>
<line x1="503.2" y1="152.9" x2="503.2" y2="189" stroke="#555" stroke-width="1.6"/>
<text x="515" y="87.7" font-size="9.6" text-anchor="middle" font-weight="normal" fill="#222" stroke="#222" stroke-width="0.22" transform="rotate(-90 515 87.7)">Sensitive</text>
<text x="515" y="173" font-size="9.6" text-anchor="middle" font-weight="normal" fill="#222" stroke="#222" stroke-width="0.22" transform="rotate(-90 515 173)">Resistant</text>
<text x="1" y="355.2" font-size="17.5" text-anchor="start" font-weight="bold" fill="#000">C</text>
<text x="55" y="352.6" font-size="9.1" text-anchor="start" font-weight="normal" fill="#222" stroke="#222" stroke-width="0.22">PLCγ2&#160;&#160;gene silencing</text>
<line x1="55" y1="354.3" x2="145.8" y2="354.3" stroke="#333" stroke-width="0.8"/>
<text x="60.6" y="363.9" font-size="8.4" text-anchor="middle" font-weight="normal" fill="#222" stroke="#222" stroke-width="0.22">LY18</text>
<line x1="38.8" y1="367.6" x2="81.2" y2="367.6" stroke="#222" stroke-width="1.2"/>
<text x="46.8" y="379" font-size="8.4" text-anchor="middle" font-weight="normal" fill="#444" stroke="#444" stroke-width="0.22">–</text>
<text x="73.8" y="379" font-size="8.4" text-anchor="middle" font-weight="normal" fill="#444" stroke="#444" stroke-width="0.22">+</text>
<text x="144.6" y="363.9" font-size="8.4" text-anchor="middle" font-weight="normal" fill="#222" stroke="#222" stroke-width="0.22">LY4</text>
<line x1="123.8" y1="367.6" x2="165.5" y2="367.6" stroke="#222" stroke-width="1.2"/>
<text x="130" y="379" font-size="8.4" text-anchor="middle" font-weight="normal" fill="#444" stroke="#444" stroke-width="0.22">–</text>
<text x="157" y="379" font-size="8.4" text-anchor="middle" font-weight="normal" fill="#444" stroke="#444" stroke-width="0.22">+</text>
<text x="176.3" y="377.6" font-size="8.2" text-anchor="start" font-weight="normal" fill="#222" stroke="#222" stroke-width="0.22">PLCγ2&#160;&#160;siRNA</text>
<text x="177" y="392.6" font-size="8.2" text-anchor="start" font-weight="normal" fill="#222" stroke="#222" stroke-width="0.22">PLCγ2</text>
<text x="177" y="412.3" font-size="8.2" text-anchor="start" font-weight="normal" fill="#222" stroke="#222" stroke-width="0.22">GAPDH</text>
<text x="317.5" y="354.4" font-size="9.1" text-anchor="start" font-weight="normal" fill="#222" stroke="#222" stroke-width="0.22">AKT gene silencing</text>
<line x1="317.5" y1="356" x2="396.3" y2="356" stroke="#333" stroke-width="0.8"/>
<text x="232.5" y="372" font-size="9.1" text-anchor="start" font-weight="normal" fill="#222" stroke="#222" stroke-width="0.22">RT-bcr/abl CML</text>
<text x="311.3" y="365" font-size="8.4" text-anchor="middle" font-weight="normal" fill="#222" stroke="#222" stroke-width="0.22">LY18</text>
<line x1="296.3" y1="369.5" x2="328.8" y2="369.5" stroke="#222" stroke-width="1.2"/>
<text x="299.3" y="380" font-size="8.4" text-anchor="middle" font-weight="normal" fill="#444" stroke="#444" stroke-width="0.22">–</text>
<text x="326.3" y="380" font-size="8.4" text-anchor="middle" font-weight="normal" fill="#444" stroke="#444" stroke-width="0.22">+</text>
<text x="395.9" y="364.8" font-size="8.4" text-anchor="middle" font-weight="normal" fill="#222" stroke="#222" stroke-width="0.22">LY4</text>
<line x1="381.8" y1="369.5" x2="415" y2="369.5" stroke="#222" stroke-width="1.2"/>
<text x="385" y="380" font-size="8.4" text-anchor="middle" font-weight="normal" fill="#444" stroke="#444" stroke-width="0.22">–</text>
<text x="411.3" y="380" font-size="8.4" text-anchor="middle" font-weight="normal" fill="#444" stroke="#444" stroke-width="0.22">+</text>
<text x="430.6" y="378.2" font-size="8.2" text-anchor="start" font-weight="normal" fill="#222" stroke="#222" stroke-width="0.22">AKT siRNA</text>
<text x="430.6" y="393" font-size="8.2" text-anchor="start" font-weight="normal" fill="#222" stroke="#222" stroke-width="0.22">AKT</text>
<text x="430.6" y="412.2" font-size="8.2" text-anchor="start" font-weight="normal" fill="#222" stroke="#222" stroke-width="0.22">GAPDH</text>
<rect x="30.5" y="380.5" width="59" height="16.2" fill="url(#bgg)" stroke="#3c3c3c" stroke-width="1"/>
<polygon points="33,385.3 40,385.9 52,386.1 58.5,385.5 58.5,391.5 52,390.9 40,390.9 33,391.3" fill="#050505" filter="url(#bl)"/>
<polygon points="62.5,387.3 74,387.6 86.5,387.3 86.5,389.9 74,389.6 62.5,389.9" fill="#767676" filter="url(#bl)"/>
<rect x="30.5" y="400.5" width="59" height="17.3" fill="url(#bgg)" stroke="#3c3c3c" stroke-width="1"/>
<polygon points="31,404.3 57,404.4 60,405 89,404.7 89,411.3 60,411.4 57,412 31,411.7" fill="#060606" filter="url(#bl)"/>
<rect x="116" y="380.9" width="58" height="15.8" fill="url(#bgg)" stroke="#3c3c3c" stroke-width="1"/>
<polygon points="118,386.5 130,386.8 143.6,386.2 143.6,391.2 130,390.6 118,390.9" fill="#080808" filter="url(#bl)"/>
<polygon points="148.4,387.3 160,387.7 172.2,387.3 172.2,390.3 160,389.9 148.4,390.3" fill="#686868" filter="url(#bl)"/>
<rect x="116" y="401.3" width="58" height="16.5" fill="url(#bgg)" stroke="#3c3c3c" stroke-width="1"/>
<polygon points="116.5,405.3 146,405.1 147,405.8 173.5,405.1 173.5,413.3 147,413 146,413.3 116.5,413.1" fill="#060606" filter="url(#bl)"/>
<rect x="282" y="380.9" width="58.7" height="15.8" fill="url(#bgg)" stroke="#3c3c3c" stroke-width="1"/>
<polygon points="283.7,386.1 296,386.5 309.7,386.3 309.7,391.1 296,391.1 283.7,391.7" fill="#080808" filter="url(#bl)"/>
<polygon points="312,388.1 326,387.6 340,385.8 340,389.2 326,390.4 312,391.1" fill="url(#fg1)" filter="url(#bl)"/>
<rect x="282" y="401.7" width="58.7" height="16.1" fill="url(#bgg)" stroke="#3c3c3c" stroke-width="1"/>
<polygon points="282.5,406.9 310,407.4 313,408.3 340.2,404 340.2,410.4 313,414.9 310,414.2 282.5,413.9" fill="#060606" filter="url(#bl)"/>
<rect x="368.7" y="380.9" width="58.8" height="15.8" fill="url(#bgg)" stroke="#3c3c3c" stroke-width="1"/>
<polygon points="369,386.9 382,387.2 395.6,386.9 395.6,392.3 382,392.2 369,392.7" fill="#080808" filter="url(#bl)"/>
<polygon points="397.5,387.8 410,387.4 426,384.8 426,388.2 410,390.6 397.5,391.8" fill="url(#fg2)" filter="url(#bl)"/>
<rect x="368.7" y="401.7" width="58.8" height="16.1" fill="url(#bgg)" stroke="#3c3c3c" stroke-width="1"/>
<polygon points="369,408.1 398,408.3 401,404.75 404,408.6 426.5,406.8 426.5,412.4 404,414.6 401,414.25 398,414.5 369,414.7" fill="#060606" filter="url(#bl)"/>
<line x1="41.3" y1="435" x2="53" y2="435" stroke="#111" stroke-width="1.1"/>
<circle cx="47.15" cy="435" r="1.92" fill="none" stroke="#111" stroke-width="0.8"/>
<text x="56.3" y="437.9" font-size="8.2" text-anchor="start" font-weight="normal" fill="#222" stroke="#222" stroke-width="0.22">Non-targeting siRNAs</text>
<line x1="149.5" y1="435.5" x2="163" y2="435.5" stroke="#111" stroke-width="1.1"/>
<rect x="154.09" y="433.34" width="4.32" height="4.32" fill="#111" stroke="none" stroke-width="1"/>
<text x="165.8" y="438.4" font-size="8.2" text-anchor="start" font-weight="normal" fill="#222" stroke="#222" stroke-width="0.22">PLCγ2 siRNAs</text>
<line x1="73.8" y1="446.3" x2="88.8" y2="446.3" stroke="#111" stroke-width="1.1"/>
<polygon points="81.3,442.12 77.5,448.96 85.1,448.96" fill="#111"/>
<text x="91.3" y="449.1" font-size="8.2" text-anchor="start" font-weight="normal" fill="#222" stroke="#222" stroke-width="0.22">PLCγ2 siRNAs + PRT318</text>
<line x1="28.3" y1="455.3" x2="28.3" y2="555.2" stroke="#111" stroke-width="1.6"/>
<polygon points="28.3,448.8 25.1,455.8 31.5,455.8" fill="#111"/>
<line x1="27.5" y1="554.8" x2="220" y2="554.8" stroke="#111" stroke-width="1.6"/>
<polygon points="226.5,554.8 219.5,551.6 219.5,558" fill="#111"/>
<text x="21.6" y="500.6" font-size="9.1" text-anchor="middle" font-weight="normal" fill="#222" stroke="#222" stroke-width="0.22" transform="rotate(-90 21.6 500.6)">Fold increase in cell number</text>
<text x="112.5" y="565.2" font-size="9.1" text-anchor="start" font-weight="normal" fill="#222" stroke="#222" stroke-width="0.22">Time (hrs)</text>
<line x1="40.4" y1="455" x2="40.4" y2="544" stroke="#606060" stroke-width="1"/>
<line x1="37.5" y1="542" x2="128.3" y2="542" stroke="#555" stroke-width="1"/>
<line x1="66.25" y1="542" x2="66.25" y2="544" stroke="#444" stroke-width="0.8"/>
<line x1="93.25" y1="542" x2="93.25" y2="544" stroke="#444" stroke-width="0.8"/>
<line x1="120" y1="542" x2="120" y2="544" stroke="#444" stroke-width="0.8"/>
<text x="36.3" y="552.4" font-size="8.2" text-anchor="middle" font-weight="normal" fill="#222" stroke="#222" stroke-width="0.22">0</text>
<text x="66.25" y="552.4" font-size="8.2" text-anchor="middle" font-weight="normal" fill="#222" stroke="#222" stroke-width="0.22">24</text>
<text x="93.25" y="552.4" font-size="8.2" text-anchor="middle" font-weight="normal" fill="#222" stroke="#222" stroke-width="0.22">48</text>
<text x="120" y="552.4" font-size="8.2" text-anchor="middle" font-weight="normal" fill="#222" stroke="#222" stroke-width="0.22">72</text>
<line x1="38" y1="488" x2="40" y2="488" stroke="#444" stroke-width="0.8"/>
<text x="36.6" y="491" font-size="8.2" text-anchor="end" font-weight="normal" fill="#222" stroke="#222" stroke-width="0.22">10</text>
<text x="43.8" y="469.6" font-size="9.2" text-anchor="start" font-weight="normal" fill="#222" stroke="#222" stroke-width="0.22">LY18</text>
<line x1="136.2" y1="456.3" x2="136.2" y2="544" stroke="#606060" stroke-width="1"/>
<line x1="133.3" y1="542" x2="223.8" y2="542" stroke="#555" stroke-width="1"/>
<line x1="161.75" y1="542" x2="161.75" y2="544" stroke="#444" stroke-width="0.8"/>
<line x1="187.5" y1="542" x2="187.5" y2="544" stroke="#444" stroke-width="0.8"/>
<line x1="215" y1="542" x2="215" y2="544" stroke="#444" stroke-width="0.8"/>
<text x="132.4" y="551.8" font-size="8.2" text-anchor="middle" font-weight="normal" fill="#222" stroke="#222" stroke-width="0.22">0</text>
<text x="161.75" y="551.8" font-size="8.2" text-anchor="middle" font-weight="normal" fill="#222" stroke="#222" stroke-width="0.22">24</text>
<text x="187.5" y="551.8" font-size="8.2" text-anchor="middle" font-weight="normal" fill="#222" stroke="#222" stroke-width="0.22">48</text>
<text x="215" y="551.8" font-size="8.2" text-anchor="middle" font-weight="normal" fill="#222" stroke="#222" stroke-width="0.22">72</text>
<line x1="133.8" y1="477" x2="135.8" y2="477" stroke="#444" stroke-width="0.8"/>
<text x="133.4" y="480" font-size="8.2" text-anchor="end" font-weight="normal" fill="#222" stroke="#222" stroke-width="0.22">5</text>
<text x="139.5" y="470.2" font-size="9.2" text-anchor="start" font-weight="normal" fill="#222" stroke="#222" stroke-width="0.22">LY4</text>
<line x1="66.25" y1="525" x2="66.25" y2="538.75" stroke="#111" stroke-width="0.9"/>
<line x1="64.65" y1="525" x2="67.85" y2="525" stroke="#111" stroke-width="0.9"/>
<line x1="64.65" y1="538.75" x2="67.85" y2="538.75" stroke="#111" stroke-width="0.9"/>
<line x1="93.25" y1="509.5" x2="93.25" y2="522" stroke="#111" stroke-width="0.9"/>
<line x1="91.65" y1="509.5" x2="94.85" y2="509.5" stroke="#111" stroke-width="0.9"/>
<line x1="91.65" y1="522" x2="94.85" y2="522" stroke="#111" stroke-width="0.9"/>
<line x1="120" y1="458" x2="120" y2="485.5" stroke="#111" stroke-width="0.9"/>
<line x1="118.4" y1="458" x2="121.6" y2="458" stroke="#111" stroke-width="0.9"/>
<line x1="118.4" y1="485.5" x2="121.6" y2="485.5" stroke="#111" stroke-width="0.9"/>
<line x1="120" y1="511.25" x2="120" y2="525" stroke="#111" stroke-width="0.9"/>
<line x1="118.4" y1="511.25" x2="121.6" y2="511.25" stroke="#111" stroke-width="0.9"/>
<line x1="118.4" y1="525" x2="121.6" y2="525" stroke="#111" stroke-width="0.9"/>
<line x1="93.25" y1="531.5" x2="93.25" y2="536" stroke="#111" stroke-width="0.9"/>
<line x1="91.65" y1="531.5" x2="94.85" y2="531.5" stroke="#111" stroke-width="0.9"/>
<line x1="91.65" y1="536" x2="94.85" y2="536" stroke="#111" stroke-width="0.9"/>
<path d="M40 537 L66.25 538.75 L93.25 538 L120 536.25" fill="none" stroke="#111" stroke-width="0.9"/>
<polygon points="40,534.8 38,538.4 42,538.4" fill="#111"/>
<polygon points="66.25,536.55 64.25,540.15 68.25,540.15" fill="#111"/>
<polygon points="93.25,535.8 91.25,539.4 95.25,539.4" fill="#111"/>
<polygon points="120,534.05 118,537.65 122,537.65" fill="#111"/>
<path d="M40 537 L66.25 538.75 L93.25 533.75 L120 518.75" fill="none" stroke="#111" stroke-width="0.9"/>
<rect x="38.4" y="535.4" width="3.2" height="3.2" fill="#111" stroke="none" stroke-width="1"/>
<rect x="64.65" y="537.15" width="3.2" height="3.2" fill="#111" stroke="none" stroke-width="1"/>
<rect x="91.65" y="532.15" width="3.2" height="3.2" fill="#111" stroke="none" stroke-width="1"/>
<rect x="118.4" y="517.15" width="3.2" height="3.2" fill="#111" stroke="none" stroke-width="1"/>
<path d="M40 537 L66.25 531.25 L93.25 517 L120 472" fill="none" stroke="#111" stroke-width="0.9"/>
<circle cx="40" cy="537" r="1.6" fill="none" stroke="#111" stroke-width="0.8"/>
<circle cx="66.25" cy="531.25" r="1.6" fill="none" stroke="#111" stroke-width="0.8"/>
<circle cx="93.25" cy="517" r="1.6" fill="none" stroke="#111" stroke-width="0.8"/>
<circle cx="120" cy="472" r="1.6" fill="none" stroke="#111" stroke-width="0.8"/>
<line x1="215" y1="460.5" x2="215" y2="491.25" stroke="#111" stroke-width="0.9"/>
<line x1="213.4" y1="460.5" x2="216.6" y2="460.5" stroke="#111" stroke-width="0.9"/>
<line x1="213.4" y1="491.25" x2="216.6" y2="491.25" stroke="#111" stroke-width="0.9"/>
<line x1="187.5" y1="500.5" x2="187.5" y2="511" stroke="#111" stroke-width="0.9"/>
<line x1="185.9" y1="500.5" x2="189.1" y2="500.5" stroke="#111" stroke-width="0.9"/>
<line x1="185.9" y1="511" x2="189.1" y2="511" stroke="#111" stroke-width="0.9"/>
<line x1="161.75" y1="527" x2="161.75" y2="532.5" stroke="#111" stroke-width="0.9"/>
<line x1="160.15" y1="527" x2="163.35" y2="527" stroke="#111" stroke-width="0.9"/>
<line x1="160.15" y1="532.5" x2="163.35" y2="532.5" stroke="#111" stroke-width="0.9"/>
<path d="M135.8 529.5 L161.75 530.5 L187.5 507 L215 478" fill="none" stroke="#111" stroke-width="0.9"/>
<polygon points="135.8,527.3 133.8,530.9 137.8,530.9" fill="#111"/>
<polygon points="161.75,528.3 159.75,531.9 163.75,531.9" fill="#111"/>
<polygon points="187.5,504.8 185.5,508.4 189.5,508.4" fill="#111"/>
<polygon points="215,475.8 213,479.4 217,479.4" fill="#111"/>
<path d="M135.8 529.5 L161.75 529.8 L187.5 503.5 L215 470" fill="none" stroke="#111" stroke-width="0.9"/>
<rect x="134.2" y="527.9" width="3.2" height="3.2" fill="#111" stroke="none" stroke-width="1"/>
<rect x="160.15" y="528.2" width="3.2" height="3.2" fill="#111" stroke="none" stroke-width="1"/>
<rect x="185.9" y="501.9" width="3.2" height="3.2" fill="#111" stroke="none" stroke-width="1"/>
<rect x="213.4" y="468.4" width="3.2" height="3.2" fill="#111" stroke="none" stroke-width="1"/>
<path d="M135.8 529.5 L161.75 529.2 L187.5 505 L215 474.5" fill="none" stroke="#111" stroke-width="0.9"/>
<circle cx="135.8" cy="529.5" r="1.6" fill="none" stroke="#111" stroke-width="0.8"/>
<circle cx="161.75" cy="529.2" r="1.6" fill="none" stroke="#111" stroke-width="0.8"/>
<circle cx="187.5" cy="505" r="1.6" fill="none" stroke="#111" stroke-width="0.8"/>
<circle cx="215" cy="474.5" r="1.6" fill="none" stroke="#111" stroke-width="0.8"/>
<line x1="305" y1="436.3" x2="317" y2="436.3" stroke="#111" stroke-width="1.1"/>
<circle cx="311" cy="436.3" r="1.92" fill="none" stroke="#111" stroke-width="0.8"/>
<text x="320" y="439.1" font-size="8.2" text-anchor="start" font-weight="normal" fill="#222" stroke="#222" stroke-width="0.22">Non-targeting siRNAs</text>
<line x1="412" y1="435" x2="426.3" y2="435" stroke="#111" stroke-width="1.1"/>
<rect x="416.99" y="432.84" width="4.32" height="4.32" fill="#111" stroke="none" stroke-width="1"/>
<text x="430" y="437.9" font-size="8.2" text-anchor="start" font-weight="normal" fill="#222" stroke="#222" stroke-width="0.22">AKT siRNAs</text>
<line x1="337.5" y1="446.3" x2="353.8" y2="446.3" stroke="#111" stroke-width="1.1"/>
<polygon points="345.65,442.12 341.85,448.96 349.45,448.96" fill="#111"/>
<text x="355" y="449.1" font-size="8.2" text-anchor="start" font-weight="normal" fill="#222" stroke="#222" stroke-width="0.22">AKT siRNAs + PRT318</text>
<line x1="282.5" y1="455.3" x2="282.5" y2="555.6" stroke="#111" stroke-width="1.6"/>
<polygon points="282.5,448.8 279.3,455.8 285.7,455.8" fill="#111"/>
<line x1="281.7" y1="555.2" x2="482" y2="555.2" stroke="#111" stroke-width="1.6"/>
<polygon points="488.5,555.2 481.5,552 481.5,558.4" fill="#111"/>
<text x="275.8" y="501.5" font-size="9.1" text-anchor="middle" font-weight="normal" fill="#222" stroke="#222" stroke-width="0.22" transform="rotate(-90 275.8 501.5)">Fold increase in cell number</text>
<text x="371.3" y="565.2" font-size="9.1" text-anchor="start" font-weight="normal" fill="#222" stroke="#222" stroke-width="0.22">Time (hrs)</text>
<line x1="297.4" y1="456.3" x2="297.4" y2="545" stroke="#606060" stroke-width="1"/>
<line x1="294.5" y1="543" x2="383" y2="543" stroke="#555" stroke-width="1"/>
<line x1="322.5" y1="543" x2="322.5" y2="545" stroke="#444" stroke-width="0.8"/>
<line x1="349.25" y1="543" x2="349.25" y2="545" stroke="#444" stroke-width="0.8"/>
<line x1="376.25" y1="543" x2="376.25" y2="545" stroke="#444" stroke-width="0.8"/>
<text x="290.5" y="552.6" font-size="8.2" text-anchor="middle" font-weight="normal" fill="#222" stroke="#222" stroke-width="0.22">0</text>
<text x="322.5" y="552.6" font-size="8.2" text-anchor="middle" font-weight="normal" fill="#222" stroke="#222" stroke-width="0.22">24</text>
<text x="349.25" y="552.6" font-size="8.2" text-anchor="middle" font-weight="normal" fill="#222" stroke="#222" stroke-width="0.22">48</text>
<text x="376.25" y="552.6" font-size="8.2" text-anchor="middle" font-weight="normal" fill="#222" stroke="#222" stroke-width="0.22">72</text>
<line x1="295" y1="491.3" x2="297" y2="491.3" stroke="#444" stroke-width="0.8"/>
<text x="293.6" y="494.3" font-size="8.2" text-anchor="end" font-weight="normal" fill="#222" stroke="#222" stroke-width="0.22">10</text>
<text x="298.8" y="470.8" font-size="9.2" text-anchor="start" font-weight="normal" fill="#222" stroke="#222" stroke-width="0.22">LY18</text>
<line x1="393.4" y1="457" x2="393.4" y2="545.8" stroke="#606060" stroke-width="1"/>
<line x1="390.5" y1="543.8" x2="481.3" y2="543.8" stroke="#555" stroke-width="1"/>
<line x1="419.25" y1="543.8" x2="419.25" y2="545.8" stroke="#444" stroke-width="0.8"/>
<line x1="445.5" y1="543.8" x2="445.5" y2="545.8" stroke="#444" stroke-width="0.8"/>
<line x1="472" y1="543.8" x2="472" y2="545.8" stroke="#444" stroke-width="0.8"/>
<text x="389.5" y="553.4" font-size="8.2" text-anchor="middle" font-weight="normal" fill="#222" stroke="#222" stroke-width="0.22">0</text>
<text x="419.25" y="553.4" font-size="8.2" text-anchor="middle" font-weight="normal" fill="#222" stroke="#222" stroke-width="0.22">24</text>
<text x="445.5" y="553.4" font-size="8.2" text-anchor="middle" font-weight="normal" fill="#222" stroke="#222" stroke-width="0.22">48</text>
<text x="472" y="553.4" font-size="8.2" text-anchor="middle" font-weight="normal" fill="#222" stroke="#222" stroke-width="0.22">72</text>
<line x1="391" y1="472" x2="393" y2="472" stroke="#444" stroke-width="0.8"/>
<text x="390.6" y="475" font-size="8.2" text-anchor="end" font-weight="normal" fill="#222" stroke="#222" stroke-width="0.22">5</text>
<text x="396.3" y="471.9" font-size="9.2" text-anchor="start" font-weight="normal" fill="#222" stroke="#222" stroke-width="0.22">LY4</text>
<line x1="322.5" y1="523.75" x2="322.5" y2="540" stroke="#111" stroke-width="0.9"/>
<line x1="320.9" y1="523.75" x2="324.1" y2="523.75" stroke="#111" stroke-width="0.9"/>
<line x1="320.9" y1="540" x2="324.1" y2="540" stroke="#111" stroke-width="0.9"/>
<line x1="349.25" y1="511" x2="349.25" y2="517.5" stroke="#111" stroke-width="0.9"/>
<line x1="347.65" y1="511" x2="350.85" y2="511" stroke="#111" stroke-width="0.9"/>
<line x1="347.65" y1="517.5" x2="350.85" y2="517.5" stroke="#111" stroke-width="0.9"/>
<line x1="376.25" y1="457" x2="376.25" y2="492" stroke="#111" stroke-width="0.9"/>
<line x1="374.65" y1="457" x2="377.85" y2="457" stroke="#111" stroke-width="0.9"/>
<line x1="374.65" y1="492" x2="377.85" y2="492" stroke="#111" stroke-width="0.9"/>
<line x1="376.25" y1="508.75" x2="376.25" y2="518.75" stroke="#111" stroke-width="0.9"/>
<line x1="374.65" y1="508.75" x2="377.85" y2="508.75" stroke="#111" stroke-width="0.9"/>
<line x1="374.65" y1="518.75" x2="377.85" y2="518.75" stroke="#111" stroke-width="0.9"/>
<line x1="349.25" y1="530" x2="349.25" y2="536" stroke="#111" stroke-width="0.9"/>
<line x1="347.65" y1="530" x2="350.85" y2="530" stroke="#111" stroke-width="0.9"/>
<line x1="347.65" y1="536" x2="350.85" y2="536" stroke="#111" stroke-width="0.9"/>
<path d="M297 538 L322.5 538.75 L349.25 536.25 L376.25 534.5" fill="none" stroke="#111" stroke-width="0.9"/>
<polygon points="297,535.8 295,539.4 299,539.4" fill="#111"/>
<polygon points="322.5,536.55 320.5,540.15 324.5,540.15" fill="#111"/>
<polygon points="349.25,534.05 347.25,537.65 351.25,537.65" fill="#111"/>
<polygon points="376.25,532.3 374.25,535.9 378.25,535.9" fill="#111"/>
<path d="M297 538 L322.5 539.5 L349.25 533.75 L376.25 514.5" fill="none" stroke="#111" stroke-width="0.9"/>
<rect x="295.4" y="536.4" width="3.2" height="3.2" fill="#111" stroke="none" stroke-width="1"/>
<rect x="320.9" y="537.9" width="3.2" height="3.2" fill="#111" stroke="none" stroke-width="1"/>
<rect x="347.65" y="532.15" width="3.2" height="3.2" fill="#111" stroke="none" stroke-width="1"/>
<rect x="374.65" y="512.9" width="3.2" height="3.2" fill="#111" stroke="none" stroke-width="1"/>
<path d="M297 538 L322.5 532 L349.25 515 L376.25 473.75" fill="none" stroke="#111" stroke-width="0.9"/>
<circle cx="297" cy="538" r="1.6" fill="none" stroke="#111" stroke-width="0.8"/>
<circle cx="322.5" cy="532" r="1.6" fill="none" stroke="#111" stroke-width="0.8"/>
<circle cx="349.25" cy="515" r="1.6" fill="none" stroke="#111" stroke-width="0.8"/>
<circle cx="376.25" cy="473.75" r="1.6" fill="none" stroke="#111" stroke-width="0.8"/>
<line x1="472" y1="457.5" x2="472" y2="488" stroke="#111" stroke-width="0.9"/>
<line x1="470.4" y1="457.5" x2="473.6" y2="457.5" stroke="#111" stroke-width="0.9"/>
<line x1="470.4" y1="488" x2="473.6" y2="488" stroke="#111" stroke-width="0.9"/>
<line x1="445.5" y1="500" x2="445.5" y2="506" stroke="#111" stroke-width="0.9"/>
<line x1="443.9" y1="500" x2="447.1" y2="500" stroke="#111" stroke-width="0.9"/>
<line x1="443.9" y1="506" x2="447.1" y2="506" stroke="#111" stroke-width="0.9"/>
<line x1="472" y1="506" x2="472" y2="514" stroke="#111" stroke-width="0.9"/>
<line x1="470.4" y1="506" x2="473.6" y2="506" stroke="#111" stroke-width="0.9"/>
<line x1="470.4" y1="514" x2="473.6" y2="514" stroke="#111" stroke-width="0.9"/>
<line x1="472" y1="511" x2="472" y2="519" stroke="#111" stroke-width="0.9"/>
<line x1="470.4" y1="511" x2="473.6" y2="511" stroke="#111" stroke-width="0.9"/>
<line x1="470.4" y1="519" x2="473.6" y2="519" stroke="#111" stroke-width="0.9"/>
<path d="M393 529.25 L419.25 533.75 L445.5 525.5 L472 515" fill="none" stroke="#111" stroke-width="0.9"/>
<polygon points="393,527.05 391,530.65 395,530.65" fill="#111"/>
<polygon points="419.25,531.55 417.25,535.15 421.25,535.15" fill="#111"/>
<polygon points="445.5,523.3 443.5,526.9 447.5,526.9" fill="#111"/>
<polygon points="472,512.8 470,516.4 474,516.4" fill="#111"/>
<path d="M393 529.25 L419.25 533.75 L445.5 523 L472 510" fill="none" stroke="#111" stroke-width="0.9"/>
<rect x="391.4" y="527.65" width="3.2" height="3.2" fill="#111" stroke="none" stroke-width="1"/>
<rect x="417.65" y="532.15" width="3.2" height="3.2" fill="#111" stroke="none" stroke-width="1"/>
<rect x="443.9" y="521.4" width="3.2" height="3.2" fill="#111" stroke="none" stroke-width="1"/>
<rect x="470.4" y="508.4" width="3.2" height="3.2" fill="#111" stroke="none" stroke-width="1"/>
<path d="M393 529.25 L419.25 527.5 L445.5 503 L472 473" fill="none" stroke="#111" stroke-width="0.9"/>
<circle cx="393" cy="529.25" r="1.6" fill="none" stroke="#111" stroke-width="0.8"/>
<circle cx="419.25" cy="527.5" r="1.6" fill="none" stroke="#111" stroke-width="0.8"/>
<circle cx="445.5" cy="503" r="1.6" fill="none" stroke="#111" stroke-width="0.8"/>
<circle cx="472" cy="473" r="1.6" fill="none" stroke="#111" stroke-width="0.8"/>
<text x="3.6" y="583.8" font-size="17.5" text-anchor="start" font-weight="bold" fill="#000">D</text>
<rect x="69.7" y="579" width="87.8" height="31.5" fill="#fff" stroke="#c2bab3" stroke-width="2"/>
<rect x="162.7" y="579" width="86.8" height="31.5" fill="#fff" stroke="#c2bab3" stroke-width="2"/>
<rect x="256.5" y="579" width="89" height="31.5" fill="#fff" stroke="#c2bab3" stroke-width="2"/>
<text x="350.2" y="598.3" font-size="8.2" text-anchor="start" font-weight="normal" fill="#222" stroke="#222" stroke-width="0.22">Pt.1</text>
<rect x="69.7" y="614" width="87.8" height="30.6" fill="#fff" stroke="#c2bab3" stroke-width="2"/>
<rect x="162.7" y="614" width="86.8" height="30.6" fill="#fff" stroke="#c2bab3" stroke-width="2"/>
<rect x="256.5" y="614" width="89" height="30.6" fill="#fff" stroke="#c2bab3" stroke-width="2"/>
<text x="350.2" y="631.6" font-size="8.2" text-anchor="start" font-weight="normal" fill="#222" stroke="#222" stroke-width="0.22">Pt.2</text>
<rect x="70.7" y="648.5" width="87.8" height="36.5" fill="#fff" stroke="#c2bab3" stroke-width="2"/>
<rect x="162.7" y="648.5" width="86.8" height="36.5" fill="#fff" stroke="#c2bab3" stroke-width="2"/>
<rect x="256.5" y="648.5" width="89" height="36.5" fill="#fff" stroke="#c2bab3" stroke-width="2"/>
<text x="350.2" y="667" font-size="8.2" text-anchor="start" font-weight="normal" fill="#222" stroke="#222" stroke-width="0.22">Pt.3</text>
<rect x="70.7" y="688.8" width="87.8" height="35.2" fill="#fff" stroke="#c2bab3" stroke-width="2"/>
<rect x="162.7" y="688.8" width="86.8" height="35.2" fill="#fff" stroke="#c2bab3" stroke-width="2"/>
<rect x="256.5" y="688.8" width="89" height="35.2" fill="#fff" stroke="#c2bab3" stroke-width="2"/>
<text x="350.2" y="708" font-size="8.2" text-anchor="start" font-weight="normal" fill="#222" stroke="#222" stroke-width="0.22">Pt.4</text>
<path d="M99.4 609.73 L99.9 609.62 L100.4 609.45 L100.9 609.18 L101.4 608.92 L101.9 608.66 L102.4 608.09 L102.9 607.47 L103.4 606.7 L103.9 605.73 L104.4 605.1 L104.9 604.26 L105.4 603.31 L105.9 602.32 L106.4 600.76 L106.9 600.17 L107.4 598.91 L107.9 596.9 L108.4 595.69 L108.9 594.09 L109.4 592.35 L109.9 590.98 L110.4 589.54 L110.9 588.28 L111.4 585.87 L111.9 584.5 L112.4 584.22 L112.9 583.2 L113.4 582.94 L113.9 583.54 L114.4 583.34 L114.9 584.63 L115.4 586.8 L115.9 588.43 L116.4 589.71 L116.9 591.45 L117.4 593.61 L117.9 595.48 L118.4 597.32 L118.9 598.48 L119.4 599.95 L119.9 601.35 L120.4 603.08 L120.9 603.89 L121.4 604.66 L121.9 605.66 L122.4 606.8 L122.9 607.76 L123.4 608.42 L123.9 608.73 L124.4 609.24 L124.9 609.42 L125.4 609.62 L125.9 609.75" fill="none" stroke="#8a6450" stroke-width="1.1" stroke-linejoin="round" opacity="1"/>
<path d="M107.4 609.74 L107.9 609.62 L108.4 609.45 L108.9 609.16 L109.4 608.87 L109.9 608.5 L110.4 607.83 L110.9 607.12 L111.4 606.38 L111.9 605.8 L112.4 604.76 L112.9 603.96 L113.4 603.06 L113.9 601.49 L114.4 600.39 L114.9 599.53 L115.4 598.03 L115.9 596.43 L116.4 594.65 L116.9 593.27 L117.4 591.54 L117.9 589.53 L118.4 588.69 L118.9 586.66 L119.4 585.86 L119.9 584.11 L120.4 583.39 L120.9 583.93 L121.4 584.01 L121.9 585.38 L122.4 586.05 L122.9 587.03 L123.4 588.39 L123.9 590.18 L124.4 592.02 L124.9 593.45 L125.4 594.56 L125.9 596.41 L126.4 597.73 L126.9 598.84 L127.4 599.93 L127.9 601.41 L128.4 602.67 L128.9 603.46 L129.4 604.53 L129.9 605.06 L130.4 606.08 L130.9 606.89 L131.4 607.56 L131.9 608 L132.4 608.7 L132.9 609.04 L133.4 609.33 L133.9 609.47 L134.4 609.63 L134.9 609.74" fill="none" stroke="#4a78c8" stroke-width="1.1" stroke-linejoin="round" opacity="1"/>
<path d="M110.4 609.75 L110.9 609.64 L111.4 609.49 L111.9 609.33 L112.4 609.04 L112.9 608.67 L113.4 608.09 L113.9 607.61 L114.4 606.85 L114.9 605.96 L115.4 605.04 L115.9 604.14 L116.4 603.51 L116.9 602.17 L117.4 601.51 L117.9 599.75 L118.4 598.77 L118.9 597.23 L119.4 596.01 L119.9 594.57 L120.4 593.13 L120.9 590.76 L121.4 589.72 L121.9 587.8 L122.4 586.63 L122.9 585.24 L123.4 584.51 L123.9 583.69 L124.4 582.98 L124.9 582.6 L125.4 583.33 L125.9 584.84 L126.4 585.05 L126.9 586.63 L127.4 588.41 L127.9 589.65 L128.4 591.2 L128.9 592.1 L129.4 593.9 L129.9 595.59 L130.4 597.09 L130.9 598.41 L131.4 599.7 L131.9 600.85 L132.4 601.66 L132.9 602.69 L133.4 603.68 L133.9 604.42 L134.4 605.3 L134.9 606.31 L135.4 607.16 L135.9 607.78 L136.4 608.29 L136.9 608.64 L137.4 608.92 L137.9 609.25 L138.4 609.47 L138.9 609.62 L139.4 609.73" fill="none" stroke="#4cb86a" stroke-width="1.1" stroke-linejoin="round" opacity="1"/>
<path d="M76.9 609.74 L77.4 609.63 L77.9 609.48 L78.4 609.28 L78.9 609.05 L79.4 608.5 L79.9 608.09 L80.4 607.64 L80.9 607.03 L81.4 605.76 L81.9 605.42 L82.4 604.32 L82.9 603.86 L83.4 602.56 L83.9 601.68 L84.4 600.12 L84.9 599.31 L85.4 598.13 L85.9 596.65 L86.4 594.63 L86.9 592.94 L87.4 591.74 L87.9 590.2 L88.4 589.19 L88.9 587.86 L89.4 586.88 L89.9 584.81 L90.4 585.18 L90.9 584.08 L91.4 584.68 L91.9 585.75 L92.4 586.7 L92.9 587.66 L93.4 590.1 L93.9 591.98 L94.4 593.34 L94.9 595.15 L95.4 597.04 L95.9 598.98 L96.4 600 L96.9 601.96 L97.4 603.18 L97.9 604.26 L98.4 605.09 L98.9 605.97 L99.4 606.95 L99.9 607.74 L100.4 608.34 L100.9 608.93 L101.4 609.36 L101.9 609.52 L102.4 609.69" fill="none" stroke="#d04a5e" stroke-width="1.1" stroke-linejoin="round" opacity="1"/>
<path d="M174.9 609.73 L175.4 609.63 L175.9 609.51 L176.4 609.3 L176.9 609.26 L177.4 608.95 L177.9 608.7 L178.4 608.2 L178.9 607.68 L179.4 607.38 L179.9 606.67 L180.4 605.64 L180.9 605.14 L181.4 604.81 L181.9 603.79 L182.4 602.94 L182.9 602.35 L183.4 601.63 L183.9 600.31 L184.4 599.53 L184.9 598.6 L185.4 597.43 L185.9 596.03 L186.4 595.04 L186.9 593.53 L187.4 592.07 L187.9 590.76 L188.4 589.63 L188.9 587.92 L189.4 587.52 L189.9 586.1 L190.4 584.34 L190.9 583.5 L191.4 582.66 L191.9 582.28 L192.4 582.27 L192.9 582.37 L193.4 583.86 L193.9 586.14 L194.4 588.03 L194.9 590.43 L195.4 591.95 L195.9 594.79 L196.4 596.9 L196.9 598.84 L197.4 601.01 L197.9 602.23 L198.4 603.63 L198.9 604.87 L199.4 605.99 L199.9 607.44 L200.4 608.35 L200.9 608.79 L201.4 609.24 L201.9 609.56 L202.4 609.74" fill="none" stroke="#8a6450" stroke-width="1.1" stroke-linejoin="round" opacity="1"/>
<path d="M183.4 609.7 L183.9 609.57 L184.4 609.41 L184.9 609.18 L185.4 608.92 L185.9 608.33 L186.4 607.92 L186.9 607.13 L187.4 606.51 L187.9 605.73 L188.4 604.89 L188.9 603.92 L189.4 602.88 L189.9 602.19 L190.4 600.81 L190.9 599.79 L191.4 598.1 L191.9 596.77 L192.4 595.48 L192.9 594.14 L193.4 592.69 L193.9 590.52 L194.4 589.09 L194.9 588.2 L195.4 587.14 L195.9 585.87 L196.4 584.01 L196.9 584.49 L197.4 583.34 L197.9 584.02 L198.4 584.63 L198.9 585.51 L199.4 586.68 L199.9 587.67 L200.4 589.44 L200.9 589.87 L201.4 592.08 L201.9 593.41 L202.4 594.25 L202.9 595.63 L203.4 596.8 L203.9 598.15 L204.4 599.16 L204.9 600.93 L205.4 601.98 L205.9 602.78 L206.4 603.32 L206.9 604.49 L207.4 605 L207.9 605.54 L208.4 606.53 L208.9 607.11 L209.4 607.59 L209.9 608.16 L210.4 608.67 L210.9 608.97 L211.4 609.27 L211.9 609.42 L212.4 609.58 L212.9 609.69" fill="none" stroke="#4a78c8" stroke-width="1.1" stroke-linejoin="round" opacity="1"/>
<path d="M186.4 609.71 L186.9 609.59 L187.4 609.44 L187.9 609.16 L188.4 608.93 L188.9 608.63 L189.4 608.34 L189.9 607.71 L190.4 607.19 L190.9 606.31 L191.4 605.75 L191.9 604.83 L192.4 604.19 L192.9 603.52 L193.4 602.56 L193.9 601.42 L194.4 600.56 L194.9 599.09 L195.4 598.65 L195.9 596.63 L196.4 595.46 L196.9 594.29 L197.4 592.54 L197.9 591.83 L198.4 590.24 L198.9 588.46 L199.4 587.03 L199.9 586.33 L200.4 584.51 L200.9 584 L201.4 584.04 L201.9 583.53 L202.4 583.67 L202.9 583.65 L203.4 584.86 L203.9 586.07 L204.4 587.17 L204.9 589.03 L205.4 589.67 L205.9 591.34 L206.4 593.21 L206.9 594.89 L207.4 596.52 L207.9 597.72 L208.4 599.3 L208.9 600.12 L209.4 601.34 L209.9 602.59 L210.4 603.53 L210.9 604.84 L211.4 605.58 L211.9 606.23 L212.4 607.18 L212.9 607.76 L213.4 608.15 L213.9 608.65 L214.4 608.97 L214.9 609.38 L215.4 609.53 L215.9 609.67" fill="none" stroke="#4cb86a" stroke-width="1.1" stroke-linejoin="round" opacity="1"/>
<path d="M168.9 609.66 L169.4 609.57 L169.9 609.46 L170.4 609.37 L170.9 609.25 L171.4 609 L171.9 608.82 L172.4 608.41 L172.9 608.14 L173.4 607.61 L173.9 607.19 L174.4 606.63 L174.9 606.15 L175.4 605.4 L175.9 604.91 L176.4 604.34 L176.9 603.89 L177.4 603.26 L177.9 602.69 L178.4 602.14 L178.9 601.07 L179.4 600.14 L179.9 599.6 L180.4 598.15 L180.9 597.17 L181.4 596.2 L181.9 595.2 L182.4 594.45 L182.9 593.69 L183.4 592.52 L183.9 590.96 L184.4 589.61 L184.9 589.48 L185.4 588.57 L185.9 587.17 L186.4 586.23 L186.9 585.04 L187.4 584.82 L187.9 583.22 L188.4 583.25 L188.9 582.09 L189.4 582.55 L189.9 582.78 L190.4 583.91 L190.9 584.43 L191.4 586.71 L191.9 588.49 L192.4 591.45 L192.9 593.12 L193.4 595.07 L193.9 596.89 L194.4 598.83 L194.9 601.17 L195.4 602.49 L195.9 603.45 L196.4 604.88 L196.9 605.71 L197.4 607.21 L197.9 608.16 L198.4 608.53 L198.9 609.16 L199.4 609.43 L199.9 609.65 L200.4 609.79" fill="none" stroke="#d04a5e" stroke-width="1.1" stroke-linejoin="round" opacity="1"/>
<path d="M264.2 609.69 L264.7 609.6 L265.2 609.49 L265.7 609.35 L266.2 609.23 L266.7 609 L267.2 608.67 L267.7 608.39 L268.2 608.07 L268.7 607.9 L269.2 607.26 L269.7 607.07 L270.2 606.32 L270.7 605.5 L271.2 605.36 L271.7 604.78 L272.2 604.1 L272.7 603.69 L273.2 602.74 L273.7 602.07 L274.2 601.71 L274.7 600.32 L275.2 600.12 L275.7 598.76 L276.2 598.12 L276.7 597.35 L277.2 596.43 L277.7 594.58 L278.2 593.72 L278.7 592.99 L279.2 591.59 L279.7 590.34 L280.2 589.33 L280.7 588.73 L281.2 588.03 L281.7 586.82 L282.2 585.39 L282.7 584.88 L283.2 584.23 L283.7 583.42 L284.2 583.48 L284.7 583 L285.2 582.61 L285.7 583.77 L286.2 583.55 L286.7 585.34 L287.2 585.65 L287.7 586.64 L288.2 588.26 L288.7 588.59 L289.2 590.36 L289.7 591.88 L290.2 592.91 L290.7 594 L291.2 595.39 L291.7 596.97 L292.2 598.04 L292.7 598.64 L293.2 600.14 L293.7 601.03 L294.2 601.58 L294.7 602.42 L295.2 603.22 L295.7 604.38 L296.2 605.13 L296.7 605.34 L297.2 606.03 L297.7 606.86 L298.2 607.6 L298.7 607.95 L299.2 608.43 L299.7 608.68 L300.2 608.88 L300.7 609.28 L301.2 609.4 L301.7 609.55 L302.2 609.66" fill="none" stroke="#8a6450" stroke-width="1.1" stroke-linejoin="round" opacity="1"/>
<path d="M287.2 609.67 L287.7 609.53 L288.2 609.41 L288.7 609.03 L289.2 608.83 L289.7 608.38 L290.2 607.75 L290.7 606.83 L291.2 606.24 L291.7 605.48 L292.2 604.61 L292.7 603.92 L293.2 602.8 L293.7 601.52 L294.2 600.6 L294.7 598.95 L295.2 598.07 L295.7 596.71 L296.2 594.72 L296.7 593.31 L297.2 591.25 L297.7 590.52 L298.2 588.29 L298.7 586.92 L299.2 585.94 L299.7 585.09 L300.2 583.59 L300.7 582.82 L301.2 583.15 L301.7 583.98 L302.2 585.08 L302.7 586.9 L303.2 589.05 L303.7 591.37 L304.2 593.2 L304.7 595.2 L305.2 596.9 L305.7 598.7 L306.2 600.75 L306.7 602.43 L307.2 603.82 L307.7 604.75 L308.2 605.69 L308.7 607.08 L309.2 607.83 L309.7 608.43 L310.2 609.08 L310.7 609.32 L311.2 609.62 L311.7 609.77" fill="none" stroke="#4a78c8" stroke-width="1.1" stroke-linejoin="round" opacity="1"/>
<path d="M287.2 609.72 L287.7 609.59 L288.2 609.42 L288.7 609.2 L289.2 608.84 L289.7 608.38 L290.2 608.07 L290.7 607.39 L291.2 606.31 L291.7 605.89 L292.2 605.03 L292.7 604.1 L293.2 602.99 L293.7 602.01 L294.2 600.65 L294.7 599.58 L295.2 598.78 L295.7 597.32 L296.2 595.87 L296.7 593.96 L297.2 592.79 L297.7 590.7 L298.2 589.03 L298.7 588.02 L299.2 585.88 L299.7 585.18 L300.2 583.5 L300.7 583.51 L301.2 582.85 L301.7 583.43 L302.2 584.82 L302.7 585.65 L303.2 588.24 L303.7 589.83 L304.2 591.71 L304.7 593.13 L305.2 595.45 L305.7 597.7 L306.2 599.21 L306.7 600.57 L307.2 601.89 L307.7 603.63 L308.2 604.36 L308.7 605.55 L309.2 606.52 L309.7 607.53 L310.2 608.26 L310.7 608.67 L311.2 609.1 L311.7 609.47 L312.2 609.66" fill="none" stroke="#4cb86a" stroke-width="1.1" stroke-linejoin="round" opacity="1"/>
<path d="M257.7 607.76 L258.2 607.47 L258.7 607.08 L259.2 606.88 L259.7 606.45 L260.2 605.55 L260.7 605.04 L261.2 604.44 L261.7 603.97 L262.2 603.31 L262.7 602.16 L263.2 601.68 L263.7 601.29 L264.2 600.32 L264.7 599.63 L265.2 599.21 L265.7 597.89 L266.2 597.44 L266.7 597.12 L267.2 597.59 L267.7 597.18 L268.2 597.45 L268.7 596.9 L269.2 596.75 L269.7 596.58 L270.2 596.26 L270.7 596.4 L271.2 595.91 L271.7 595.15 L272.2 593.64 L272.7 592.78 L273.2 592.18 L273.7 591.53 L274.2 589.92 L274.7 589.76 L275.2 588.6 L275.7 588.06 L276.2 586.06 L276.7 585.89 L277.2 584.7 L277.7 583.98 L278.2 583.65 L278.7 582.66 L279.2 582.56 L279.7 582.18 L280.2 582.37 L280.7 584.19 L281.2 584.44 L281.7 586.36 L282.2 587.71 L282.7 589.28 L283.2 590.26 L283.7 592.9 L284.2 594.2 L284.7 596.11 L285.2 596.92 L285.7 598.83 L286.2 600.05 L286.7 601.46 L287.2 602.46 L287.7 603.78 L288.2 604.66 L288.7 605.31 L289.2 606.2 L289.7 607.03 L290.2 607.95 L290.7 608.34 L291.2 608.81 L291.7 609.18 L292.2 609.43 L292.7 609.61 L293.2 609.74" fill="none" stroke="#d04a5e" stroke-width="1.1" stroke-linejoin="round" opacity="1"/>
<path d="M85.4 643.83 L85.9 643.67 L86.4 643.45 L86.9 643.08 L87.4 642.73 L87.9 642.08 L88.4 641.13 L88.9 640.38 L89.4 639.55 L89.9 638.16 L90.4 636.95 L90.9 635.69 L91.4 634.53 L91.9 632.55 L92.4 630.78 L92.9 629.23 L93.4 627.89 L93.9 625.91 L94.4 624.59 L94.9 623.48 L95.4 622.72 L95.9 621.6 L96.4 622.52 L96.9 623.36 L97.4 625.52 L97.9 626.65 L98.4 627.22 L98.9 627.84 L99.4 627.15 L99.9 626.05 L100.4 625.08 L100.9 623.66 L101.4 623.29 L101.9 623.04 L102.4 623.2 L102.9 623.11 L103.4 623.56 L103.9 623.72 L104.4 622.15 L104.9 621.65 L105.4 621.59 L105.9 620.79 L106.4 619.93 L106.9 618.9 L107.4 619.39 L107.9 619.82 L108.4 619.78 L108.9 621.05 L109.4 621.59 L109.9 622.39 L110.4 623.62 L110.9 624.93 L111.4 625.79 L111.9 626.97 L112.4 628.06 L112.9 629.15 L113.4 630.35 L113.9 631.51 L114.4 632.84 L114.9 633.23 L115.4 634.3 L115.9 635.42 L116.4 636.63 L116.9 637.28 L117.4 637.63 L117.9 638.59 L118.4 639.35 L118.9 639.62 L119.4 640.12 L119.9 641.15 L120.4 641.58 L120.9 642.06 L121.4 642.6 L121.9 642.87 L122.4 643.08 L122.9 643.29 L123.4 643.51 L123.9 643.65 L124.4 643.76" fill="none" stroke="#8a6450" stroke-width="1.1" stroke-linejoin="round" opacity="1"/>
<path d="M85.4 643.83 L85.9 643.67 L86.4 643.41 L86.9 643.06 L87.4 642.64 L87.9 642.09 L88.4 641.25 L88.9 640.04 L89.4 639.12 L89.9 638.05 L90.4 637.37 L90.9 635.59 L91.4 634.56 L91.9 632.85 L92.4 631.32 L92.9 629.01 L93.4 627.31 L93.9 625.64 L94.4 624.61 L94.9 622.75 L95.4 622.59 L95.9 621.93 L96.4 622.48 L96.9 624.12 L97.4 625.31 L97.9 626.83 L98.4 626.95 L98.9 627.74 L99.4 627.36 L99.9 626.37 L100.4 624.99 L100.9 624.04 L101.4 623.46 L101.9 622.96 L102.4 623.22 L102.9 623.98 L103.4 623.67 L103.9 623.87 L104.4 623.31 L104.9 622.71 L105.4 621.94 L105.9 620.74 L106.4 619.28 L106.9 618.91 L107.4 619.25 L107.9 619.17 L108.4 618.96 L108.9 619.36 L109.4 620.37 L109.9 620.77 L110.4 620.77 L110.9 621.33 L111.4 622.56 L111.9 622.47 L112.4 623.78 L112.9 624.15 L113.4 624.98 L113.9 625.95 L114.4 626.13 L114.9 627.47 L115.4 628.24 L115.9 628.91 L116.4 629.42 L116.9 630.07 L117.4 631.02 L117.9 631.96 L118.4 632.53 L118.9 633.3 L119.4 633.73 L119.9 634.38 L120.4 635.16 L120.9 636.14 L121.4 636.47 L121.9 637.09 L122.4 637.73 L122.9 637.89 L123.4 638.67 L123.9 638.84 L124.4 639.37 L124.9 639.78 L125.4 640 L125.9 640.42 L126.4 640.77 L126.9 641.18 L127.4 641.63 L127.9 642.14 L128.4 642.29 L128.9 642.6 L129.4 642.7 L129.9 643.02 L130.4 643.21 L130.9 643.42 L131.4 643.45 L131.9 643.55 L132.4 643.64 L132.9 643.72 L133.4 643.79" fill="none" stroke="#4a78c8" stroke-width="1.1" stroke-linejoin="round" opacity="1"/>
<path d="M85.4 643.87 L85.9 643.74 L86.4 643.54 L86.9 643.23 L87.4 642.87 L87.9 642.35 L88.4 641.44 L88.9 640.7 L89.4 639.83 L89.9 638.72 L90.4 637.65 L90.9 636.29 L91.4 634.85 L91.9 633.41 L92.4 631.99 L92.9 630.4 L93.4 628.17 L93.9 626.07 L94.4 625.19 L94.9 623.75 L95.4 622.72 L95.9 621.62 L96.4 622.17 L96.9 622.81 L97.4 624.92 L97.9 625.99 L98.4 626.78 L98.9 626.92 L99.4 626.59 L99.9 625.85 L100.4 624.31 L100.9 623.99 L101.4 623.23 L101.9 622.8 L102.4 623.49 L102.9 623.97 L103.4 624.03 L103.9 624.62 L104.4 624.68 L104.9 623.11 L105.4 622.74 L105.9 621.74 L106.4 621.37 L106.9 619.72 L107.4 619.49 L107.9 618.81 L108.4 619.3 L108.9 618.75 L109.4 619.7 L109.9 620.17 L110.4 619.88 L110.9 621.14 L111.4 621.62 L111.9 621.96 L112.4 622.03 L112.9 623.64 L113.4 624.21 L113.9 624.28 L114.4 625.75 L114.9 626.13 L115.4 626.49 L115.9 627.3 L116.4 627.97 L116.9 629.34 L117.4 629.36 L117.9 630.55 L118.4 630.86 L118.9 631.85 L119.4 632.18 L119.9 633.17 L120.4 633.98 L120.9 634.67 L121.4 635.01 L121.9 635.89 L122.4 636.35 L122.9 636.4 L123.4 637.1 L123.9 637.41 L124.4 638.29 L124.9 638.52 L125.4 638.94 L125.9 639.51 L126.4 639.78 L126.9 639.8 L127.4 640.23 L127.9 640.78 L128.4 641.14 L128.9 641.41 L129.4 641.71 L129.9 642.12 L130.4 642.55 L130.9 642.54 L131.4 642.93 L131.9 643.08 L132.4 643.25 L132.9 643.31 L133.4 643.42 L133.9 643.53 L134.4 643.62 L134.9 643.7 L135.4 643.76" fill="none" stroke="#4cb86a" stroke-width="1.1" stroke-linejoin="round" opacity="1"/>
<path d="M78.4 643.85 L78.9 643.74 L79.4 643.58 L79.9 643.39 L80.4 643.12 L80.9 642.85 L81.4 642.23 L81.9 641.71 L82.4 641.08 L82.9 640.01 L83.4 639.26 L83.9 638.48 L84.4 637.57 L84.9 637.17 L85.4 635.92 L85.9 634.73 L86.4 633.65 L86.9 631.94 L87.4 630.39 L87.9 629.64 L88.4 627.82 L88.9 625.87 L89.4 624.46 L89.9 623.51 L90.4 622.58 L90.9 621.01 L91.4 619.95 L91.9 618.88 L92.4 619.2 L92.9 619.41 L93.4 619.58 L93.9 622.12 L94.4 623.16 L94.9 625.58 L95.4 626.88 L95.9 629.18 L96.4 630.66 L96.9 633.07 L97.4 634.25 L97.9 636.24 L98.4 637.7 L98.9 638.84 L99.4 639.84 L99.9 640.66 L100.4 641.46 L100.9 642.44 L101.4 642.9 L101.9 643.44 L102.4 643.62 L102.9 643.8" fill="none" stroke="#d04a5e" stroke-width="1.1" stroke-linejoin="round" opacity="1"/>
<path d="M172.4 643.77 L172.9 643.68 L173.4 643.57 L173.9 643.43 L174.4 643.27 L174.9 643.17 L175.4 642.82 L175.9 642.58 L176.4 642.29 L176.9 641.73 L177.4 641.33 L177.9 641.04 L178.4 640.47 L178.9 639.98 L179.4 639.39 L179.9 638.66 L180.4 637.9 L180.9 637.27 L181.4 636.66 L181.9 636.44 L182.4 635.23 L182.9 634.45 L183.4 633.82 L183.9 632.52 L184.4 631.92 L184.9 631.37 L185.4 630.31 L185.9 629.39 L186.4 627.91 L186.9 626.85 L187.4 625.55 L187.9 625.38 L188.4 624.36 L188.9 622.3 L189.4 622.12 L189.9 621.2 L190.4 619.64 L190.9 619.75 L191.4 618.24 L191.9 617.54 L192.4 617.52 L192.9 617.2 L193.4 618.05 L193.9 617.9 L194.4 618.79 L194.9 619.75 L195.4 621.36 L195.9 623.25 L196.4 624.65 L196.9 625.76 L197.4 627.9 L197.9 629.41 L198.4 630.77 L198.9 631.75 L199.4 633.33 L199.9 634.74 L200.4 635.5 L200.9 636.84 L201.4 638.02 L201.9 638.7 L202.4 639.34 L202.9 640.34 L203.4 641.18 L203.9 641.82 L204.4 642.26 L204.9 642.81 L205.4 643.25 L205.9 643.42 L206.4 643.63 L206.9 643.77" fill="none" stroke="#8a6450" stroke-width="1.1" stroke-linejoin="round" opacity="1"/>
<path d="M172.4 643.77 L172.9 643.68 L173.4 643.57 L173.9 643.47 L174.4 643.28 L174.9 643.03 L175.4 642.97 L175.9 642.56 L176.4 642.29 L176.9 641.81 L177.4 641.28 L177.9 640.9 L178.4 640.22 L178.9 639.86 L179.4 639.4 L179.9 638.73 L180.4 638.15 L180.9 637.72 L181.4 636.72 L181.9 636.19 L182.4 635.54 L182.9 634.82 L183.4 633.54 L183.9 632.6 L184.4 631.64 L184.9 631.26 L185.4 630.44 L185.9 628.92 L186.4 628.47 L186.9 626.62 L187.4 625.73 L187.9 625.04 L188.4 623.9 L188.9 622.62 L189.4 622.24 L189.9 621.08 L190.4 619.73 L190.9 619.07 L191.4 618.49 L191.9 618.51 L192.4 617.94 L192.9 617.63 L193.4 617.97 L193.9 617.61 L194.4 618.31 L194.9 618.68 L195.4 620.04 L195.9 620.63 L196.4 622.23 L196.9 623.28 L197.4 624.63 L197.9 625.5 L198.4 626.01 L198.9 627.32 L199.4 628.52 L199.9 628.74 L200.4 629.3 L200.9 629.21 L201.4 629.54 L201.9 629.81 L202.4 629.78 L202.9 630.35 L203.4 631.38 L203.9 631.9 L204.4 631.84 L204.9 632.45 L205.4 632.97 L205.9 633.66 L206.4 634.58 L206.9 634.84 L207.4 635.14 L207.9 635.87 L208.4 636.8 L208.9 637.28 L209.4 637.32 L209.9 638.06 L210.4 638.76 L210.9 638.93 L211.4 639.27 L211.9 639.73 L212.4 640.23 L212.9 640.53 L213.4 641.18 L213.9 641.33 L214.4 641.49 L214.9 641.93 L215.4 642.26 L215.9 642.35 L216.4 642.68 L216.9 643.09 L217.4 643.27 L217.9 643.33 L218.4 643.4 L218.9 643.6 L219.4 643.69 L219.9 643.77" fill="none" stroke="#4a78c8" stroke-width="1.1" stroke-linejoin="round" opacity="1"/>
<path d="M172.4 643.82 L172.9 643.74 L173.4 643.64 L173.9 643.53 L174.4 643.36 L174.9 643.12 L175.4 643.09 L175.9 642.72 L176.4 642.54 L176.9 642.16 L177.4 641.82 L177.9 641.24 L178.4 640.88 L178.9 639.98 L179.4 639.53 L179.9 638.88 L180.4 638.41 L180.9 638.22 L181.4 637.11 L181.9 636.64 L182.4 635.65 L182.9 635.19 L183.4 634.69 L183.9 633.37 L184.4 632.91 L184.9 631.31 L185.4 630.72 L185.9 629.4 L186.4 628.76 L186.9 627.89 L187.4 626.52 L187.9 625.42 L188.4 624.64 L188.9 623.83 L189.4 622.68 L189.9 621.4 L190.4 621.07 L190.9 620.33 L191.4 619.2 L191.9 618.35 L192.4 618.56 L192.9 617.94 L193.4 616.91 L193.9 618 L194.4 617.88 L194.9 619.13 L195.4 620.22 L195.9 620.71 L196.4 621.32 L196.9 622.53 L197.4 624.44 L197.9 624.84 L198.4 625.97 L198.9 627.06 L199.4 627.69 L199.9 628.46 L200.4 629.22 L200.9 629 L201.4 629.62 L201.9 629.47 L202.4 628.95 L202.9 629.27 L203.4 629.56 L203.9 629.69 L204.4 630.24 L204.9 630.74 L205.4 631.02 L205.9 631.95 L206.4 632.17 L206.9 632.94 L207.4 632.7 L207.9 633.32 L208.4 634.07 L208.9 634.99 L209.4 635.04 L209.9 635.98 L210.4 636.17 L210.9 636.8 L211.4 637.34 L211.9 637.76 L212.4 638.51 L212.9 638.65 L213.4 639.24 L213.9 639.54 L214.4 639.89 L214.9 640.53 L215.4 640.79 L215.9 641.12 L216.4 641.52 L216.9 641.49 L217.4 641.81 L217.9 642.19 L218.4 642.47 L218.9 642.63 L219.4 643.06 L219.9 643.18 L220.4 643.27 L220.9 643.44 L221.4 643.56 L221.9 643.66 L222.4 643.74 L222.9 643.8" fill="none" stroke="#4cb86a" stroke-width="1.1" stroke-linejoin="round" opacity="1"/>
<path d="M163.9 640.49 L164.4 640.21 L164.9 639.91 L165.4 639.35 L165.9 639.17 L166.4 638.47 L166.9 638.08 L167.4 637.62 L167.9 637.59 L168.4 636.98 L168.9 636.77 L169.4 636.1 L169.9 635.78 L170.4 634.93 L170.9 634.02 L171.4 633.58 L171.9 633.28 L172.4 632.73 L172.9 631.54 L173.4 631.63 L173.9 630.27 L174.4 629.56 L174.9 629.59 L175.4 628.06 L175.9 627.63 L176.4 627.17 L176.9 626.42 L177.4 625.52 L177.9 624.9 L178.4 623.84 L178.9 623.12 L179.4 623.08 L179.9 622.8 L180.4 621.31 L180.9 620.88 L181.4 620.32 L181.9 620.5 L182.4 620.05 L182.9 618.66 L183.4 618.97 L183.9 618.57 L184.4 617.79 L184.9 618.69 L185.4 618.57 L185.9 620.01 L186.4 620.43 L186.9 621.44 L187.4 623.43 L187.9 624.22 L188.4 625.51 L188.9 627.19 L189.4 628.74 L189.9 630.09 L190.4 631.72 L190.9 633.21 L191.4 634.27 L191.9 635.47 L192.4 636.67 L192.9 637.63 L193.4 638.79 L193.9 639.48 L194.4 640.17 L194.9 640.79 L195.4 641.58 L195.9 642.33 L196.4 642.6 L196.9 643.19 L197.4 643.45 L197.9 643.58 L198.4 643.73 L198.9 643.84" fill="none" stroke="#d04a5e" stroke-width="1.1" stroke-linejoin="round" opacity="1"/>
<path d="M276.2 643.78 L276.7 643.64 L277.2 643.48 L277.7 643.28 L278.2 642.74 L278.7 642.47 L279.2 641.92 L279.7 641.05 L280.2 640.32 L280.7 639.52 L281.2 638.85 L281.7 637.98 L282.2 636.71 L282.7 636.09 L283.2 634.76 L283.7 633.54 L284.2 632.48 L284.7 631.07 L285.2 629.26 L285.7 627.45 L286.2 626.26 L286.7 625.11 L287.2 622.67 L287.7 622.13 L288.2 619.98 L288.7 619.85 L289.2 618.23 L289.7 618.27 L290.2 618.08 L290.7 618.51 L291.2 619.15 L291.7 620.86 L292.2 622.41 L292.7 624.1 L293.2 625.72 L293.7 627.73 L294.2 628.85 L294.7 631.23 L295.2 632.87 L295.7 634.04 L296.2 635.56 L296.7 636.56 L297.2 638.1 L297.7 638.72 L298.2 639.75 L298.7 640.41 L299.2 641.58 L299.7 642.23 L300.2 642.8 L300.7 643.14 L301.2 643.49 L301.7 643.66 L302.2 643.81" fill="none" stroke="#8a6450" stroke-width="1.1" stroke-linejoin="round" opacity="1"/>
<path d="M276.2 643.78 L276.7 643.64 L277.2 643.42 L277.7 643.21 L278.2 642.81 L278.7 642.49 L279.2 641.9 L279.7 641.17 L280.2 640.24 L280.7 639.51 L281.2 638.86 L281.7 638.2 L282.2 637.24 L282.7 636.18 L283.2 635.01 L283.7 633.77 L284.2 632.05 L284.7 630.9 L285.2 628.89 L285.7 628 L286.2 626.45 L286.7 624.98 L287.2 623.53 L287.7 621.52 L288.2 620.33 L288.7 619.6 L289.2 618.04 L289.7 617.62 L290.2 617.86 L290.7 618.14 L291.2 618.92 L291.7 620.25 L292.2 621.92 L292.7 623 L293.2 623.87 L293.7 626.01 L294.2 627.29 L294.7 629.35 L295.2 630.22 L295.7 631.6 L296.2 633.36 L296.7 634.63 L297.2 635.7 L297.7 636.95 L298.2 637.95 L298.7 638.86 L299.2 639.34 L299.7 640.14 L300.2 640.85 L300.7 641.59 L301.2 642.21 L301.7 642.66 L302.2 643.06 L302.7 643.49 L303.2 643.6 L303.7 643.75" fill="none" stroke="#4a78c8" stroke-width="1.1" stroke-linejoin="round" opacity="1"/>
<path d="M276.2 643.84 L276.7 643.73 L277.2 643.57 L277.7 643.42 L278.2 642.96 L278.7 642.6 L279.2 642.19 L279.7 641.58 L280.2 640.9 L280.7 640.04 L281.2 639.47 L281.7 638.46 L282.2 637.72 L282.7 636.83 L283.2 635.23 L283.7 634.23 L284.2 632.7 L284.7 631.79 L285.2 630.1 L285.7 628.87 L286.2 626.79 L286.7 625.87 L287.2 623.88 L287.7 622.5 L288.2 621.39 L288.7 620.45 L289.2 618.93 L289.7 618.11 L290.2 617.33 L290.7 618.25 L291.2 618.8 L291.7 619.42 L292.2 619.8 L292.7 621.58 L293.2 622.35 L293.7 624.31 L294.2 625.59 L294.7 626.32 L295.2 627.91 L295.7 629.63 L296.2 630.62 L296.7 631.5 L297.2 633.17 L297.7 634.19 L298.2 635.36 L298.7 636.3 L299.2 637.5 L299.7 637.83 L300.2 638.78 L300.7 639.58 L301.2 640.23 L301.7 641.06 L302.2 641.43 L302.7 642.03 L303.2 642.62 L303.7 642.92 L304.2 643.21 L304.7 643.5 L305.2 643.62 L305.7 643.75 L306.2 643.85" fill="none" stroke="#4cb86a" stroke-width="1.1" stroke-linejoin="round" opacity="1"/>
<path d="M275.7 643.78 L276.2 643.64 L276.7 643.53 L277.2 643.14 L277.7 642.95 L278.2 642.41 L278.7 642.05 L279.2 641.39 L279.7 640.49 L280.2 639.51 L280.7 638.76 L281.2 637.67 L281.7 636.9 L282.2 635.92 L282.7 635.13 L283.2 633.17 L283.7 632.19 L284.2 630.44 L284.7 629.69 L285.2 627.42 L285.7 626.21 L286.2 624.94 L286.7 623.25 L287.2 622.2 L287.7 620.33 L288.2 619.64 L288.7 618.17 L289.2 618.24 L289.7 617.55 L290.2 618.27 L290.7 619.2 L291.2 620.26 L291.7 622.55 L292.2 623.8 L292.7 625.85 L293.2 627.13 L293.7 628.97 L294.2 630.74 L294.7 632.49 L295.2 634.25 L295.7 635.17 L296.2 636.4 L296.7 637.56 L297.2 638.91 L297.7 639.53 L298.2 640.52 L298.7 641.38 L299.2 642.11 L299.7 642.76 L300.2 643.17 L300.7 643.39 L301.2 643.66 L301.7 643.81" fill="none" stroke="#d04a5e" stroke-width="1.1" stroke-linejoin="round" opacity="1"/>
<path d="M101.4 684.27 L101.9 684.15 L102.4 683.96 L102.9 683.66 L103.4 683.31 L103.9 682.71 L104.4 682.33 L104.9 681.5 L105.4 680.21 L105.9 679.39 L106.4 677.93 L106.9 677.21 L107.4 675.33 L107.9 674.32 L108.4 672.78 L108.9 670.47 L109.4 668.63 L109.9 666.89 L110.4 664.65 L110.9 662.62 L111.4 660.12 L111.9 658.71 L112.4 656.91 L112.9 655.52 L113.4 654.46 L113.9 653.48 L114.4 654.47 L114.9 654.47 L115.4 655.26 L115.9 656.84 L116.4 658.66 L116.9 660.57 L117.4 662.62 L117.9 664.41 L118.4 665.74 L118.9 667.18 L119.4 668.94 L119.9 671.2 L120.4 672.27 L120.9 673.68 L121.4 675.26 L121.9 676.22 L122.4 677.75 L122.9 678.63 L123.4 679.4 L123.9 680.23 L124.4 681.32 L124.9 682.14 L125.4 682.56 L125.9 683.18 L126.4 683.54 L126.9 683.85 L127.4 684.01 L127.9 684.16" fill="none" stroke="#8a6450" stroke-width="1.1" stroke-linejoin="round" opacity="1"/>
<path d="M102.9 684.27 L103.4 684.14 L103.9 683.96 L104.4 683.7 L104.9 683.29 L105.4 682.9 L105.9 682.17 L106.4 681.4 L106.9 680.58 L107.4 679.23 L107.9 678.62 L108.4 677.36 L108.9 675.83 L109.4 674.98 L109.9 673.6 L110.4 671.86 L110.9 670.18 L111.4 667.7 L111.9 666.15 L112.4 664.78 L112.9 662.71 L113.4 660.71 L113.9 659.57 L114.4 658.11 L114.9 656.42 L115.4 656.57 L115.9 657.18 L116.4 657.48 L116.9 659.12 L117.4 659.9 L117.9 661.19 L118.4 663.36 L118.9 664.47 L119.4 666.36 L119.9 667.56 L120.4 669.3 L120.9 670.6 L121.4 672.35 L121.9 674.08 L122.4 675.35 L122.9 676.17 L123.4 677.19 L123.9 678.63 L124.4 679.29 L124.9 680.12 L125.4 680.92 L125.9 681.59 L126.4 682.38 L126.9 682.86 L127.4 683.28 L127.9 683.71 L128.4 683.9 L128.9 684.08 L129.4 684.21" fill="none" stroke="#4a78c8" stroke-width="1.1" stroke-linejoin="round" opacity="1"/>
<path d="M103.4 684.2 L103.9 684.04 L104.4 683.79 L104.9 683.53 L105.4 683.08 L105.9 682.49 L106.4 681.69 L106.9 680.95 L107.4 679.65 L107.9 679.09 L108.4 677.97 L108.9 676.43 L109.4 674.98 L109.9 673.97 L110.4 671.9 L110.9 670.98 L111.4 668.34 L111.9 667.22 L112.4 665.53 L112.9 662.89 L113.4 661.79 L113.9 659.47 L114.4 658.96 L114.9 657.73 L115.4 656.77 L115.9 657.15 L116.4 657.21 L116.9 658.2 L117.4 658.78 L117.9 660.32 L118.4 661.14 L118.9 662.75 L119.4 664.98 L119.9 665.74 L120.4 667.3 L120.9 669.13 L121.4 670.62 L121.9 672.32 L122.4 673.5 L122.9 674.8 L123.4 675.96 L123.9 676.73 L124.4 677.88 L124.9 678.49 L125.4 679.39 L125.9 679.97 L126.4 681.17 L126.9 681.62 L127.4 682.37 L127.9 682.84 L128.4 683.34 L128.9 683.54 L129.4 683.85 L129.9 684.01 L130.4 684.15" fill="none" stroke="#4cb86a" stroke-width="1.1" stroke-linejoin="round" opacity="1"/>
<path d="M81.4 684.23 L81.9 684.09 L82.4 683.84 L82.9 683.57 L83.4 683.27 L83.9 682.7 L84.4 681.82 L84.9 681.2 L85.4 679.8 L85.9 678.91 L86.4 677.74 L86.9 676.77 L87.4 675.32 L87.9 673.81 L88.4 671.94 L88.9 670.76 L89.4 668.48 L89.9 666.77 L90.4 664.42 L90.9 662.79 L91.4 660.92 L91.9 659.09 L92.4 656.66 L92.9 656.01 L93.4 654.42 L93.9 654.33 L94.4 655.71 L94.9 656.75 L95.4 659.25 L95.9 660.26 L96.4 662.9 L96.9 665.8 L97.4 667.69 L97.9 669.94 L98.4 671.89 L98.9 674.11 L99.4 675.39 L99.9 677.12 L100.4 678.78 L100.9 679.5 L101.4 680.75 L101.9 682.07 L102.4 682.73 L102.9 683.28 L103.4 683.7 L103.9 684.05 L104.4 684.23" fill="none" stroke="#d04a5e" stroke-width="1.1" stroke-linejoin="round" opacity="1"/>
<path d="M171.4 684.21 L171.9 684.13 L172.4 684.02 L172.9 683.97 L173.4 683.67 L173.9 683.6 L174.4 683.25 L174.9 683 L175.4 682.74 L175.9 682.21 L176.4 681.79 L176.9 681.18 L177.4 680.58 L177.9 680.07 L178.4 679.43 L178.9 678.91 L179.4 678.46 L179.9 677.76 L180.4 677.05 L180.9 676.51 L181.4 675.68 L181.9 674.41 L182.4 673.5 L182.9 672.66 L183.4 671.67 L183.9 670.79 L184.4 669.66 L184.9 668.46 L185.4 667.97 L185.9 666.38 L186.4 664.66 L186.9 664.3 L187.4 662.85 L187.9 662.15 L188.4 660.83 L188.9 659.08 L189.4 659.02 L189.9 657.13 L190.4 656.28 L190.9 655.44 L191.4 655.61 L191.9 654.29 L192.4 654.78 L192.9 654.92 L193.4 655.01 L193.9 656.6 L194.4 657.75 L194.9 659.94 L195.4 661.68 L195.9 663.08 L196.4 664.99 L196.9 665.99 L197.4 668.29 L197.9 669.3 L198.4 671.16 L198.9 673.07 L199.4 674.06 L199.9 675.64 L200.4 676.67 L200.9 678.02 L201.4 678.52 L201.9 679.41 L202.4 680.42 L202.9 681.31 L203.4 682.19 L203.9 682.84 L204.4 683.24 L204.9 683.5 L205.4 683.81 L205.9 684.02 L206.4 684.17" fill="none" stroke="#8a6450" stroke-width="1.1" stroke-linejoin="round" opacity="1"/>
<path d="M174.4 684.2 L174.9 684.12 L175.4 684.01 L175.9 683.95 L176.4 683.78 L176.9 683.54 L177.4 683.43 L177.9 683.16 L178.4 682.73 L178.9 682.46 L179.4 681.75 L179.9 681.54 L180.4 680.68 L180.9 679.97 L181.4 679.71 L181.9 679.05 L182.4 678.2 L182.9 677.78 L183.4 677.24 L183.9 676.11 L184.4 675.82 L184.9 674.48 L185.4 674.09 L185.9 673.09 L186.4 672.21 L186.9 670.91 L187.4 669.66 L187.9 668.75 L188.4 668.14 L188.9 666.21 L189.4 665.34 L189.9 664.44 L190.4 662.93 L190.9 662.65 L191.4 661.02 L191.9 659.77 L192.4 658.8 L192.9 658.02 L193.4 657.98 L193.9 656.76 L194.4 656.47 L194.9 655.64 L195.4 655.73 L195.9 655.86 L196.4 656.22 L196.9 656.8 L197.4 657.23 L197.9 658.9 L198.4 659.92 L198.9 661.12 L199.4 662.35 L199.9 662.73 L200.4 663.89 L200.9 665.96 L201.4 666.95 L201.9 667.64 L202.4 668.88 L202.9 669.96 L203.4 671.09 L203.9 672.75 L204.4 673.96 L204.9 674.78 L205.4 675.5 L205.9 676.69 L206.4 677.32 L206.9 677.93 L207.4 678.49 L207.9 679.42 L208.4 680 L208.9 680.51 L209.4 681.3 L209.9 681.87 L210.4 682.36 L210.9 682.56 L211.4 682.9 L211.9 683.42 L212.4 683.49 L212.9 683.69 L213.4 683.92 L213.9 684.05 L214.4 684.16" fill="none" stroke="#4a78c8" stroke-width="1.1" stroke-linejoin="round" opacity="1"/>
<path d="M174.9 684.15 L175.4 684.06 L175.9 683.94 L176.4 683.77 L176.9 683.66 L177.4 683.33 L177.9 683.26 L178.4 682.99 L178.9 682.34 L179.4 682.18 L179.9 681.43 L180.4 680.92 L180.9 680.61 L181.4 680.03 L181.9 679.22 L182.4 678.93 L182.9 678.01 L183.4 677.34 L183.9 676.91 L184.4 675.99 L184.9 675.37 L185.4 674.02 L185.9 673.29 L186.4 672.29 L186.9 671.35 L187.4 670.82 L187.9 669 L188.4 668 L188.9 667.14 L189.4 665.94 L189.9 664.9 L190.4 663.49 L190.9 662.61 L191.4 661.82 L191.9 660.49 L192.4 659.86 L192.9 659.19 L193.4 657.72 L193.9 656.53 L194.4 656.1 L194.9 656.29 L195.4 655.63 L195.9 655.57 L196.4 655.92 L196.9 656.6 L197.4 657.22 L197.9 657.8 L198.4 658.48 L198.9 659.91 L199.4 660.66 L199.9 661.89 L200.4 663.66 L200.9 664.66 L201.4 665.77 L201.9 666.89 L202.4 667.91 L202.9 669.23 L203.4 669.7 L203.9 671.02 L204.4 672.37 L204.9 673.09 L205.4 673.87 L205.9 675.33 L206.4 675.84 L206.9 676.41 L207.4 677.53 L207.9 677.91 L208.4 678.6 L208.9 679.46 L209.4 680.08 L209.9 680.37 L210.4 681.2 L210.9 681.79 L211.4 682.22 L211.9 682.54 L212.4 682.85 L212.9 683.15 L213.4 683.44 L213.9 683.77 L214.4 683.89 L214.9 684.01 L215.4 684.12 L215.9 684.2" fill="none" stroke="#4cb86a" stroke-width="1.1" stroke-linejoin="round" opacity="1"/>
<path d="M165.4 684.15 L165.9 684.06 L166.4 683.96 L166.9 683.92 L167.4 683.74 L167.9 683.54 L168.4 683.37 L168.9 683.05 L169.4 682.87 L169.9 682.37 L170.4 682.07 L170.9 681.69 L171.4 681 L171.9 680.59 L172.4 680.29 L172.9 679.42 L173.4 678.96 L173.9 678.35 L174.4 678.13 L174.9 677.55 L175.4 676.62 L175.9 676.31 L176.4 675.01 L176.9 674.47 L177.4 673.75 L177.9 673.32 L178.4 672.27 L178.9 671.26 L179.4 669.84 L179.9 669.67 L180.4 668.29 L180.9 667.82 L181.4 665.95 L181.9 665.19 L182.4 664.15 L182.9 663.26 L183.4 662.97 L183.9 662.02 L184.4 661.42 L184.9 660.04 L185.4 659.89 L185.9 659.14 L186.4 658.63 L186.9 657.3 L187.4 657.2 L187.9 657.84 L188.4 657.5 L188.9 659.35 L189.4 660.47 L189.9 661.47 L190.4 662.43 L190.9 664.72 L191.4 665.57 L191.9 667.41 L192.4 668.74 L192.9 670.7 L193.4 672.41 L193.9 673.74 L194.4 674.55 L194.9 675.92 L195.4 676.86 L195.9 678.21 L196.4 679.06 L196.9 679.88 L197.4 680.29 L197.9 681.28 L198.4 682.23 L198.9 682.62 L199.4 683.28 L199.9 683.52 L200.4 683.83 L200.9 683.99 L201.4 684.15 L201.9 684.26" fill="none" stroke="#d04a5e" stroke-width="1.1" stroke-linejoin="round" opacity="1"/>
<path d="M275.2 684.23 L275.7 684.11 L276.2 683.94 L276.7 683.65 L277.2 683.33 L277.7 682.93 L278.2 682.55 L278.7 681.96 L279.2 680.88 L279.7 679.8 L280.2 679.35 L280.7 677.96 L281.2 676.87 L281.7 676.08 L282.2 674.71 L282.7 673.23 L283.2 671.5 L283.7 670.14 L284.2 668.58 L284.7 666.58 L285.2 665.07 L285.7 663.76 L286.2 661.4 L286.7 659.82 L287.2 658.28 L287.7 656.74 L288.2 655.7 L288.7 654.61 L289.2 653.45 L289.7 653.39 L290.2 654.8 L290.7 655.59 L291.2 658.1 L291.7 659.45 L292.2 661.17 L292.7 663.2 L293.2 665.69 L293.7 667.93 L294.2 669.14 L294.7 671.33 L295.2 673.02 L295.7 674.84 L296.2 676.43 L296.7 677.39 L297.2 678.62 L297.7 679.35 L298.2 680.59 L298.7 681.57 L299.2 682.43 L299.7 682.97 L300.2 683.57 L300.7 683.72 L301.2 684.04 L301.7 684.2" fill="none" stroke="#8a6450" stroke-width="1.1" stroke-linejoin="round" opacity="1"/>
<path d="M275.2 684.23 L275.7 684.11 L276.2 683.94 L276.7 683.68 L277.2 683.36 L277.7 683.07 L278.2 682.59 L278.7 681.7 L279.2 680.84 L279.7 679.82 L280.2 679.21 L280.7 678.17 L281.2 676.96 L281.7 675.89 L282.2 674.42 L282.7 673.68 L283.2 671.63 L283.7 670.72 L284.2 668.48 L284.7 666.82 L285.2 665.51 L285.7 663.34 L286.2 661.26 L286.7 659.27 L287.2 658.6 L287.7 656.59 L288.2 654.96 L288.7 654.87 L289.2 653.26 L289.7 653.29 L290.2 654.82 L290.7 656.11 L291.2 657.6 L291.7 659.13 L292.2 660.66 L292.7 662.2 L293.2 663.86 L293.7 666.17 L294.2 667.65 L294.7 669.94 L295.2 671.44 L295.7 673.56 L296.2 674.68 L296.7 676.28 L297.2 677.39 L297.7 678.05 L298.2 679.4 L298.7 680.2 L299.2 681.14 L299.7 681.98 L300.2 682.79 L300.7 683.25 L301.2 683.5 L301.7 683.84 L302.2 684.04 L302.7 684.19" fill="none" stroke="#4a78c8" stroke-width="1.1" stroke-linejoin="round" opacity="1"/>
<path d="M275.7 684.17 L276.2 684.02 L276.7 683.88 L277.2 683.54 L277.7 683.2 L278.2 682.54 L278.7 682.26 L279.2 681.46 L279.7 680.59 L280.2 679.43 L280.7 678.33 L281.2 677.45 L281.7 676.8 L282.2 675.31 L282.7 674.13 L283.2 672.19 L283.7 670.87 L284.2 669.33 L284.7 667.96 L285.2 666.03 L285.7 664.14 L286.2 662.52 L286.7 660.56 L287.2 659.46 L287.7 657.53 L288.2 655.47 L288.7 655.14 L289.2 654.25 L289.7 653.69 L290.2 654.1 L290.7 655.1 L291.2 656.75 L291.7 657.77 L292.2 659.98 L292.7 661.19 L293.2 663.63 L293.7 665.21 L294.2 667 L294.7 668.55 L295.2 669.87 L295.7 672.09 L296.2 672.87 L296.7 674.87 L297.2 675.51 L297.7 676.69 L298.2 677.96 L298.7 678.76 L299.2 679.55 L299.7 680.81 L300.2 681.51 L300.7 682.51 L301.2 682.81 L301.7 683.29 L302.2 683.59 L302.7 683.96 L303.2 684.08 L303.7 684.22" fill="none" stroke="#4cb86a" stroke-width="1.1" stroke-linejoin="round" opacity="1"/>
<path d="M271.2 684.19 L271.7 684.07 L272.2 683.91 L272.7 683.79 L273.2 683.43 L273.7 683.07 L274.2 682.61 L274.7 682.26 L275.2 681.46 L275.7 680.49 L276.2 680.02 L276.7 679.01 L277.2 678.13 L277.7 677.43 L278.2 676.62 L278.7 675.6 L279.2 674.44 L279.7 673.51 L280.2 672.28 L280.7 670.76 L281.2 669.45 L281.7 667.29 L282.2 666.32 L282.7 664.27 L283.2 663.1 L283.7 661.25 L284.2 659.84 L284.7 658.75 L285.2 657.91 L285.7 657.19 L286.2 656.03 L286.7 655.9 L287.2 655.37 L287.7 657.16 L288.2 657.62 L288.7 659.49 L289.2 661.11 L289.7 662.82 L290.2 664.29 L290.7 666.24 L291.2 668.78 L291.7 670.08 L292.2 671.84 L292.7 673.82 L293.2 675.28 L293.7 676.87 L294.2 677.69 L294.7 678.94 L295.2 679.72 L295.7 680.71 L296.2 681.79 L296.7 682.51 L297.2 683.11 L297.7 683.62 L298.2 683.85 L298.7 684.06 L299.2 684.22" fill="none" stroke="#d04a5e" stroke-width="1.1" stroke-linejoin="round" opacity="1"/>
<path d="M83.4 723.23 L83.9 723.12 L84.4 722.99 L84.9 722.88 L85.4 722.64 L85.9 722.15 L86.4 721.93 L86.9 721.56 L87.4 720.89 L87.9 720.36 L88.4 719.33 L88.9 718.9 L89.4 718.21 L89.9 717.19 L90.4 716.15 L90.9 715.81 L91.4 714.31 L91.9 713.31 L92.4 712.21 L92.9 711.04 L93.4 710.11 L93.9 708.48 L94.4 706.94 L94.9 705.74 L95.4 703.67 L95.9 703.01 L96.4 701.14 L96.9 699.94 L97.4 698.84 L97.9 698.24 L98.4 697.46 L98.9 696.52 L99.4 697.31 L99.9 697.6 L100.4 698.57 L100.9 698.91 L101.4 700 L101.9 700.55 L102.4 701.73 L102.9 703.41 L103.4 704.38 L103.9 705.8 L104.4 706.2 L104.9 707.46 L105.4 708.77 L105.9 709.07 L106.4 710.71 L106.9 711.43 L107.4 712.01 L107.9 712.39 L108.4 713.81 L108.9 714.45 L109.4 714.82 L109.9 715.82 L110.4 716.08 L110.9 717.25 L111.4 717.69 L111.9 718.19 L112.4 718.42 L112.9 719.28 L113.4 719.45 L113.9 719.78 L114.4 720.14 L114.9 720.57 L115.4 721.18 L115.9 721.31 L116.4 721.74 L116.9 722.09 L117.4 722.34 L117.9 722.45 L118.4 722.69 L118.9 722.93 L119.4 722.99 L119.9 723.1 L120.4 723.18" fill="none" stroke="#8a6450" stroke-width="1.1" stroke-linejoin="round" opacity="1"/>
<path d="M83.4 723.23 L83.9 723.12 L84.4 722.99 L84.9 722.84 L85.4 722.66 L85.9 722.16 L86.4 721.82 L86.9 721.44 L87.4 720.69 L87.9 719.96 L88.4 719.53 L88.9 718.88 L89.4 718.22 L89.9 717.2 L90.4 716.36 L90.9 715.47 L91.4 714.27 L91.9 713.35 L92.4 712.35 L92.9 710.83 L93.4 709.28 L93.9 708.76 L94.4 706.99 L94.9 705.95 L95.4 703.95 L95.9 702.92 L96.4 701.17 L96.9 700.14 L97.4 698.69 L97.9 698.19 L98.4 697.42 L98.9 696.45 L99.4 696.58 L99.9 697.6 L100.4 698.63 L100.9 698.62 L101.4 700.71 L101.9 700.88 L102.4 702.02 L102.9 703.39 L103.4 704.02 L103.9 705.15 L104.4 705.63 L104.9 706.28 L105.4 707.1 L105.9 707.75 L106.4 707.61 L106.9 708.33 L107.4 709.06 L107.9 709.07 L108.4 709.75 L108.9 710.16 L109.4 710.07 L109.9 710.73 L110.4 711.06 L110.9 711.45 L111.4 712.22 L111.9 712.67 L112.4 713.15 L112.9 713.67 L113.4 713.83 L113.9 714.23 L114.4 715.1 L114.9 715.27 L115.4 716.05 L115.9 716.61 L116.4 716.61 L116.9 716.97 L117.4 717.63 L117.9 717.64 L118.4 718.17 L118.9 718.73 L119.4 718.84 L119.9 719.13 L120.4 719.77 L120.9 719.7 L121.4 720.19 L121.9 720.51 L122.4 720.7 L122.9 720.87 L123.4 721.08 L123.9 721.41 L124.4 721.75 L124.9 721.81 L125.4 722 L125.9 722.2 L126.4 722.45 L126.9 722.49 L127.4 722.8 L127.9 722.88 L128.4 722.91 L128.9 723 L129.4 723.07 L129.9 723.14 L130.4 723.19" fill="none" stroke="#4a78c8" stroke-width="1.1" stroke-linejoin="round" opacity="1"/>
<path d="M83.9 723.19 L84.4 723.07 L84.9 722.92 L85.4 722.81 L85.9 722.45 L86.4 722.13 L86.9 721.81 L87.4 721.21 L87.9 720.8 L88.4 720.06 L88.9 718.91 L89.4 718.28 L89.9 718 L90.4 716.84 L90.9 716.05 L91.4 715.06 L91.9 713.78 L92.4 712.8 L92.9 711.36 L93.4 710.3 L93.9 708.77 L94.4 708.16 L94.9 706.1 L95.4 705.22 L95.9 703.21 L96.4 702 L96.9 700.52 L97.4 699.58 L97.9 698.97 L98.4 697.93 L98.9 696.96 L99.4 697.48 L99.9 697.05 L100.4 697.6 L100.9 698.27 L101.4 699.74 L101.9 700.55 L102.4 701.56 L102.9 703.05 L103.4 703.72 L103.9 704.33 L104.4 705.54 L104.9 705.87 L105.4 706.28 L105.9 706.29 L106.4 707.29 L106.9 707.69 L107.4 707.98 L107.9 708.11 L108.4 708.94 L108.9 708.56 L109.4 709.38 L109.9 709.58 L110.4 710.26 L110.9 711 L111.4 711.11 L111.9 711.39 L112.4 712.22 L112.9 711.95 L113.4 712.72 L113.9 713.27 L114.4 714.05 L114.9 714.33 L115.4 714.71 L115.9 714.94 L116.4 715.69 L116.9 715.91 L117.4 716.46 L117.9 716.68 L118.4 717 L118.9 717.48 L119.4 717.72 L119.9 718.14 L120.4 718.77 L120.9 718.79 L121.4 719.19 L121.9 719.35 L122.4 719.55 L122.9 720.08 L123.4 720.12 L123.9 720.62 L124.4 720.67 L124.9 721.13 L125.4 721.03 L125.9 721.44 L126.4 721.68 L126.9 721.89 L127.4 722.12 L127.9 722.33 L128.4 722.38 L128.9 722.53 L129.4 722.78 L129.9 722.84 L130.4 722.82 L130.9 722.98 L131.4 723.05 L131.9 723.11 L132.4 723.17" fill="none" stroke="#4cb86a" stroke-width="1.1" stroke-linejoin="round" opacity="1"/>
<path d="M75.9 723.23 L76.4 723.14 L76.9 723.01 L77.4 722.9 L77.9 722.7 L78.4 722.4 L78.9 722.15 L79.4 721.6 L79.9 721.13 L80.4 720.9 L80.9 720.23 L81.4 719.5 L81.9 718.8 L82.4 718.26 L82.9 717.34 L83.4 716.44 L83.9 716.13 L84.4 715.28 L84.9 714.28 L85.4 713.11 L85.9 712.18 L86.4 710.79 L86.9 709.66 L87.4 708.09 L87.9 706.58 L88.4 705.27 L88.9 704.54 L89.4 703.02 L89.9 702.33 L90.4 700.58 L90.9 699.13 L91.4 698.08 L91.9 698.07 L92.4 697.29 L92.9 695.81 L93.4 695.77 L93.9 696.05 L94.4 697.99 L94.9 698.87 L95.4 701.41 L95.9 702.66 L96.4 704.76 L96.9 707.38 L97.4 709.75 L97.9 711.08 L98.4 712.72 L98.9 714.68 L99.4 716.33 L99.9 717.64 L100.4 718.49 L100.9 719.5 L101.4 720.88 L101.9 721.75 L102.4 722.14 L102.9 722.71 L103.4 722.99 L103.9 723.18" fill="none" stroke="#d04a5e" stroke-width="1.1" stroke-linejoin="round" opacity="1"/>
<path d="M174.9 723.24 L175.4 723.15 L175.9 723.03 L176.4 722.89 L176.9 722.73 L177.4 722.4 L177.9 722.03 L178.4 721.81 L178.9 721.25 L179.4 720.89 L179.9 720.26 L180.4 719.35 L180.9 718.7 L181.4 718.19 L181.9 717.54 L182.4 716.72 L182.9 715.85 L183.4 714.95 L183.9 714.31 L184.4 713.43 L184.9 712.69 L185.4 711.18 L185.9 710.17 L186.4 709.31 L186.9 707.16 L187.4 706.58 L187.9 704.7 L188.4 704.42 L188.9 702.85 L189.4 701.22 L189.9 700.25 L190.4 699.24 L190.9 698.58 L191.4 698.34 L191.9 696.9 L192.4 696.69 L192.9 697.31 L193.4 698.02 L193.9 698.9 L194.4 700.7 L194.9 702.32 L195.4 704.03 L195.9 705.55 L196.4 707.34 L196.9 709.45 L197.4 710.74 L197.9 712.64 L198.4 713.88 L198.9 715.42 L199.4 716.29 L199.9 717.36 L200.4 718.42 L200.9 719.44 L201.4 720.44 L201.9 721.23 L202.4 721.81 L202.9 722.43 L203.4 722.67 L203.9 722.94 L204.4 723.12 L204.9 723.25" fill="none" stroke="#8a6450" stroke-width="1.1" stroke-linejoin="round" opacity="1"/>
<path d="M174.9 723.24 L175.4 723.15 L175.9 723.03 L176.4 722.8 L176.9 722.78 L177.4 722.36 L177.9 722.14 L178.4 721.65 L178.9 721.29 L179.4 720.77 L179.9 720.12 L180.4 719.53 L180.9 719.13 L181.4 718.14 L181.9 717.44 L182.4 716.79 L182.9 716.31 L183.4 715.26 L183.9 714.33 L184.4 713.45 L184.9 712.31 L185.4 711.23 L185.9 709.63 L186.4 708.74 L186.9 707.18 L187.4 705.99 L187.9 705.48 L188.4 703.62 L188.9 702.83 L189.4 701.43 L189.9 700.37 L190.4 699.17 L190.9 698.81 L191.4 697.63 L191.9 697.46 L192.4 696.67 L192.9 697.23 L193.4 697.7 L193.9 698.23 L194.4 700.24 L194.9 701.87 L195.4 702.33 L195.9 704.25 L196.4 705.69 L196.9 707.07 L197.4 708.56 L197.9 710.5 L198.4 711.41 L198.9 713.23 L199.4 714.22 L199.9 715.3 L200.4 716.66 L200.9 717.56 L201.4 718.43 L201.9 719.19 L202.4 719.95 L202.9 720.6 L203.4 721.54 L203.9 721.78 L204.4 722.26 L204.9 722.63 L205.4 722.86 L205.9 723.07 L206.4 723.2" fill="none" stroke="#4a78c8" stroke-width="1.1" stroke-linejoin="round" opacity="1"/>
<path d="M175.4 723.2 L175.9 723.1 L176.4 722.97 L176.9 722.84 L177.4 722.54 L177.9 722.25 L178.4 722.06 L178.9 721.64 L179.4 721.27 L179.9 720.71 L180.4 719.79 L180.9 719.21 L181.4 718.73 L181.9 717.99 L182.4 717.56 L182.9 716.92 L183.4 715.88 L183.9 714.85 L184.4 714.18 L184.9 712.9 L185.4 712.01 L185.9 710.95 L186.4 709.36 L186.9 708.5 L187.4 706.91 L187.9 705.64 L188.4 704.78 L188.9 703.92 L189.4 701.85 L189.9 701.03 L190.4 699.94 L190.9 698.86 L191.4 698.2 L191.9 697.11 L192.4 697.76 L192.9 696.44 L193.4 697.3 L193.9 698.33 L194.4 698.78 L194.9 700.04 L195.4 701.77 L195.9 703.89 L196.4 704.77 L196.9 706.54 L197.4 707.93 L197.9 709.22 L198.4 711.28 L198.9 712.08 L199.4 713.79 L199.9 715.03 L200.4 716.26 L200.9 717.2 L201.4 718 L201.9 718.66 L202.4 719.17 L202.9 720.4 L203.4 721.09 L203.9 721.66 L204.4 722.06 L204.9 722.5 L205.4 722.72 L205.9 722.97 L206.4 723.12 L206.9 723.24" fill="none" stroke="#4cb86a" stroke-width="1.1" stroke-linejoin="round" opacity="1"/>
<path d="M168.9 723.21 L169.4 723.13 L169.9 723.03 L170.4 722.91 L170.9 722.83 L171.4 722.68 L171.9 722.34 L172.4 722.03 L172.9 721.89 L173.4 721.56 L173.9 720.91 L174.4 720.65 L174.9 719.92 L175.4 719.6 L175.9 719.41 L176.4 718.81 L176.9 718.48 L177.4 717.91 L177.9 717.16 L178.4 716.19 L178.9 715.47 L179.4 714.85 L179.9 714.18 L180.4 713.44 L180.9 712.69 L181.4 711.74 L181.9 711.03 L182.4 710.27 L182.9 709.04 L183.4 708.69 L183.9 707.79 L184.4 706.74 L184.9 705.72 L185.4 705.67 L185.9 704.98 L186.4 704.51 L186.9 704.32 L187.4 703.91 L187.9 703.46 L188.4 704.56 L188.9 705.03 L189.4 706.22 L189.9 707.08 L190.4 708.16 L190.9 710.07 L191.4 711.07 L191.9 712.62 L192.4 713.53 L192.9 714.71 L193.4 716.15 L193.9 717.16 L194.4 718.05 L194.9 718.86 L195.4 719.33 L195.9 720.01 L196.4 720.74 L196.9 721.57 L197.4 722.07 L197.9 722.53 L198.4 722.77 L198.9 722.98 L199.4 723.14 L199.9 723.26" fill="none" stroke="#d04a5e" stroke-width="1.1" stroke-linejoin="round" opacity="1"/>
<path d="M276.7 723.24 L277.2 723.13 L277.7 722.98 L278.2 722.69 L278.7 722.59 L279.2 722.17 L279.7 721.78 L280.2 720.97 L280.7 720.45 L281.2 719.53 L281.7 719.06 L282.2 717.95 L282.7 717.17 L283.2 716.02 L283.7 714.99 L284.2 713.8 L284.7 712.92 L285.2 711.6 L285.7 709.9 L286.2 708.95 L286.7 706.61 L287.2 705.3 L287.7 704.05 L288.2 702.77 L288.7 701.76 L289.2 700.02 L289.7 698.76 L290.2 698.79 L290.7 698.41 L291.2 697.85 L291.7 698.63 L292.2 699 L292.7 700.39 L293.2 700.82 L293.7 702.14 L294.2 704.01 L294.7 705.09 L295.2 706.38 L295.7 707.85 L296.2 708.83 L296.7 710.22 L297.2 711.38 L297.7 713.01 L298.2 713.93 L298.7 714.94 L299.2 715.88 L299.7 717.12 L300.2 717.46 L300.7 718.4 L301.2 719.21 L301.7 719.48 L302.2 720.4 L302.7 720.98 L303.2 721.52 L303.7 721.99 L304.2 722.27 L304.7 722.74 L305.2 722.89 L305.7 723.03 L306.2 723.16" fill="none" stroke="#8a6450" stroke-width="1.1" stroke-linejoin="round" opacity="1"/>
<path d="M276.7 723.24 L277.2 723.13 L277.7 722.98 L278.2 722.84 L278.7 722.47 L279.2 722.22 L279.7 721.83 L280.2 721.23 L280.7 720.5 L281.2 719.5 L281.7 718.86 L282.2 718.07 L282.7 717.47 L283.2 716.19 L283.7 715.31 L284.2 714.28 L284.7 713.08 L285.2 711.69 L285.7 710.08 L286.2 708.84 L286.7 707.07 L287.2 705.87 L287.7 703.79 L288.2 702.2 L288.7 701.47 L289.2 700.57 L289.7 698.52 L290.2 698.81 L290.7 697.72 L291.2 697.77 L291.7 698.72 L292.2 699.13 L292.7 701.09 L293.2 701.68 L293.7 702.81 L294.2 704.2 L294.7 705.62 L295.2 707.31 L295.7 708.4 L296.2 709.1 L296.7 710.3 L297.2 710.97 L297.7 711.5 L298.2 711.52 L298.7 711.61 L299.2 710.93 L299.7 711.43 L300.2 711.48 L300.7 711.19 L301.2 711.74 L301.7 712.31 L302.2 712.99 L302.7 713.25 L303.2 713.8 L303.7 713.85 L304.2 714.78 L304.7 714.96 L305.2 716 L305.7 716.69 L306.2 716.71 L306.7 717.73 L307.2 717.84 L307.7 718.44 L308.2 719.07 L308.7 719.24 L309.2 719.84 L309.7 719.99 L310.2 720.53 L310.7 720.7 L311.2 721.02 L311.7 721.48 L312.2 721.65 L312.7 721.97 L313.2 722.26 L313.7 722.63 L314.2 722.68 L314.7 722.82 L315.2 723 L315.7 723.1 L316.2 723.18" fill="none" stroke="#4a78c8" stroke-width="1.1" stroke-linejoin="round" opacity="1"/>
<path d="M277.2 723.18 L277.7 723.05 L278.2 722.92 L278.7 722.71 L279.2 722.41 L279.7 721.87 L280.2 721.49 L280.7 720.55 L281.2 719.9 L281.7 718.89 L282.2 718.27 L282.7 717.61 L283.2 716.84 L283.7 715.66 L284.2 714.42 L284.7 713.01 L285.2 711.67 L285.7 710.76 L286.2 709.6 L286.7 707.54 L287.2 706.01 L287.7 704.55 L288.2 702.92 L288.7 701.53 L289.2 700.48 L289.7 699.16 L290.2 699.12 L290.7 697.57 L291.2 697.83 L291.7 698.99 L292.2 699.68 L292.7 700.13 L293.2 701.69 L293.7 702.27 L294.2 704.31 L294.7 705.42 L295.2 706.67 L295.7 707.42 L296.2 709.01 L296.7 709.28 L297.2 710.01 L297.7 710.49 L298.2 710.35 L298.7 710.45 L299.2 710.55 L299.7 710.71 L300.2 711.23 L300.7 711.31 L301.2 711.28 L301.7 712.1 L302.2 712.11 L302.7 712.83 L303.2 713.32 L303.7 713.55 L304.2 714.11 L304.7 714.77 L305.2 715.57 L305.7 716.09 L306.2 716.38 L306.7 716.98 L307.2 717.71 L307.7 718.52 L308.2 718.57 L308.7 719.45 L309.2 719.84 L309.7 719.99 L310.2 720.55 L310.7 720.67 L311.2 721.01 L311.7 721.47 L312.2 721.51 L312.7 721.83 L313.2 722.21 L313.7 722.38 L314.2 722.63 L314.7 722.85 L315.2 722.98 L315.7 723.09 L316.2 723.17" fill="none" stroke="#4cb86a" stroke-width="1.1" stroke-linejoin="round" opacity="1"/>
<path d="M276.2 723.17 L276.7 723.03 L277.2 722.79 L277.7 722.49 L278.2 722.2 L278.7 721.95 L279.2 721.32 L279.7 720.5 L280.2 719.79 L280.7 719.14 L281.2 718.22 L281.7 717.55 L282.2 716.39 L282.7 715.58 L283.2 713.98 L283.7 713.11 L284.2 711.17 L284.7 710.45 L285.2 708.49 L285.7 706.94 L286.2 705.83 L286.7 703.84 L287.2 702.41 L287.7 700.91 L288.2 700.1 L288.7 698.64 L289.2 697.31 L289.7 696.99 L290.2 697.4 L290.7 697.92 L291.2 698.31 L291.7 700.61 L292.2 701.66 L292.7 703.3 L293.2 705.15 L293.7 707.34 L294.2 708.98 L294.7 710.02 L295.2 711.96 L295.7 713.59 L296.2 714.85 L296.7 716.37 L297.2 717.45 L297.7 718.02 L298.2 718.94 L298.7 720.12 L299.2 720.97 L299.7 721.74 L300.2 722.19 L300.7 722.54 L301.2 722.8 L301.7 723.06 L302.2 723.21" fill="none" stroke="#d04a5e" stroke-width="1.1" stroke-linejoin="round" opacity="1"/>
<line x1="62.6" y1="585.9" x2="62.6" y2="729.2" stroke="#111" stroke-width="1.3"/>
<polygon points="62.6,580 59.4,586.4 65.8,586.4" fill="#111"/>
<line x1="62" y1="728.8" x2="151.6" y2="728.8" stroke="#111" stroke-width="1.4"/>
<polygon points="157.5,728.8 151.1,725.8 151.1,731.8" fill="#111"/>
<line x1="163.8" y1="728.8" x2="240.1" y2="728.8" stroke="#111" stroke-width="1.4"/>
<polygon points="246,728.8 239.6,725.8 239.6,731.8" fill="#111"/>
<line x1="260" y1="728.8" x2="338.4" y2="728.8" stroke="#111" stroke-width="1.4"/>
<polygon points="344.3,728.8 337.9,725.8 337.9,731.8" fill="#111"/>
<text x="113.3" y="739.2" font-size="8.8" text-anchor="middle" font-weight="normal" fill="#222" stroke="#222" stroke-width="0.22">p-PLCγ2</text>
<text x="206.5" y="740" font-size="8.8" text-anchor="middle" font-weight="normal" fill="#222" stroke="#222" stroke-width="0.22">p-AKT</text>
<text x="298.5" y="740" font-size="8.8" text-anchor="middle" font-weight="normal" fill="#222" stroke="#222" stroke-width="0.22">p-ERK1/2</text>
<text x="57.8" y="657.5" font-size="10.2" text-anchor="middle" font-weight="normal" fill="#222" stroke="#222" stroke-width="0.22" transform="rotate(-90 57.8 657.5)">Cell number</text>
<line x1="382.3" y1="613.7" x2="398.6" y2="613.7" stroke="#d42030" stroke-width="2"/>
<text x="403.4" y="616.6" font-size="8.2" text-anchor="start" font-weight="normal" fill="#222" stroke="#222" stroke-width="0.22">Isotype</text>
<line x1="382.3" y1="628.3" x2="398.6" y2="628.3" stroke="#20a848" stroke-width="2"/>
<text x="403.4" y="631.2" font-size="8.2" text-anchor="start" font-weight="normal" fill="#222" stroke="#222" stroke-width="0.22">Anti-BCR</text>
<line x1="382.3" y1="645.2" x2="398.6" y2="645.2" stroke="#2070c0" stroke-width="2"/>
<text x="403.4" y="647.1" font-size="8.2" text-anchor="start" font-weight="normal" fill="#222" stroke="#222" stroke-width="0.22">Anti BCR+0.01μM</text>
<text x="403.4" y="656.1" font-size="8.2" text-anchor="start" font-weight="normal" fill="#222" stroke="#222" stroke-width="0.22">PRT318</text>
<line x1="382.3" y1="667.4" x2="398.6" y2="667.4" stroke="#9a7038" stroke-width="2"/>
<text x="403.4" y="669.3" font-size="8.2" text-anchor="start" font-weight="normal" fill="#222" stroke="#222" stroke-width="0.22">Anti BCR+0.25μM</text>
<text x="403.4" y="678.3" font-size="8.2" text-anchor="start" font-weight="normal" fill="#222" stroke="#222" stroke-width="0.22">RT318</text>
</svg>
</body></html>
